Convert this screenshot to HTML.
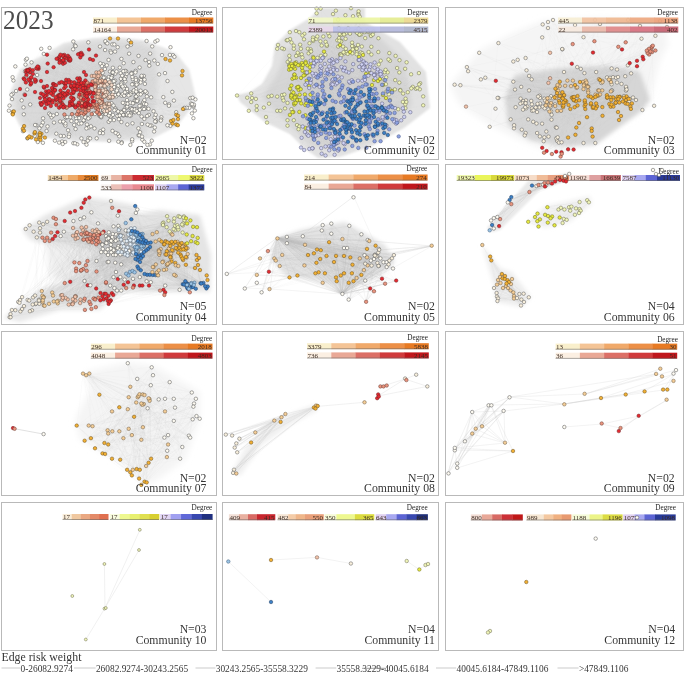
<!DOCTYPE html>
<html><head><meta charset="utf-8"><style>html,body{margin:0;padding:0;background:#fff;width:685px;height:673px;overflow:hidden}svg{display:block;filter:blur(0.3px)}text{opacity:.99}</style></head>
<body><svg width="685" height="673" viewBox="0 0 685 673" font-family="'Liberation Serif', serif">
<rect width="685" height="673" fill="#fff"/>
<style>.c0 circle{fill:#fefbf2;stroke:#505050;stroke-width:0.5;r:1.75px}.c1 circle{fill:#e42a30;stroke:#6e2224;stroke-width:0.5;r:1.75px}.c2 circle{fill:#e9957f;stroke:#6a3a30;stroke-width:0.5;r:1.75px}.c3 circle{fill:#f3c3aa;stroke:#6a5548;stroke-width:0.5;r:1.75px}.c4 circle{fill:#f6dccb;stroke:#6a5a50;stroke-width:0.5;r:1.75px}.c5 circle{fill:#f2b034;stroke:#6a5020;stroke-width:0.5;r:1.75px}.c6 circle{fill:#f0f5b8;stroke:#6a6a50;stroke-width:0.5;r:1.75px}.c7 circle{fill:#e6ea40;stroke:#6a6a20;stroke-width:0.5;r:1.75px}.c8 circle{fill:#cfd2f2;stroke:#5a5a7a;stroke-width:0.5;r:1.75px}.c9 circle{fill:#8ea2e0;stroke:#4a5a8a;stroke-width:0.5;r:1.75px}.c10 circle{fill:#3c80c6;stroke:#1e3c60;stroke-width:0.5;r:1.75px}.c11 circle{fill:#f8efdc;stroke:#585858;stroke-width:0.5;r:1.75px}.c12 circle{fill:#f4cd96;stroke:#6a5a45;stroke-width:0.5;r:1.75px}.c13 circle{fill:#e4eef6;stroke:#5a6a7a;stroke-width:0.5;r:1.75px}.c14 circle{fill:#9cc4e4;stroke:#3a5a7a;stroke-width:0.5;r:1.75px}.c15 circle{fill:#f0f5b8;stroke:#6a6a50;stroke-width:0.5;r:1.45px}</style>
<defs><filter id="b1" x="-20%" y="-20%" width="140%" height="140%"><feGaussianBlur stdDeviation="1"/></filter><filter id="b2" x="-20%" y="-20%" width="140%" height="140%"><feGaussianBlur stdDeviation="2"/></filter><filter id="b3" x="-20%" y="-20%" width="140%" height="140%"><feGaussianBlur stdDeviation="3"/></filter><filter id="b4" x="-20%" y="-20%" width="140%" height="140%"><feGaussianBlur stdDeviation="4"/></filter><filter id="b6" x="-20%" y="-20%" width="140%" height="140%"><feGaussianBlur stdDeviation="6"/></filter></defs>
<path d="M10.4 91.7L19.8 69.8L32.4 60.4L45.0 54.0L63.8 43.1L92.0 38.4L110.8 36.8L142.2 40.0L164.2 47.8L176.8 54.0L189.3 69.8L196.0 98.0L189.3 110.6L176.8 126.3L151.7 138.8L110.8 142.0L63.8 140.4L32.4 135.7L19.8 126.3L10.4 107.4Z" fill="#e6e6e6" fill-opacity="1" filter="url(#b1)"/>
<path d="M16.0 92.0L24.0 72.0L36.0 63.0L50.0 56.0L66.0 46.0L92.0 41.0L112.0 40.0L140.0 43.0L155.0 50.0L158.0 80.0L155.0 110.0L145.0 135.0L110.0 139.0L64.0 137.0L34.0 132.0L22.0 122.0L15.0 106.0Z" fill="#dadada" fill-opacity="1" filter="url(#b2)"/>
<path d="M142 137L123 103M169 104L112 44M165 73L144 76M132 123L98 110M89 91L89 86M60 121L103 95M109 106L50 48M99 83L71 98M99 83L53 89M57 96L174 101M35 136L59 63M120 116L124 63M105 104L59 95M156 122L66 58M112 44L59 95M107 107L93 84M146 104L116 92M190 98L118 142M54 67L13 94M62 102L89 105M95 91L101 80M105 95L151 97M29 79L11 95M44 54L74 99M107 92L98 99M55 141L85 105M88 108L53 90M68 91L125 115M113 82L118 111M69 135L76 129M99 83L71 98M83 142L45 108M114 87L138 94M79 114L99 115M85 86L55 141M69 82L86 75M165 103L112 85M124 79L88 103M101 116L68 91M40 98L106 82M90 59L105 95M193 106L135 112M140 67L106 95M98 110L98 97M115 95L69 137M81 92L112 85M105 86L53 95M115 52L85 105M184 109L112 44M71 94L146 60M71 121L59 95M63 96L93 81M103 64L132 109M36 125L39 138M105 114L95 87M105 50L78 111M140 79L131 103M114 87L38 67M80 90L93 81M102 102L151 126M80 108L86 84M25 95L134 90M97 112L124 96M193 118L95 90M102 82L102 115M124 79L87 92M86 94L86 75M115 95L149 66M128 113L111 103M113 82L90 106M35 79L55 85M78 54L100 81M174 101L75 89M52 88L129 54M84 114L115 74M79 103L85 88M79 97L91 126M134 90L88 93M117 116L112 131M119 119L143 102M133 79L86 142M107 103L116 92M178 116L93 104M170 47L144 142M134 103L60 60M105 111L23 131M121 73L100 47M105 95L9 111M93 104L79 84M120 68L44 54M100 47L105 90M144 109L57 114M110 113L150 54M141 91L98 99M176 125L112 116M155 118L136 89M183 109L68 91M64 57L59 143M184 108L98 97M93 113L37 69M107 107L136 92M63 98L10 106M66 80L93 101M105 92L141 94M193 98L142 124M25 71L61 94M72 104L137 101M136 78L112 116M113 82L120 116M111 51L161 120M9 111L103 92M118 111L125 103M65 123L81 100M23 131L65 123M27 59L79 107M143 103L139 113M155 127L71 98M156 122L87 83M113 72L27 90M128 113L78 54M100 133L110 120M125 79L75 45M114 44L103 130M82 105L103 79M131 115L52 91M137 84L135 72M83 85L125 86M125 115L131 103M49 114L82 109M31 138L71 94M119 93L99 92M60 60L78 54M23 129L86 106M52 91L131 114M141 91L81 123M69 137L99 92M73 90L35 125M22 100L103 91M104 96L137 85M54 123L30 85M89 50L123 103M114 110L178 119M66 58L66 80M136 71L72 105M147 116L100 75M44 54L98 99M81 123L98 106M113 105L32 62M96 76L55 90M125 92L132 77M56 105L102 102M46 102L35 92M116 96L99 101M77 78L87 104M73 93L23 131M149 66L85 109M93 101L96 93M102 115L83 142M105 50L10 106M59 95L119 115M71 86L108 94M59 83L13 114M117 91L65 126M105 95L61 102M104 97L107 107M103 92L86 128M52 91L54 67M85 88L54 123M110 71L143 103M93 101L83 142M105 77L105 87M139 135L109 116M56 97L71 86M25 71L66 117M53 116L32 62M40 137L59 63M49 103L107 103M107 103L118 38M166 59L127 91M52 117L123 94M140 79L76 129M59 97L83 88M60 102L63 96M156 122L193 106M103 79L89 108M84 92L92 85M63 61L127 89M40 140L13 94M148 125L107 103M105 114L135 112M142 117L125 103M103 133L101 103M44 88L109 98M44 97L63 98M124 63L35 125M147 93L101 103M118 94L161 121M139 106L80 87M59 143L137 84M38 142L88 105M147 93L85 88M83 142L103 91M109 104L114 81M98 110L29 136M142 76L81 92M38 67L71 86M105 95L66 118M73 49L64 115M79 103L83 101M144 142L128 47M127 106L24 126M79 84L60 96M79 114L79 124M115 52L171 121M96 72L92 76M87 102L144 76M113 72L60 102M138 94L133 92M62 82L76 118M133 103L60 96M86 145L48 93M119 115L192 104M71 86L74 82M24 114L47 86M98 76L74 92M141 94L74 125M99 114L106 110M144 142L155 121M60 60L109 122M85 105L20 89M88 105L60 99M56 85L29 136M107 103L110 98M66 58L84 72M100 47L59 95M50 101L138 100M167 125L56 100M45 108L35 132M64 93L119 93M28 71L71 82M124 110L120 68M53 101L87 96M75 89L96 94M147 116L111 116M83 93L135 101M57 99L104 96M111 83L88 88M100 131L57 114M131 45L102 110M120 116L140 132M184 109L125 115M102 83L105 86M83 142L100 107M103 83L73 87M72 105L29 79M64 115L31 83M117 116L83 85M135 72L136 89M96 108L85 105M59 58L99 86M113 97L156 122M70 102L43 123M99 86L89 94M128 104L98 99M94 105L147 96M48 126L103 91M74 86L134 112M82 93L155 121M49 91L143 102M63 98L81 113M114 85L97 81M63 56L29 136M60 96L131 74M125 103L85 86M101 116L115 74M131 74L120 68M140 67L74 125M132 109L131 103M138 94L65 84M142 124L63 64M145 91L118 94M139 135L59 58M81 53L87 100M118 111L101 116M102 110L89 107M141 106L100 63M126 88L81 53M56 105L35 82M137 93L47 86M83 91L77 144M88 105L90 84M148 109L104 97M110 97L28 71M88 42L28 71M140 110L93 93M88 88L85 117M149 62L123 115M116 96L109 98M122 142L105 92M94 76L82 106M76 105L92 85M100 116L76 105M123 86L130 113M112 76L47 86M159 74L103 79M49 103L25 94M29 136L102 115M121 143L81 123M144 100L109 104M101 82L35 132M93 102L102 110M124 96L68 94M85 107L51 93M41 126L86 92M99 91L114 120M80 108L71 98M53 116L154 131M145 84L147 145M103 83L98 109M82 115L45 138M60 96L79 111M131 114L121 59M130 93L115 95M102 102L85 103M107 103L54 92M83 85L27 59M109 77L99 92M48 64L82 106M136 96L43 123M98 97L81 98M105 107L132 108M128 104L60 99M114 110L135 101M112 76L60 60M104 96L11 95M145 109L147 93M13 114L44 54M24 78L128 113M109 115L53 95M88 141L146 60M104 105L176 125M28 138L79 84M40 98L153 111M103 73L100 133M141 106L79 105M109 60L25 95M59 95L151 97M121 112L170 47M76 46L173 55M81 113L71 98M123 94L77 90M119 87L27 138M64 123L103 64M60 60L41 94M94 105L66 80M97 138L96 93M127 100L80 57M115 108L99 101M156 115L99 83M98 106L110 98M182 75L114 85M13 94L101 103M109 106L102 102M85 105L92 97M140 67L53 95M59 95L77 144M101 103L89 108M54 123L98 110M100 104L151 97M56 104L80 108M100 107L43 123M85 113L107 84M124 110L144 104M46 102L46 91M63 64L63 96M115 108L102 111M70 103L79 97M90 138L99 92M104 96L194 105M76 116L88 108M147 96L98 110M41 49L9 111M147 116L130 94M114 110L128 95M136 80L82 93M48 93L127 106M141 94L131 42M45 138L79 111M84 114L111 84M105 95L85 113M64 115L100 116M48 99L28 71M114 110L87 83M64 55L105 87M93 105L90 93M78 105L145 91M77 78L35 92M96 81L102 102M132 108L13 114M116 71L52 88M44 54L130 95M83 87L93 60M73 88L24 131M80 87L125 103M105 107L65 106M96 108L124 96M63 56L51 93M73 87L31 83M82 109L113 92M134 103L94 105M33 74L49 103M121 112L100 107M95 114L59 83M107 95L152 46M35 125L125 79M144 76L88 141M130 93L105 50M65 84L105 104M122 76L70 59M152 141L104 91M89 94L101 117M169 104L136 78M109 98L102 83M94 105L125 103M90 105L63 122M102 110L76 129M46 104L41 134M131 115L41 94M48 101L77 78M75 91L126 88M71 98L109 141M102 102L131 114M88 141L35 92M80 84L93 84M68 130L73 90M28 71L120 68M56 97L102 85M69 137L128 113M53 116L103 85M77 121L85 103M98 97L145 91M102 66L66 80M136 92L66 118M112 131L110 71M85 104L69 57M81 98L44 54M130 94L62 82M145 92L31 77M138 94L116 71M52 88L84 121M100 110L127 114M87 83L101 116M63 105L72 114M38 142L23 129M134 90L96 81M62 142L103 95M85 86L91 85M63 93L161 117M69 59L147 41M103 79L67 117M112 76L29 79M47 72L36 81M45 138L105 85M99 83L135 112M105 90L45 96M110 97L59 97M98 78L31 83M40 133L30 85M108 93L40 103M40 135L69 60M104 105L99 83M111 103L138 128M61 136L92 107M99 92L83 142M136 71L107 92M107 92L120 68M133 84L143 102M93 93L138 128M53 89L78 54M77 144L100 91M81 53L13 77M112 131L135 110M136 89L65 123M83 106L36 81M48 126L114 110M145 92L127 89M70 59L101 103M100 63L112 85M131 108L53 89M80 78L134 90M94 128L37 75M94 128L125 77M54 67L70 117M68 130L87 100M95 91L92 107M105 92L120 114M50 101L102 66M89 105L85 88M111 84L132 73M89 86L169 104M107 84L96 85M107 111L116 92M118 111L62 82M150 126L47 95M86 106L117 116M61 91L106 114M60 102L141 106M132 109L48 101M131 115L46 91M118 111L86 75M176 115L109 104M123 86L50 115M83 87L88 93M189 108L127 125M140 67L43 102M132 139L80 78M91 126L42 104M26 75L20 89M81 123L137 101M94 101L113 115M144 142L112 76M101 117L138 100M111 51L80 78M65 63L35 125M60 56L9 111M87 100L87 104M156 120L102 110M95 87L143 103M134 90L130 145M70 104L81 138M93 113L53 89M96 85L98 109M89 108L109 122M116 71L140 110M99 97L142 93M105 92L114 81M132 109L104 96M69 137L81 53M68 130L49 103M85 86L167 125M65 106L107 107M24 131L31 78M76 118L114 87M119 119L89 127M83 93L136 85M85 88L119 87M105 107L142 140M125 79L43 102M121 73L109 115M144 76L26 65M63 64L136 82M98 97L66 117M83 103L116 92M131 103L135 72M44 88L152 46M125 86L95 80M157 40L142 93M116 71L94 101M68 91L83 101M131 115L85 107M103 83L106 43M105 95L103 133M89 91L109 104M105 50L101 85M91 126L159 74M125 92L85 117M114 120L48 93M102 108L59 97M52 88L132 139M111 116L152 46M170 60L195 111M61 91L100 63M136 78L105 107M100 81L127 125M59 83L39 67M105 81L26 65M89 127L63 60M154 60L165 73M79 118L90 84M66 107L88 138M102 92L191 104M94 76L59 95M75 107L24 126M61 136L124 79M121 112L168 81M137 84L133 103M103 73L88 108M74 99L36 139M106 110L120 116M69 106L86 128M170 126L110 120M103 95L75 91M96 81L182 75M99 92L101 80M85 109L95 90M97 112L39 128M145 84L87 97M107 95L84 121M77 86L61 94M26 70L48 101M170 55L59 83M80 108L142 124M85 112L91 92M103 85L72 105M65 63L96 94M118 134L86 128M90 106L88 108M40 137L127 91M93 113L173 55M97 95L30 85M128 113L79 114M94 101L89 86M118 111L112 76M107 103L142 76M13 94L44 87M106 110L159 74M107 92L130 95M102 102L140 67M88 88L47 72M123 103L99 92M64 93L135 112M43 118L102 81M75 143L51 106M122 86L108 94M45 99L118 94M83 95L149 66M156 122L64 93M48 99L136 92M68 56L110 38M47 55L122 76M105 86L110 120M52 88L35 136M63 56L125 92M156 115L88 100M174 57L127 108M77 114L72 101M105 50L143 103M69 80L110 97M11 95L48 104M170 60L156 122M140 67L142 76M90 84L22 100M56 104L105 92M110 38L123 71M105 81L100 116M145 92L70 117M48 99L88 42M135 72L117 89M112 131L124 88M142 137L86 94M153 111L113 97M103 130L63 144M47 55L99 92M81 92L67 93M124 79L26 72M166 59L80 90M86 142L41 105M103 83L55 85M152 141L66 117M105 77L77 144M103 64L35 82M57 114L118 94M154 131L71 87M102 108L105 85M66 58L125 92M83 106L118 47M60 101L101 83M13 114L77 78M138 128L131 73M85 104L89 86M170 60L76 46M135 112L73 49M170 60L141 82M54 123L57 96M103 79L52 91M127 106L125 81M173 55L99 86M156 120L112 76M41 81L77 78M148 125L111 90M41 105L102 110M59 63L71 87M26 76L106 110M195 111L144 119M109 104L82 104M71 86L26 76M65 123L133 79M96 72L113 115M102 83L72 104M105 92L85 86M105 50L133 92M101 117L89 50M98 82L117 91M97 112L174 101M50 101L107 93M90 105L121 73M157 40L79 118M126 71L111 83M104 91L31 77M103 83L101 82M167 125L146 60M114 81L123 71M57 96L85 93M101 111L107 84M51 106L97 105M54 67L145 91M88 108L112 131M29 136L36 68M108 80L144 142M149 115L176 115M123 71L82 106M110 95L94 128M84 92L108 94M105 50L148 109M161 117L126 107M120 68L131 103M84 72L157 40M193 107L88 100M83 101L118 111M86 142L112 44M142 137L60 99M130 93L76 105M65 63L82 109M150 126L82 93M39 128L85 86M83 91L161 117M69 135L89 110M112 76L27 90M91 85L23 131M103 73L109 104M106 43L144 109M96 76L47 72M66 118L85 104M104 105L76 108M71 98L124 96M60 102L122 96M119 115L40 133M105 90L93 93M102 66L71 86M133 62L189 108M85 104L97 95M139 135L57 96M110 82L60 60M103 85L78 111M132 141L64 57M92 114L128 47M30 69L53 90M80 108L176 115M82 55L55 90M67 117L98 94M83 93L38 142M113 115L87 96M103 91L62 82M74 82L27 138M63 122L44 97M125 77L24 107M101 82L151 126M100 81L77 114M63 98L50 99M85 117L141 106M107 103L87 94M88 88L82 105M110 113L100 81M73 93L39 134M70 117L41 134M65 106L97 138M102 100L107 92M26 72L100 104M141 94L128 104M143 103L80 87M83 95L56 134M88 103L123 103M92 107L143 102M77 86L75 143M144 109L56 100M106 91L104 78M55 90L79 105M63 56L108 94M101 85L65 94M178 125L85 112M120 68L85 117M15 66L86 128M102 102L190 98M101 80L53 101M100 116L47 131M125 71L88 118M68 130L61 102M85 103L90 106M105 95L156 120M66 58L61 102M105 77L65 142M60 56L71 86M127 106L60 60M107 111L26 70M82 106L61 106M111 116L86 94M99 83L127 114M136 89L75 91M108 85L76 129M28 71L105 95M70 103L117 116M110 109L130 116M90 106L109 122M63 107L15 66M93 113L139 56M83 101L136 82M128 47L100 104M43 118L121 59M97 79L103 89M84 120L93 101M82 109L65 142M156 115L109 141M135 72L39 134M24 126L73 41M116 96L93 84M105 86L39 69M178 116L105 77M102 83L106 91M170 126L72 104M161 120L108 107M57 99L90 138M120 68L83 91M60 60L47 131M76 129L130 93M44 97L66 87M161 121L83 103M96 76L85 105M132 123L148 125M14 111L79 97M125 86L107 95M134 103L172 124M61 94L104 96M82 104L124 88M61 136L110 38M142 109L142 93M44 87L60 56M12 99L24 107M101 82L195 111M36 68L113 97M80 87L62 82M165 73L127 108M96 97L90 84M73 98L29 136M30 69L123 94M126 71L44 54M36 125L26 82M101 117L45 108M77 84L87 96M117 91L87 97M93 105L124 63M75 91L99 115M87 83L39 128M80 90L27 90M80 80L70 59M134 112L106 110M109 81L100 104M45 96L105 50M124 96L36 68M105 77L13 112M66 87L149 115M90 84L57 59M109 60L43 94M60 102L132 73M61 94L65 123M109 60L83 87M63 96L47 86M99 97L141 82M109 77L105 107M131 108L65 126M127 125L140 110M87 92L136 89M144 100L103 95M65 142L88 88M70 117L119 115M88 138L26 60M109 141L60 102M178 116L63 144M83 101L25 94M60 102L105 41M71 121L132 109M127 89L183 109M38 142L85 105M89 110L89 127M121 122L102 83M136 71L118 47M106 82L89 91M85 112L95 114M59 63L56 104M28 71L48 99M99 97L106 114M75 143L63 107M131 115L136 82M61 62L72 105M83 101L60 102M105 41L84 99M135 110L149 62M98 95L107 107M195 99L98 110M43 94L156 115M105 85L40 137M109 98L61 91M76 46L142 117M136 82L59 95M101 83L85 105M98 94L104 105M90 105L59 58M121 59L128 95M88 42L178 119M112 95L106 104M133 62L100 107M166 59L141 106M69 106L100 75M38 67L128 95M147 41L65 106M89 105L80 84M52 88L119 87M47 55L141 94M48 104L70 104M66 80L87 88M99 115L85 105M133 84L98 106M24 131L108 93M131 108L64 93M88 93L131 74M96 86L120 114M61 55L111 84M102 83L68 94M116 96L109 77M195 111L123 71M89 108L28 138M89 127L72 105M60 60L73 87M155 121L114 85M152 46L87 102M99 86L130 93M69 57L73 143M85 88L112 72M93 104L87 94M76 118L72 105M89 105L85 107M101 80L142 124M84 121L139 135M82 93L41 134M144 80L125 81M83 88L82 104M117 89L30 105M133 79L77 121M38 142L137 84M113 97L142 117M110 113L67 108M97 105L85 104M121 112L139 106M59 63L122 86M90 105L136 101M59 97L11 95M125 103L107 65M74 92L148 125M102 102L85 109M133 103L79 114M88 103L101 82M110 95L161 120M28 71L97 138M139 56L56 105M60 101L36 68M121 112L136 82M31 78L85 116M105 81L99 97M85 93L44 87M105 77L102 83M141 82L82 55M103 133L85 95M73 93L40 135M114 110L79 97M152 141L133 79M104 96L97 81M120 114L155 42M110 120L103 110M125 81L56 104M152 141L109 77M106 91L48 126M50 115L60 60M24 80L132 84M61 136L86 92M56 134L114 81M111 83L71 94M60 96L63 144M94 101L115 81M75 107L96 94M57 59L111 84M53 90L98 109M145 91L71 94M118 94L98 82M24 107L63 56M105 85L102 66M147 93L35 92M83 106L111 90M193 106L80 108M78 105L127 91M191 104L92 114M45 138L69 137M109 81L118 142M90 105L60 102M44 88L135 101M76 116L143 102M61 102L106 110M77 144L106 43M39 138L110 97M23 129L28 70M59 143L122 86M147 116L141 80M115 95L144 109M123 115L104 78M36 68L49 114M96 89L93 105M134 112L139 135M81 53L123 86M135 101L87 100M96 89L115 52M96 56L132 123M76 129L139 106M100 133L32 62M99 92L124 88M119 93L131 114M53 89L98 106M47 72L131 114M111 84L105 50M136 97L129 40M28 71L62 82M62 82L65 84M100 104L133 103M73 105L74 82M146 104L136 78M56 105L113 92M101 80L41 134M148 109L105 81M107 92L87 92M111 83L142 117M81 92L104 91M107 108L60 102M79 97L121 83M103 110L137 101M98 82L49 103M93 93L35 92M59 95L93 93M129 54L55 90M123 86L110 95M97 81L132 139M105 114L130 93M149 115L107 95M91 92L85 105M111 116L74 86M59 143L67 117M107 108L85 105M86 94L63 56M98 94L118 86M126 88L69 135M184 109L79 84M187 108L133 79M105 77L79 81M113 72L101 111M44 88L40 98M59 97L111 78M112 76L87 94M110 120L80 80M141 82L124 88M139 106L109 98M73 87L77 144M66 96L112 88M146 60L62 82M28 70L133 92M38 67L101 82M45 99L61 136M126 107L41 105M98 97L105 86M170 47L124 96M183 109L110 98M109 77L35 132M75 143L79 84M184 109L125 115M79 107L83 91M144 142L93 104M116 110L85 103M33 70L85 80M87 104L46 104M36 68L101 117M43 118L74 92M85 104L59 143M129 40L79 95M80 53L34 133M79 81L85 105M75 91L97 79M119 87L73 49M16 91L87 96M101 85L68 94M35 92L43 123M47 86L96 97M86 84L67 108M112 89L122 96M107 107L42 104M71 94L85 105M93 113L56 105M24 131L40 140M117 91L131 114M139 106L98 99M70 60L103 92M125 79L33 70M97 112L57 96M59 95L109 77M31 83L60 102M93 93L25 94M47 95L105 107M71 87L89 86M67 117L71 98M136 78L142 76M76 105L85 80M23 129L62 82M144 119L60 102M98 82L23 129M169 104L72 104M121 122L103 64M102 85L158 64M138 94L75 86M193 118L101 71M43 123L70 60M131 108L65 123M97 105L122 76M137 93L112 131M24 114L40 137M80 53L109 106M133 79L64 136M65 123L105 77M103 133L136 109M65 84L68 56M103 95L69 80M135 72L104 91M99 92L71 87M105 92L130 93M47 131L55 85M103 133L150 145M112 76L118 111M111 78L123 71M156 122L68 91M102 108L24 114M81 138L48 64M76 118L96 56M67 93L92 76M124 110L173 120M51 93L116 110M30 105L99 114M173 55L128 47M176 115L114 87M121 79L123 86M57 59L98 110M94 101L56 104M62 142L80 84M148 125L59 95M120 114L85 88M66 83L131 42M66 87L25 95M81 113L22 100M101 117L66 87M79 111L81 113M194 105L111 103M25 95L105 111M77 144L69 59M151 126L64 123M86 128L121 122M79 105L48 99M112 89L73 87M47 131L102 100M94 101L59 95M140 67L67 108M47 55L39 69M56 134L85 105M139 56L152 46M24 126L71 87M127 115L89 107M13 80L63 64M83 142L41 105M45 108L125 81M84 99L92 76M48 93L64 55M114 44L142 137M31 83L100 107M111 51L103 133M134 90L105 95M98 99L100 91M84 72L131 73M31 83L112 116M47 86L107 92M113 97L74 125M105 92L71 82M135 72L142 117M91 92L82 109M165 73L165 103M82 93L193 107M62 102L107 108M52 91L59 95M112 95L38 142M33 70L48 99M76 116L63 96M118 134L156 115M118 94L28 138M97 112L37 69M71 98L157 40M47 95L98 95M140 132L141 82M136 82L96 86M69 80L129 54M116 110L81 138M88 105L105 95M113 82L60 102M60 121L129 40M98 99L54 123M26 60L60 96M76 116L85 104M136 109L119 136M142 124L33 74M139 106L105 90M65 126L73 41M27 59L104 97M60 102L100 131M86 128L24 114M47 95L30 81M86 142L145 91M124 88L110 109M70 61L47 72M104 96L141 91M45 99L155 118M150 54L125 81M103 130L80 87M96 89L82 55M79 105L96 94M13 112L64 115M184 109L77 84M109 81L65 142M31 83L118 111M83 91L9 111M88 108L85 105M106 95L102 82M43 118L60 60M85 88L115 74M130 93L86 84M50 99L70 102M102 102L121 122M112 131L95 90M76 116L39 134M137 101L115 81M82 93L111 98M66 87L98 97M46 102L74 92M138 94L71 121M101 76L110 97M123 94L53 95M107 111L86 92M85 105L134 112M49 103L32 62M24 114L41 134M88 100L86 92M29 136L131 115M26 65L31 83M48 64L75 89M116 133L50 115M182 71L144 100M44 97L103 73M86 84L77 78M105 95L193 98M72 114L139 135M99 86L122 76M121 112L93 102M143 103L193 98M112 88L41 81M105 69L172 124M95 91L82 103M111 83L92 114M144 80L95 91M84 99L40 137M53 103L40 135M59 97L79 81M127 91L112 76M144 104L80 78M14 111L53 84M144 109L54 67M106 104L66 117M102 66L86 92M69 82L62 102M15 66L124 115M136 71L80 108M43 102L84 92M37 75L100 81M65 142L44 97M112 88L87 104M98 97L101 71M87 96L86 75M94 128L96 76M122 76L123 71M142 124L141 80M76 116L59 95M87 100L85 105M130 113L76 116M136 85L92 85M99 83L141 106M102 82L24 131M139 135L109 115M105 69L70 60M103 91L79 84M120 114L69 57M65 142L20 89M131 45L60 56M97 79L99 92M98 82L69 80M133 79L147 93M84 86L65 94M78 54L138 94M36 81L123 71M99 115L103 91M109 122L39 128M85 113L87 100M145 84L109 115M83 101L47 95M69 82L137 85M94 101L92 114M89 91L84 83M105 81L110 113M64 93L112 116M149 66L85 105M89 50L142 140M155 121L118 142M170 47L106 95M40 137L75 107M145 109L105 92M10 106L45 108M96 81L195 99M105 87L81 113M109 60L41 94M90 138L86 84M61 136L85 109M100 116L141 106M109 104L26 70M83 101L99 86M161 121L65 63M71 87L66 96M108 107L57 59M128 113L131 115M98 76L140 110M127 106L27 59M101 76L66 117M86 94L105 87M109 81L77 78M96 86L158 64M76 46L64 93M139 106L67 93M131 103L91 92M39 134L102 83M82 99L59 108M65 84L24 131M121 143L47 86M79 84L136 85M46 91L73 90M100 81L85 107M158 64L170 47M112 131L138 100M192 104L154 60M113 97L73 90M47 86L106 95M84 86L148 109M97 95L63 122M105 92L135 101M98 110L112 89M132 141L63 122M84 120L107 93M150 54L46 91M114 87L63 96M63 122L151 97M140 79L41 94M84 83L57 59M91 92L124 96M55 141L115 95M178 119L101 80M56 134L64 93M81 55L35 82M145 108L132 139M81 83L76 118M30 85L55 90M106 91L14 111M104 97L92 107M94 105L100 116M84 72L35 136M101 83L112 131M100 116L56 104M145 92L110 71M59 95L118 134M74 86L86 104M50 48L49 103M77 87L64 83M37 75L124 110M75 86L41 134M50 48L130 95M112 76L154 60M138 94L144 80M90 105L96 72M86 84L12 99M159 74L173 55M77 86L51 93M53 103L119 115M63 60L57 99M120 68L124 88M90 93L98 106M142 109L178 116M156 115L121 112M107 92L82 99M63 56L31 78M80 90L112 95M138 100L111 51M137 101L123 103M63 122L43 143M121 79L105 114M105 97L109 116M132 73L44 54M61 62L96 85M96 72L105 86M57 96L72 105M44 54L91 85M107 107L81 92M75 107L85 107M100 47L131 42M82 55L143 102M26 65L85 112M56 100L131 42M84 83L131 114M83 91L84 114M80 57L85 105M30 81L102 81M128 104L127 115M38 67L97 81M92 85L144 109M52 88L146 104M106 43L31 83M100 103L71 94M46 104L43 94M123 71L107 111M88 105L64 88M83 103L107 65M136 92L141 80M132 73L85 105M128 47L133 92M80 53L157 40M109 98L49 103M85 80L150 54M83 101L109 104M92 114L193 98M87 124L130 93M101 80L81 53M139 56L24 78M80 87L121 79M86 94L59 95M111 98L136 109M103 73L69 80M83 95L116 110M98 76L45 108M156 115L136 97M55 90L79 84M140 79L83 101M83 103L55 90M115 108L41 81M103 92L109 106M100 81L105 104M62 82L83 88M84 86L108 80M83 85L100 47M79 105L97 105M99 72L161 120M70 60L26 76M64 115L111 51M82 99L79 95M137 85L113 68M136 109L56 85M93 60L75 86M45 138L70 60M137 85L102 102M66 96L84 114M77 78L106 82M80 78L169 106M138 94L100 81M119 115L83 93M88 88L148 125M63 98L141 80M136 78L76 108M13 112L120 114M145 109L81 123M40 137L156 120M142 124L71 82M64 123L101 111M39 69L102 81M100 91L127 125M80 90L134 103M111 51L130 113M99 83L120 68M130 94L71 87M40 103L74 99" stroke="#bdbdbd" stroke-width="0.45" stroke-opacity="0.12" fill="none"/>
<g class="c0"><circle cx="127.5" cy="46.5"/><circle cx="155.3" cy="41.6"/><circle cx="145.5" cy="60.0"/><circle cx="104.9" cy="69.0"/><circle cx="103.2" cy="64.3"/><circle cx="105.9" cy="42.7"/><circle cx="136.1" cy="89.1"/><circle cx="110.5" cy="51.1"/><circle cx="149.1" cy="62.0"/><circle cx="173.0" cy="55.2"/><circle cx="112.3" cy="44.4"/><circle cx="126.2" cy="88.4"/><circle cx="115.4" cy="73.6"/><circle cx="154.3" cy="60.5"/><circle cx="146.6" cy="41.0"/><circle cx="105.1" cy="50.0"/><circle cx="157.8" cy="63.9"/><circle cx="126.7" cy="73.9"/><circle cx="138.5" cy="55.9"/><circle cx="167.5" cy="81.0"/><circle cx="120.7" cy="73.2"/><circle cx="144.6" cy="92.1"/><circle cx="162.0" cy="55.1"/><circle cx="135.5" cy="84.7"/><circle cx="112.9" cy="67.8"/><circle cx="103.3" cy="79.1"/><circle cx="165.0" cy="73.1"/><circle cx="174.4" cy="56.8"/><circle cx="159.1" cy="74.4"/><circle cx="149.3" cy="65.7"/><circle cx="140.3" cy="78.8"/><circle cx="105.2" cy="81.2"/><circle cx="169.9" cy="54.9"/><circle cx="132.8" cy="79.1"/><circle cx="101.9" cy="66.1"/><circle cx="114.3" cy="44.4"/><circle cx="105.0" cy="85.4"/><circle cx="111.0" cy="52.6"/><circle cx="133.2" cy="91.9"/><circle cx="106.8" cy="65.3"/><circle cx="146.7" cy="92.7"/><circle cx="123.7" cy="63.2"/><circle cx="130.5" cy="92.7"/><circle cx="115.0" cy="51.6"/><circle cx="119.8" cy="67.6"/><circle cx="150.1" cy="53.6"/><circle cx="100.3" cy="63.4"/><circle cx="131.4" cy="72.7"/><circle cx="143.8" cy="75.9"/><circle cx="157.5" cy="40.4"/><circle cx="133.4" cy="62.1"/><circle cx="108.8" cy="77.0"/><circle cx="105.3" cy="41.2"/><circle cx="117.7" cy="47.2"/><circle cx="128.9" cy="40.3"/><circle cx="100.0" cy="46.5"/><circle cx="108.6" cy="59.9"/><circle cx="102.2" cy="92.1"/><circle cx="152.2" cy="46.4"/><circle cx="121.4" cy="58.9"/><circle cx="131.0" cy="44.7"/><circle cx="139.6" cy="67.5"/><circle cx="107.3" cy="43.4"/><circle cx="129.1" cy="53.7"/><circle cx="170.5" cy="47.2"/><circle cx="125.5" cy="77.0"/><circle cx="126.2" cy="71.3"/><circle cx="142.9" cy="103.4"/><circle cx="111.6" cy="87.6"/><circle cx="106.7" cy="107.1"/><circle cx="125.7" cy="107.4"/><circle cx="115.1" cy="80.7"/><circle cx="142.3" cy="108.7"/><circle cx="140.6" cy="105.5"/><circle cx="109.8" cy="94.8"/><circle cx="116.5" cy="71.4"/><circle cx="99.5" cy="83.4"/><circle cx="111.5" cy="103.2"/><circle cx="109.5" cy="80.9"/><circle cx="108.2" cy="79.8"/><circle cx="130.5" cy="113.2"/><circle cx="141.7" cy="93.0"/><circle cx="132.0" cy="108.4"/><circle cx="102.4" cy="101.7"/><circle cx="145.3" cy="107.6"/><circle cx="137.0" cy="92.9"/><circle cx="107.3" cy="107.9"/><circle cx="115.3" cy="108.4"/><circle cx="118.9" cy="115.4"/><circle cx="135.7" cy="78.2"/><circle cx="104.6" cy="77.3"/><circle cx="145.1" cy="108.7"/><circle cx="105.6" cy="109.7"/><circle cx="116.2" cy="96.3"/><circle cx="125.4" cy="114.8"/><circle cx="120.6" cy="111.8"/><circle cx="141.0" cy="80.1"/><circle cx="111.1" cy="84.1"/><circle cx="110.5" cy="98.1"/><circle cx="111.5" cy="90.1"/><circle cx="104.8" cy="113.7"/><circle cx="116.4" cy="92.0"/><circle cx="128.3" cy="113.4"/><circle cx="119.9" cy="114.1"/><circle cx="124.1" cy="95.5"/><circle cx="125.2" cy="70.9"/><circle cx="120.9" cy="78.8"/><circle cx="107.0" cy="92.7"/><circle cx="135.7" cy="96.7"/><circle cx="115.0" cy="94.9"/><circle cx="126.9" cy="107.6"/><circle cx="103.5" cy="96.9"/><circle cx="110.9" cy="83.3"/><circle cx="138.2" cy="94.4"/><circle cx="127.2" cy="106.5"/><circle cx="145.4" cy="91.3"/><circle cx="129.9" cy="94.3"/><circle cx="124.6" cy="103.3"/><circle cx="121.5" cy="95.6"/><circle cx="122.9" cy="115.2"/><circle cx="134.4" cy="112.1"/><circle cx="127.1" cy="115.3"/><circle cx="141.7" cy="76.6"/><circle cx="104.3" cy="91.2"/><circle cx="101.8" cy="81.6"/><circle cx="101.8" cy="102.1"/><circle cx="138.8" cy="113.1"/><circle cx="106.0" cy="104.4"/><circle cx="132.3" cy="76.9"/><circle cx="109.4" cy="115.7"/><circle cx="118.7" cy="93.4"/><circle cx="106.4" cy="90.7"/><circle cx="124.8" cy="86.3"/><circle cx="108.2" cy="85.3"/><circle cx="135.6" cy="70.9"/><circle cx="126.8" cy="91.1"/><circle cx="98.9" cy="85.9"/><circle cx="130.4" cy="94.6"/><circle cx="101.3" cy="117.3"/><circle cx="103.4" cy="82.7"/><circle cx="100.1" cy="107.4"/><circle cx="112.1" cy="76.2"/><circle cx="120.0" cy="113.7"/><circle cx="140.6" cy="82.4"/><circle cx="105.8" cy="114.1"/><circle cx="127.7" cy="103.6"/><circle cx="102.7" cy="72.8"/><circle cx="133.8" cy="90.4"/><circle cx="101.8" cy="115.0"/><circle cx="131.0" cy="108.5"/><circle cx="102.4" cy="111.1"/><circle cx="101.5" cy="111.4"/><circle cx="121.6" cy="86.3"/><circle cx="126.8" cy="114.5"/><circle cx="111.9" cy="76.2"/><circle cx="125.4" cy="81.4"/><circle cx="103.7" cy="77.7"/><circle cx="100.6" cy="79.7"/><circle cx="114.2" cy="84.6"/><circle cx="137.5" cy="83.9"/><circle cx="124.0" cy="78.5"/><circle cx="136.1" cy="96.5"/><circle cx="107.9" cy="92.8"/><circle cx="140.6" cy="90.7"/><circle cx="123.7" cy="110.1"/><circle cx="118.4" cy="94.3"/><circle cx="115.8" cy="109.9"/><circle cx="134.7" cy="100.5"/><circle cx="119.0" cy="86.7"/><circle cx="100.8" cy="76.2"/><circle cx="101.7" cy="105.6"/><circle cx="111.3" cy="77.8"/><circle cx="102.4" cy="110.4"/><circle cx="143.3" cy="102.2"/><circle cx="112.7" cy="81.6"/><circle cx="113.2" cy="92.1"/><circle cx="106.2" cy="91.4"/><circle cx="111.7" cy="116.2"/><circle cx="110.7" cy="116.4"/><circle cx="114.1" cy="87.1"/><circle cx="122.7" cy="94.1"/><circle cx="108.5" cy="94.2"/><circle cx="102.7" cy="89.2"/><circle cx="113.8" cy="81.2"/><circle cx="128.5" cy="95.4"/><circle cx="137.0" cy="101.6"/><circle cx="135.2" cy="112.2"/><circle cx="118.3" cy="85.7"/><circle cx="135.7" cy="100.9"/><circle cx="100.3" cy="110.1"/><circle cx="144.4" cy="100.1"/><circle cx="136.2" cy="109.0"/><circle cx="105.2" cy="95.1"/><circle cx="124.2" cy="110.1"/><circle cx="139.8" cy="109.7"/><circle cx="128.4" cy="112.9"/><circle cx="133.5" cy="103.3"/><circle cx="110.0" cy="71.5"/><circle cx="104.9" cy="87.3"/><circle cx="103.5" cy="110.1"/><circle cx="127.0" cy="100.1"/><circle cx="130.6" cy="102.7"/><circle cx="139.5" cy="105.9"/><circle cx="124.2" cy="95.7"/><circle cx="132.3" cy="73.2"/><circle cx="136.3" cy="82.1"/><circle cx="101.9" cy="82.7"/><circle cx="135.9" cy="79.9"/><circle cx="123.7" cy="88.4"/><circle cx="122.9" cy="102.8"/><circle cx="137.9" cy="99.6"/><circle cx="131.4" cy="73.7"/><circle cx="105.7" cy="82.2"/><circle cx="136.6" cy="84.6"/><circle cx="101.2" cy="82.9"/><circle cx="132.9" cy="103.2"/><circle cx="133.1" cy="84.0"/><circle cx="124.9" cy="92.3"/><circle cx="122.2" cy="75.7"/><circle cx="144.5" cy="79.6"/><circle cx="148.9" cy="114.9"/><circle cx="98.9" cy="92.0"/><circle cx="121.4" cy="82.9"/><circle cx="108.9" cy="115.4"/><circle cx="109.0" cy="97.9"/><circle cx="105.4" cy="95.2"/><circle cx="140.7" cy="94.4"/><circle cx="144.1" cy="103.8"/><circle cx="110.0" cy="113.1"/><circle cx="123.3" cy="71.2"/><circle cx="121.4" cy="84.5"/><circle cx="105.3" cy="86.5"/><circle cx="114.4" cy="110.3"/><circle cx="141.6" cy="75.8"/><circle cx="146.2" cy="104.2"/><circle cx="144.9" cy="83.9"/><circle cx="117.4" cy="88.9"/><circle cx="116.8" cy="90.5"/><circle cx="112.3" cy="72.3"/><circle cx="103.3" cy="110.1"/><circle cx="112.9" cy="114.9"/><circle cx="111.0" cy="82.8"/><circle cx="124.6" cy="79.1"/><circle cx="117.4" cy="115.9"/><circle cx="144.0" cy="109.0"/><circle cx="130.8" cy="113.8"/><circle cx="146.9" cy="96.4"/><circle cx="135.4" cy="72.4"/><circle cx="136.1" cy="91.6"/><circle cx="137.1" cy="100.9"/><circle cx="112.9" cy="72.4"/><circle cx="122.6" cy="86.5"/><circle cx="113.5" cy="105.5"/><circle cx="132.1" cy="84.4"/><circle cx="127.0" cy="88.9"/><circle cx="56.8" cy="114.0"/><circle cx="62.0" cy="141.5"/><circle cx="99.6" cy="116.1"/><circle cx="93.5" cy="113.2"/><circle cx="79.5" cy="111.4"/><circle cx="66.1" cy="117.6"/><circle cx="109.1" cy="140.8"/><circle cx="132.5" cy="123.3"/><circle cx="88.8" cy="127.4"/><circle cx="84.0" cy="120.5"/><circle cx="43.1" cy="118.3"/><circle cx="100.4" cy="131.3"/><circle cx="147.2" cy="116.0"/><circle cx="70.2" cy="117.2"/><circle cx="87.0" cy="124.5"/><circle cx="148.5" cy="108.8"/><circle cx="39.2" cy="134.3"/><circle cx="151.4" cy="125.5"/><circle cx="85.9" cy="142.3"/><circle cx="142.3" cy="139.7"/><circle cx="161.4" cy="117.2"/><circle cx="49.2" cy="113.7"/><circle cx="102.9" cy="133.2"/><circle cx="119.2" cy="136.3"/><circle cx="94.5" cy="128.4"/><circle cx="40.1" cy="136.9"/><circle cx="65.2" cy="142.0"/><circle cx="118.9" cy="119.2"/><circle cx="51.6" cy="117.3"/><circle cx="117.7" cy="133.8"/><circle cx="103.2" cy="129.6"/><circle cx="85.5" cy="116.3"/><circle cx="74.2" cy="125.0"/><circle cx="149.9" cy="125.6"/><circle cx="65.5" cy="117.1"/><circle cx="99.8" cy="133.0"/><circle cx="89.6" cy="117.5"/><circle cx="121.8" cy="142.2"/><circle cx="78.9" cy="123.6"/><circle cx="123.7" cy="115.3"/><circle cx="138.6" cy="135.3"/><circle cx="100.6" cy="115.6"/><circle cx="161.1" cy="119.5"/><circle cx="141.6" cy="116.5"/><circle cx="63.8" cy="136.1"/><circle cx="73.3" cy="143.2"/><circle cx="99.4" cy="114.9"/><circle cx="64.0" cy="123.4"/><circle cx="121.5" cy="143.1"/><circle cx="54.0" cy="122.6"/><circle cx="62.7" cy="144.0"/><circle cx="42.8" cy="122.6"/><circle cx="151.8" cy="140.7"/><circle cx="130.3" cy="144.9"/><circle cx="156.1" cy="120.2"/><circle cx="59.1" cy="142.6"/><circle cx="132.0" cy="109.2"/><circle cx="121.4" cy="122.0"/><circle cx="83.6" cy="120.3"/><circle cx="71.4" cy="121.0"/><circle cx="81.4" cy="138.4"/><circle cx="141.9" cy="124.0"/><circle cx="41.4" cy="125.5"/><circle cx="83.5" cy="142.0"/><circle cx="60.1" cy="121.5"/><circle cx="88.4" cy="138.0"/><circle cx="134.7" cy="109.5"/><circle cx="154.6" cy="117.5"/><circle cx="132.1" cy="141.2"/><circle cx="79.1" cy="118.1"/><circle cx="69.1" cy="134.5"/><circle cx="76.1" cy="118.2"/><circle cx="154.1" cy="131.5"/><circle cx="65.4" cy="125.6"/><circle cx="85.2" cy="117.3"/><circle cx="90.9" cy="126.3"/><circle cx="155.7" cy="114.8"/><circle cx="139.3" cy="135.3"/><circle cx="142.0" cy="136.6"/><circle cx="113.9" cy="120.1"/><circle cx="76.5" cy="121.4"/><circle cx="136.7" cy="110.9"/><circle cx="60.7" cy="135.9"/><circle cx="39.4" cy="128.4"/><circle cx="77.3" cy="144.3"/><circle cx="149.9" cy="144.5"/><circle cx="47.5" cy="126.4"/><circle cx="127.3" cy="124.5"/><circle cx="65.4" cy="123.4"/><circle cx="115.6" cy="132.9"/><circle cx="132.2" cy="139.3"/><circle cx="121.4" cy="112.5"/><circle cx="144.3" cy="118.9"/><circle cx="108.7" cy="121.8"/><circle cx="130.9" cy="115.4"/><circle cx="67.2" cy="117.1"/><circle cx="54.9" cy="140.7"/><circle cx="110.2" cy="120.1"/><circle cx="86.5" cy="144.7"/><circle cx="101.0" cy="116.6"/><circle cx="140.1" cy="132.2"/><circle cx="96.7" cy="138.3"/><circle cx="144.3" cy="141.8"/><circle cx="50.5" cy="115.0"/><circle cx="155.9" cy="121.8"/><circle cx="147.6" cy="124.6"/><circle cx="68.8" cy="136.8"/><circle cx="112.5" cy="130.9"/><circle cx="63.3" cy="121.6"/><circle cx="53.4" cy="115.5"/><circle cx="68.1" cy="130.2"/><circle cx="119.7" cy="115.5"/><circle cx="123.2" cy="114.9"/><circle cx="75.6" cy="115.5"/><circle cx="138.4" cy="128.3"/><circle cx="86.4" cy="128.4"/><circle cx="118.1" cy="111.4"/><circle cx="56.3" cy="133.7"/><circle cx="88.3" cy="118.5"/><circle cx="75.0" cy="143.3"/><circle cx="75.6" cy="129.0"/><circle cx="81.4" cy="123.4"/><circle cx="147.4" cy="144.9"/><circle cx="82.3" cy="115.3"/><circle cx="129.6" cy="115.5"/><circle cx="90.1" cy="138.4"/><circle cx="87.8" cy="140.7"/><circle cx="94.9" cy="114.0"/><circle cx="118.3" cy="141.7"/><circle cx="46.6" cy="131.0"/><circle cx="21.7" cy="100.4"/><circle cx="13.4" cy="80.5"/><circle cx="27.3" cy="138.3"/><circle cx="12.0" cy="99.1"/><circle cx="37.8" cy="142.0"/><circle cx="15.3" cy="66.4"/><circle cx="42.9" cy="142.8"/><circle cx="25.9" cy="59.8"/><circle cx="37.1" cy="75.0"/><circle cx="23.0" cy="131.2"/><circle cx="16.1" cy="91.0"/><circle cx="27.2" cy="89.5"/><circle cx="12.6" cy="77.2"/><circle cx="34.8" cy="135.8"/><circle cx="9.5" cy="105.6"/><circle cx="30.2" cy="104.5"/><circle cx="31.2" cy="82.6"/><circle cx="23.5" cy="107.4"/><circle cx="23.8" cy="114.3"/><circle cx="24.5" cy="94.5"/><circle cx="8.9" cy="110.7"/><circle cx="26.1" cy="76.2"/><circle cx="36.3" cy="125.2"/><circle cx="25.0" cy="71.2"/><circle cx="25.5" cy="64.6"/><circle cx="12.8" cy="93.8"/><circle cx="11.4" cy="94.8"/><circle cx="26.9" cy="58.7"/><circle cx="31.5" cy="62.4"/><circle cx="35.1" cy="125.0"/><circle cx="189.4" cy="107.8"/><circle cx="186.7" cy="107.8"/><circle cx="193.5" cy="106.8"/><circle cx="195.4" cy="99.4"/><circle cx="190.3" cy="98.1"/><circle cx="193.4" cy="118.2"/><circle cx="184.2" cy="108.5"/><circle cx="193.5" cy="105.7"/><circle cx="192.6" cy="97.7"/><circle cx="194.8" cy="110.6"/><circle cx="191.1" cy="103.6"/><circle cx="193.9" cy="104.5"/><circle cx="192.1" cy="104.2"/><circle cx="184.3" cy="107.9"/><circle cx="191.9" cy="113.4"/><circle cx="165.2" cy="102.8"/><circle cx="151.1" cy="97.3"/><circle cx="154.8" cy="127.5"/><circle cx="170.4" cy="125.8"/><circle cx="155.1" cy="121.4"/><circle cx="153.5" cy="111.2"/><circle cx="169.1" cy="104.4"/><circle cx="176.2" cy="112.2"/><circle cx="167.4" cy="125.3"/><circle cx="168.9" cy="105.8"/><circle cx="173.9" cy="100.6"/><circle cx="160.8" cy="120.6"/><circle cx="163.3" cy="97.1"/><circle cx="172.3" cy="91.9"/><circle cx="88.3" cy="42.3"/><circle cx="73.1" cy="49.3"/><circle cx="75.0" cy="45.3"/><circle cx="49.6" cy="47.9"/><circle cx="73.3" cy="41.5"/><circle cx="75.6" cy="46.1"/><circle cx="43.8" cy="53.9"/><circle cx="41.2" cy="48.8"/></g>
<g class="c1"><circle cx="67.9" cy="55.8"/><circle cx="59.6" cy="60.5"/><circle cx="69.4" cy="59.3"/><circle cx="58.6" cy="57.9"/><circle cx="59.7" cy="56.4"/><circle cx="69.3" cy="57.4"/><circle cx="63.1" cy="63.8"/><circle cx="68.6" cy="60.0"/><circle cx="59.8" cy="60.4"/><circle cx="69.6" cy="60.6"/><circle cx="68.9" cy="59.3"/><circle cx="65.8" cy="58.3"/><circle cx="64.9" cy="62.7"/><circle cx="56.6" cy="58.8"/><circle cx="64.3" cy="57.1"/><circle cx="61.4" cy="61.6"/><circle cx="70.2" cy="60.4"/><circle cx="64.4" cy="54.9"/><circle cx="70.3" cy="59.2"/><circle cx="62.8" cy="55.6"/><circle cx="62.7" cy="55.6"/><circle cx="63.4" cy="60.6"/><circle cx="63.2" cy="60.0"/><circle cx="59.5" cy="62.7"/><circle cx="60.5" cy="54.7"/><circle cx="80.1" cy="53.5"/><circle cx="78.1" cy="54.3"/><circle cx="81.3" cy="52.9"/><circle cx="80.3" cy="57.4"/><circle cx="82.4" cy="54.7"/><circle cx="81.0" cy="54.7"/><circle cx="29.8" cy="80.9"/><circle cx="29.7" cy="69.2"/><circle cx="29.9" cy="72.4"/><circle cx="32.9" cy="73.9"/><circle cx="30.5" cy="84.6"/><circle cx="26.0" cy="72.1"/><circle cx="26.5" cy="70.2"/><circle cx="23.7" cy="78.4"/><circle cx="27.9" cy="70.0"/><circle cx="24.5" cy="79.6"/><circle cx="26.5" cy="75.1"/><circle cx="31.3" cy="83.1"/><circle cx="35.9" cy="80.6"/><circle cx="30.7" cy="78.0"/><circle cx="35.3" cy="81.8"/><circle cx="28.5" cy="79.5"/><circle cx="31.4" cy="77.3"/><circle cx="28.0" cy="71.0"/><circle cx="28.0" cy="70.5"/><circle cx="34.9" cy="79.5"/><circle cx="25.9" cy="82.5"/><circle cx="32.8" cy="70.2"/><circle cx="38.6" cy="68.8"/><circle cx="38.5" cy="67.0"/><circle cx="37.1" cy="68.6"/><circle cx="36.4" cy="68.2"/><circle cx="37.6" cy="66.5"/><circle cx="47.0" cy="54.7"/><circle cx="47.7" cy="63.6"/><circle cx="53.6" cy="67.2"/><circle cx="47.0" cy="72.0"/><circle cx="41.0" cy="81.0"/><circle cx="20.0" cy="89.0"/><circle cx="89.0" cy="49.5"/><circle cx="90.0" cy="59.0"/><circle cx="96.0" cy="55.6"/><circle cx="93.0" cy="60.0"/><circle cx="84.0" cy="72.0"/><circle cx="86.0" cy="75.0"/><circle cx="55.0" cy="90.0"/><circle cx="40.0" cy="98.0"/><circle cx="45.0" cy="108.0"/><circle cx="35.0" cy="92.0"/><circle cx="25.0" cy="95.0"/></g>
<g class="c2"><circle cx="95.8" cy="108.0"/><circle cx="95.7" cy="86.5"/><circle cx="99.2" cy="83.2"/><circle cx="86.9" cy="92.0"/><circle cx="85.9" cy="103.6"/><circle cx="88.3" cy="87.8"/><circle cx="105.0" cy="95.1"/><circle cx="101.8" cy="99.7"/><circle cx="90.2" cy="105.9"/><circle cx="87.7" cy="103.2"/><circle cx="93.1" cy="83.7"/><circle cx="101.0" cy="81.8"/><circle cx="99.3" cy="114.1"/><circle cx="91.8" cy="106.9"/><circle cx="83.2" cy="94.8"/><circle cx="87.7" cy="108.3"/><circle cx="85.3" cy="112.8"/><circle cx="85.9" cy="83.6"/><circle cx="97.6" cy="94.9"/><circle cx="81.1" cy="100.5"/><circle cx="97.5" cy="106.5"/><circle cx="95.6" cy="89.2"/><circle cx="89.2" cy="90.8"/><circle cx="83.8" cy="85.5"/><circle cx="103.2" cy="95.0"/><circle cx="88.6" cy="110.4"/><circle cx="84.5" cy="93.4"/><circle cx="92.9" cy="105.2"/><circle cx="99.1" cy="100.9"/><circle cx="87.8" cy="88.1"/><circle cx="82.3" cy="108.7"/><circle cx="96.5" cy="104.7"/><circle cx="82.7" cy="92.6"/><circle cx="99.7" cy="98.2"/><circle cx="81.5" cy="93.5"/><circle cx="102.8" cy="84.5"/><circle cx="83.4" cy="87.1"/><circle cx="97.7" cy="108.7"/><circle cx="84.9" cy="88.1"/><circle cx="92.6" cy="81.4"/><circle cx="87.2" cy="82.6"/><circle cx="98.5" cy="92.4"/><circle cx="83.5" cy="100.5"/><circle cx="89.2" cy="106.6"/><circle cx="97.4" cy="95.0"/><circle cx="95.7" cy="93.5"/><circle cx="82.0" cy="99.1"/><circle cx="89.3" cy="104.6"/><circle cx="103.4" cy="92.2"/><circle cx="94.1" cy="105.0"/><circle cx="89.8" cy="84.1"/><circle cx="98.2" cy="110.2"/><circle cx="99.7" cy="103.0"/><circle cx="101.9" cy="102.2"/><circle cx="96.0" cy="93.2"/><circle cx="86.8" cy="100.1"/><circle cx="80.7" cy="91.8"/><circle cx="99.9" cy="103.5"/><circle cx="95.6" cy="85.0"/><circle cx="89.9" cy="93.2"/><circle cx="95.4" cy="91.4"/><circle cx="96.9" cy="112.2"/><circle cx="83.1" cy="101.2"/><circle cx="99.8" cy="90.5"/><circle cx="91.7" cy="114.0"/><circle cx="79.1" cy="96.7"/><circle cx="82.5" cy="106.3"/><circle cx="104.3" cy="95.8"/><circle cx="80.8" cy="98.0"/><circle cx="93.1" cy="103.7"/></g>
<g class="c3"><circle cx="99.2" cy="96.8"/><circle cx="104.9" cy="91.9"/><circle cx="96.4" cy="72.4"/><circle cx="94.9" cy="86.8"/><circle cx="97.6" cy="99.3"/><circle cx="96.3" cy="81.1"/><circle cx="106.9" cy="92.1"/><circle cx="97.1" cy="78.9"/><circle cx="104.6" cy="96.6"/><circle cx="98.4" cy="93.6"/><circle cx="96.4" cy="96.8"/><circle cx="104.7" cy="104.3"/><circle cx="98.4" cy="82.4"/><circle cx="99.9" cy="75.3"/><circle cx="105.0" cy="84.9"/><circle cx="105.3" cy="81.2"/><circle cx="96.8" cy="80.6"/><circle cx="97.7" cy="77.8"/><circle cx="95.1" cy="80.3"/><circle cx="95.4" cy="90.1"/><circle cx="97.7" cy="96.8"/><circle cx="101.9" cy="85.2"/><circle cx="101.4" cy="70.6"/><circle cx="101.8" cy="80.5"/><circle cx="91.8" cy="76.0"/><circle cx="96.2" cy="76.4"/><circle cx="101.0" cy="102.8"/><circle cx="102.0" cy="107.5"/><circle cx="104.2" cy="105.2"/><circle cx="99.6" cy="101.2"/><circle cx="100.0" cy="81.1"/><circle cx="94.2" cy="75.9"/><circle cx="98.9" cy="72.5"/><circle cx="98.4" cy="76.1"/><circle cx="98.8" cy="90.9"/></g>
<g class="c4"><circle cx="107.6" cy="106.8"/><circle cx="106.6" cy="95.4"/><circle cx="109.3" cy="105.9"/><circle cx="105.2" cy="89.9"/><circle cx="108.9" cy="98.2"/><circle cx="109.6" cy="109.4"/><circle cx="104.6" cy="111.3"/><circle cx="107.1" cy="92.4"/><circle cx="110.1" cy="97.8"/><circle cx="104.7" cy="106.7"/><circle cx="105.1" cy="92.0"/><circle cx="107.4" cy="103.3"/><circle cx="103.0" cy="90.5"/><circle cx="105.9" cy="95.1"/><circle cx="111.6" cy="85.1"/><circle cx="111.6" cy="89.3"/><circle cx="107.1" cy="84.3"/><circle cx="107.1" cy="111.0"/><circle cx="109.2" cy="104.1"/><circle cx="104.6" cy="86.0"/><circle cx="104.2" cy="96.3"/><circle cx="108.9" cy="103.8"/><circle cx="112.4" cy="94.7"/><circle cx="100.7" cy="85.4"/><circle cx="112.9" cy="97.1"/><circle cx="109.2" cy="104.0"/><circle cx="112.7" cy="97.2"/><circle cx="108.6" cy="97.8"/><circle cx="109.7" cy="96.7"/><circle cx="109.5" cy="82.1"/></g>
<g class="c2"><circle cx="79.7" cy="108.0"/><circle cx="83.2" cy="103.3"/><circle cx="61.7" cy="102.5"/><circle cx="83.7" cy="113.9"/><circle cx="79.3" cy="106.8"/><circle cx="85.4" cy="112.2"/><circle cx="75.8" cy="105.4"/><circle cx="66.2" cy="107.5"/><circle cx="66.8" cy="107.6"/><circle cx="78.7" cy="114.1"/><circle cx="56.5" cy="103.5"/><circle cx="85.0" cy="109.5"/><circle cx="89.0" cy="107.8"/><circle cx="76.9" cy="114.2"/><circle cx="70.3" cy="103.3"/><circle cx="78.8" cy="104.8"/><circle cx="60.6" cy="102.2"/><circle cx="59.8" cy="102.2"/><circle cx="81.6" cy="105.1"/><circle cx="82.1" cy="104.4"/><circle cx="81.4" cy="113.1"/><circle cx="82.0" cy="103.1"/><circle cx="78.3" cy="111.2"/><circle cx="72.0" cy="114.1"/><circle cx="64.4" cy="114.5"/></g>
<g class="c1"><circle cx="79.6" cy="78.3"/><circle cx="85.4" cy="80.4"/><circle cx="56.0" cy="99.9"/><circle cx="47.6" cy="103.8"/><circle cx="66.2" cy="79.8"/><circle cx="59.3" cy="95.2"/><circle cx="63.4" cy="98.3"/><circle cx="46.4" cy="101.9"/><circle cx="59.1" cy="97.3"/><circle cx="74.5" cy="90.5"/><circle cx="60.4" cy="101.6"/><circle cx="92.8" cy="101.5"/><circle cx="70.9" cy="86.8"/><circle cx="78.8" cy="102.8"/><circle cx="57.3" cy="96.2"/><circle cx="72.9" cy="87.3"/><circle cx="62.9" cy="104.6"/><circle cx="59.8" cy="98.5"/><circle cx="72.9" cy="104.9"/><circle cx="84.8" cy="86.5"/><circle cx="62.5" cy="95.6"/><circle cx="85.3" cy="104.6"/><circle cx="40.5" cy="103.0"/><circle cx="85.1" cy="104.0"/><circle cx="71.2" cy="86.2"/><circle cx="87.4" cy="102.2"/><circle cx="77.7" cy="105.4"/><circle cx="70.1" cy="101.9"/><circle cx="49.6" cy="100.5"/><circle cx="92.0" cy="85.0"/><circle cx="73.2" cy="98.3"/><circle cx="65.0" cy="84.2"/><circle cx="52.8" cy="100.5"/><circle cx="83.9" cy="91.8"/><circle cx="43.1" cy="102.2"/><circle cx="82.8" cy="85.0"/><circle cx="71.6" cy="104.9"/><circle cx="89.3" cy="93.7"/><circle cx="65.6" cy="95.7"/><circle cx="48.5" cy="99.0"/><circle cx="59.0" cy="94.9"/><circle cx="61.3" cy="93.5"/><circle cx="44.2" cy="97.0"/><circle cx="83.7" cy="82.7"/><circle cx="72.6" cy="88.3"/><circle cx="88.2" cy="92.6"/><circle cx="70.9" cy="85.8"/><circle cx="83.2" cy="90.8"/><circle cx="92.9" cy="101.0"/><circle cx="85.5" cy="106.9"/><circle cx="70.3" cy="104.1"/><circle cx="64.6" cy="106.4"/><circle cx="72.7" cy="89.9"/><circle cx="52.9" cy="94.9"/><circle cx="75.2" cy="106.7"/><circle cx="76.8" cy="89.8"/><circle cx="64.0" cy="82.8"/><circle cx="52.8" cy="88.6"/><circle cx="90.4" cy="105.1"/><circle cx="83.6" cy="99.3"/><circle cx="75.5" cy="107.6"/><circle cx="81.8" cy="106.2"/><circle cx="77.3" cy="87.0"/><circle cx="72.3" cy="100.7"/><circle cx="44.1" cy="87.7"/><circle cx="65.9" cy="83.1"/><circle cx="77.3" cy="78.4"/><circle cx="79.6" cy="83.9"/><circle cx="50.8" cy="106.0"/><circle cx="88.3" cy="104.7"/><circle cx="46.1" cy="91.4"/><circle cx="86.9" cy="96.9"/><circle cx="64.2" cy="88.2"/><circle cx="85.7" cy="92.3"/><circle cx="74.4" cy="82.3"/><circle cx="79.4" cy="94.6"/><circle cx="46.4" cy="104.1"/><circle cx="53.5" cy="90.4"/><circle cx="47.0" cy="86.1"/><circle cx="86.7" cy="88.0"/><circle cx="47.7" cy="92.7"/><circle cx="56.4" cy="105.1"/><circle cx="41.3" cy="104.9"/><circle cx="76.8" cy="84.3"/><circle cx="65.7" cy="86.6"/><circle cx="53.0" cy="84.0"/><circle cx="59.1" cy="107.7"/><circle cx="43.7" cy="86.7"/><circle cx="80.1" cy="86.8"/><circle cx="84.8" cy="88.2"/><circle cx="86.3" cy="93.8"/><circle cx="48.8" cy="91.1"/><circle cx="90.9" cy="84.5"/><circle cx="71.1" cy="82.1"/><circle cx="48.4" cy="101.1"/><circle cx="79.3" cy="83.9"/><circle cx="73.3" cy="92.9"/><circle cx="53.9" cy="84.2"/><circle cx="73.5" cy="99.2"/><circle cx="85.1" cy="95.5"/><circle cx="80.5" cy="90.2"/><circle cx="79.9" cy="79.7"/><circle cx="85.0" cy="88.1"/><circle cx="86.8" cy="103.9"/><circle cx="90.8" cy="92.3"/><circle cx="88.6" cy="86.0"/><circle cx="48.8" cy="102.9"/><circle cx="59.3" cy="82.9"/><circle cx="59.5" cy="95.8"/><circle cx="63.9" cy="93.5"/><circle cx="45.0" cy="99.4"/><circle cx="85.4" cy="104.0"/><circle cx="56.6" cy="99.3"/><circle cx="60.1" cy="100.5"/><circle cx="41.6" cy="104.2"/><circle cx="93.3" cy="92.8"/><circle cx="67.8" cy="93.9"/><circle cx="52.5" cy="102.5"/><circle cx="78.5" cy="83.9"/><circle cx="71.4" cy="93.7"/><circle cx="78.8" cy="81.1"/><circle cx="88.4" cy="99.5"/><circle cx="66.6" cy="93.0"/><circle cx="61.5" cy="82.1"/><circle cx="72.3" cy="103.8"/><circle cx="46.5" cy="95.2"/><circle cx="81.3" cy="82.9"/><circle cx="85.9" cy="106.1"/><circle cx="60.5" cy="90.6"/><circle cx="86.7" cy="93.8"/><circle cx="60.9" cy="106.2"/><circle cx="83.1" cy="88.2"/><circle cx="51.9" cy="88.1"/><circle cx="63.3" cy="107.4"/><circle cx="84.7" cy="105.4"/><circle cx="85.3" cy="103.4"/><circle cx="41.1" cy="93.5"/><circle cx="52.5" cy="90.7"/><circle cx="74.7" cy="88.9"/><circle cx="68.8" cy="80.1"/><circle cx="63.1" cy="93.1"/><circle cx="94.2" cy="101.3"/><circle cx="92.3" cy="97.0"/><circle cx="84.9" cy="104.5"/><circle cx="75.2" cy="86.0"/><circle cx="77.3" cy="86.2"/><circle cx="69.5" cy="105.7"/><circle cx="74.0" cy="85.5"/><circle cx="68.2" cy="91.0"/><circle cx="55.7" cy="97.4"/><circle cx="45.0" cy="95.8"/><circle cx="93.5" cy="93.4"/><circle cx="53.6" cy="92.0"/><circle cx="69.0" cy="82.5"/><circle cx="55.0" cy="90.2"/><circle cx="54.7" cy="85.3"/><circle cx="43.1" cy="94.4"/><circle cx="86.7" cy="96.3"/><circle cx="71.1" cy="97.5"/><circle cx="49.7" cy="99.3"/><circle cx="64.7" cy="94.4"/><circle cx="73.5" cy="92.1"/><circle cx="56.0" cy="85.3"/><circle cx="50.9" cy="93.4"/><circle cx="60.2" cy="95.6"/></g>
<g class="c5"><circle cx="34.5" cy="133.4"/><circle cx="27.7" cy="138.1"/><circle cx="24.1" cy="126.1"/><circle cx="31.4" cy="137.5"/><circle cx="22.8" cy="128.8"/><circle cx="44.9" cy="137.6"/><circle cx="24.0" cy="130.7"/><circle cx="29.2" cy="136.5"/><circle cx="36.0" cy="139.4"/><circle cx="41.4" cy="133.8"/><circle cx="39.2" cy="137.6"/><circle cx="39.8" cy="133.1"/><circle cx="40.4" cy="137.0"/><circle cx="39.9" cy="135.0"/><circle cx="34.9" cy="132.1"/><circle cx="40.4" cy="139.8"/><circle cx="13.0" cy="111.8"/><circle cx="12.7" cy="113.6"/><circle cx="13.8" cy="111.4"/><circle cx="12.8" cy="114.4"/><circle cx="172.5" cy="123.6"/><circle cx="176.3" cy="114.7"/><circle cx="171.0" cy="121.0"/><circle cx="176.3" cy="124.5"/><circle cx="177.8" cy="125.2"/><circle cx="173.4" cy="120.0"/><circle cx="178.0" cy="119.1"/><circle cx="178.0" cy="115.7"/><circle cx="110.0" cy="38.5"/><circle cx="118.0" cy="38.5"/><circle cx="131.0" cy="42.5"/><circle cx="165.5" cy="59.0"/><circle cx="170.0" cy="60.5"/><circle cx="182.5" cy="71.0"/><circle cx="182.0" cy="75.4"/><circle cx="183.0" cy="109.0"/></g>
<path d="M237.0 95.0L250.0 92.0L262.0 84.0L272.0 66.0L275.0 45.0L290.0 30.0L310.0 18.0L320.0 8.0L365.0 8.0L365.0 22.0L400.0 42.0L426.0 72.0L430.0 108.0L404.0 128.0L372.0 146.0L340.0 157.0L318.0 158.0L304.0 148.0L290.0 134.0L265.0 122.0L240.0 102.0Z" fill="#e2e2e2" fill-opacity="1" filter="url(#b1)"/>
<path d="M262.0 98.0L278.0 72.0L286.0 50.0L330.0 30.0L372.0 30.0L405.0 62.0L412.0 105.0L380.0 138.0L340.0 150.0L310.0 145.0L285.0 120.0Z" fill="#d6d6d6" fill-opacity="1" filter="url(#b2)"/>
<path d="M294 46L381 74M359 67L382 124M338 137L296 56M320 66L310 101M360 135L353 119M368 106L310 114M380 79L313 134M309 119L395 113M329 150L362 86M345 68L278 45M368 76L386 70M324 126L343 120M362 70L334 145M370 116L351 51M365 38L308 100M383 128L352 124M344 52L348 101M366 148L288 120M325 73L344 127M298 65L334 142M387 125L322 82M344 70L365 64M370 122L342 77M320 127L298 129M272 96L372 134M319 126L295 63M371 101L352 70M359 15L367 85M349 114L375 141M302 71L364 66M392 91L331 61M341 56L299 65M294 75L331 72M317 58L337 143M293 99L311 80M343 85L317 58M395 120L318 100M345 61L346 133M308 49L340 34M302 68L313 134M298 87L308 100M299 55L391 106M357 119L338 143M352 118L369 52M292 112L396 120M374 80L291 69M352 46L329 61M375 89L313 40M390 61L353 100M318 94L287 40M390 101L369 92M376 111L360 135M314 139L372 101M406 102L316 136M268 97L352 137M396 124L306 103M350 83L316 136M284 100L294 46M369 52L361 127M384 111L349 124M346 130L333 123M390 101L361 59M341 102L341 140M298 53L311 61M330 134L383 128M310 81L339 28M392 92L338 77M371 47L375 78M295 97L374 117M360 131L314 121M291 86L334 113M306 128L338 150M343 120L314 140M410 112L382 117M404 117L316 110M347 112L330 134M365 79L389 53M382 107L312 93M297 125L386 84M294 67L352 124M356 107L330 128M374 117L400 90M292 79L388 59M292 79L390 113M315 106L322 68M278 45L375 78M384 133L410 112M362 96L344 120M361 34L318 100M288 126L352 46M294 120L410 112M344 52L355 31M394 120L313 41M327 45L369 101M360 131L330 126M352 118L360 35M329 146L299 90M405 69L335 121M368 32L376 111M301 147L296 97M334 63L366 76M358 95L385 80M308 128L331 72M346 39L314 121M358 105L290 39M313 66L346 52M306 98L334 142M298 100L361 59M317 58L313 38M340 34L353 49M308 136L392 119M387 112L390 113M322 58L351 8M313 136L321 76M371 94L332 84M317 58L336 60M390 101L304 76M303 126L377 107M344 34L357 101M316 111L353 99M345 61L338 20M385 80L358 14M311 124L309 119M359 15L364 124M374 113L336 131M352 118L328 74M313 57L420 89M374 113L341 102M339 116L352 132M374 110L320 70M353 46L359 98M329 134L323 129M392 107L378 81M335 131L309 53M333 74L309 86M381 73L377 131M351 93L321 76M360 17L328 71M390 101L351 104M369 121L364 134M352 43L371 73M371 64L315 127M296 96L330 134M329 150L321 115M337 124L310 51M338 150L386 125M366 84L333 109M367 112L371 94M406 102L345 113M373 135L371 101M320 70L333 109M329 126L353 46M367 115L311 61M310 101L320 41M403 94L375 62M357 119L353 98M338 47L349 93M347 122L303 65M313 41L311 115M257 110L290 115M296 97L374 101M333 70L307 73M382 108L367 115M358 104L374 113M359 98L347 128M310 81L380 110M376 111L423 96M346 130L345 15M309 86L321 148M309 79L306 85M350 83L251 102M396 120L297 125M366 148L359 115M392 91L321 61M325 55L312 131M292 66L344 119M390 113L352 43M308 49L326 155M307 119L364 116M354 109L367 31M321 71L375 75M346 49L272 96M317 61L395 89M365 67L383 110M353 100L344 53M371 94L406 99M387 125L326 133M365 112L417 88M370 129L389 89M307 101L251 102M371 64L293 93M300 45L371 36M299 112L353 16M355 116L290 32M375 127L305 132M316 108L373 106M337 83L411 88M302 35L335 84M374 117L383 128M337 61L356 107M390 100L321 103M330 134L383 118M370 73L301 103M325 119L316 111M296 31L388 59M380 110L338 77M252 98L296 78M351 130L385 125M328 33L326 129M346 130L331 85M355 116L327 46M331 85L313 66M358 14L368 106M350 52L348 125M314 123L343 85M331 147L283 98M387 109L396 56M362 53L374 68M319 135L291 97M288 103L289 66M341 54L361 123M327 46L352 53M315 106L313 135M357 33L395 80M292 112L403 108M333 123L352 43M303 126L319 113M382 117L379 64M313 41L326 155M323 86L317 9M311 104L339 94M343 137L344 143M388 135L320 87M348 142L403 108M342 88L352 80M366 116L400 90M306 85L355 31M332 59L302 138M350 52L366 70M360 126L419 73M291 95L304 150M310 81L404 112M359 57L278 45M319 104L340 134M369 101L365 67M317 61L311 102M371 54L403 102M382 117L341 41M330 134L397 122M335 137L300 100M343 128L299 112M331 72L360 17M299 90L317 119M353 100L366 102M329 96L277 97M294 46L327 46M369 101L333 79M364 62L343 70M329 96L387 91M381 141L311 121M351 126L368 106M359 29L381 74M337 124L272 96M334 68L301 147M362 86L400 90M386 98L323 57M410 112L351 93M386 98L355 112M389 107L371 101M388 91L348 89M295 97L333 110M392 92L284 49M329 146L357 119M313 57L311 131M318 78L317 101M320 66L291 69M335 137L361 123M328 33L351 93M301 147L384 133M302 58L387 112M371 89L366 124M344 34L371 54M327 113L298 100M314 63L345 61M317 13L319 131M338 77L377 131M312 128L366 116M383 122L316 108M329 128L340 58M358 81L407 62M307 73L357 54M334 68L333 113M399 72L399 136M360 140L382 120M375 126L329 146M312 128L381 73M340 95L302 138M327 116L267 123M294 103L351 102M318 94L326 133M316 111L332 143M375 75L297 100M306 85L316 74M334 149L366 124M410 112L346 52M357 101L324 94M336 133L305 115M312 128L341 35M284 94L346 33M350 83L315 62M338 139L356 48M305 75L310 71M318 130L340 130M315 62L385 118M352 111L303 126M311 127L345 30M362 47L374 113M344 34L288 120M315 106L289 66M382 107L344 34M311 80L256 99M312 131L371 110M331 61L352 80M355 31L423 96M389 129L323 57M313 113L345 144M302 71L390 61M344 32L356 48M370 129L323 57M356 48L377 134M313 134L319 113M367 112L383 85M338 77L410 112M306 62L299 65M304 39L316 110M295 99L283 98M364 95L403 108M348 101L320 87M347 112L395 89M392 107L388 135M331 118L337 61M364 95L353 119M341 41L294 46M365 67L365 80M336 117L306 128M311 127L305 94M331 113L359 11M306 100L322 68M374 75L295 74M312 93L375 74M304 34L290 39M404 112L370 108M333 133L338 139M327 116L369 108M338 77L317 85M357 101L299 90M384 111L367 115M293 99L315 62M310 114L351 126M316 108L307 73M336 102L375 126M371 101L384 111M327 70L385 125M321 76L341 56M288 62L333 101M361 123L311 52M389 107L374 136M387 118L329 74M358 95L347 128M311 115L316 74M364 124L310 114M316 117L373 94M328 74L355 112M292 79L392 119M351 51L339 116M366 120L293 112M321 71L339 149M343 120L308 49M351 130L310 95M332 59L312 131M369 115L353 100M405 108L311 121M374 110L387 109M374 101L331 128M335 131L294 75M366 74L324 104M385 80L328 74M299 32L369 98M290 60L378 69M331 139L364 62M289 56L336 11M328 71L349 82M366 136L301 49M323 91L419 84M288 126L329 146M374 113L380 79M379 64L322 58M357 140L389 107M403 94L336 11M365 67L301 103M375 126L362 86M329 146L296 103M328 122L383 122M363 55L349 93M360 140L314 123M360 135L336 102M364 62L294 78M309 119L369 98M304 34L294 105M313 76L293 93M375 62L335 121M296 62L338 150M310 67L329 67M299 55L366 136M310 120L333 68M350 52L304 34M385 108L324 52M405 108L295 63M340 58L379 64M319 104L359 60M329 67L416 89M326 138L291 97M335 137L297 100M360 35L380 124M410 112L318 130M366 76L340 58M365 77L335 79M359 115L356 90M362 47L364 62M322 154L311 102M335 133L290 115M353 119L295 99M322 82L318 130M375 75L395 89M303 65L299 112M366 120L359 122M358 14L305 94M309 86L292 112M297 55L302 58M353 100L314 140M296 97L398 109M371 106L364 116M343 128L307 73M318 130L322 58M312 131L352 46M294 49L312 131M351 102L295 74M338 137L367 106M330 122L278 45M353 46L369 92M364 62L343 46M357 49L306 128M374 68L419 73M385 108L312 131M294 120L343 121M318 100L336 11M335 79L311 102M237 96L343 70M413 87L365 67M297 88L354 126M349 93L322 68M378 119L356 48M397 123L312 73M349 124L331 139M289 66L375 127M349 73L328 33M385 80L333 117M317 9L296 62M374 136L317 119M419 73L382 107M386 125L359 115M360 140L302 71M370 122L353 100M359 11L362 70M294 46L335 142M359 88L351 126M328 122L365 79M352 80L382 124M356 48L301 147M338 20L365 112M331 147L344 32M362 81L319 113M374 75L396 124M318 143L296 103M329 67L317 85M374 136L313 57M298 129L339 41M289 70L349 73M330 128L308 101M338 137L278 45M367 112L367 31M320 127L341 56M374 113L367 115M384 133L344 32M359 98L413 87M284 49L353 99M345 150L321 148M339 82L315 129M298 87L311 131M310 51L301 147M321 115L292 66M312 131L343 46M292 66L384 72M378 123L292 79M289 65L311 121M323 129L311 123M399 136L296 103M388 72L370 129M329 146L352 80M321 56L337 143M338 143L387 112M346 39L308 106M338 20L318 130M325 99L374 113M362 47L311 124M360 135L384 72M390 113L366 120M385 80L297 125M390 100L343 120M324 126L309 124M388 72L382 85M322 154L372 85M306 103L357 49M387 125L311 115M362 65L395 113M324 104L324 126M296 31L367 106M305 75L405 108M284 49L344 34M364 66L295 74M325 78L302 68M387 91L339 28M302 138L295 99M356 48L344 34M371 101L323 113M330 110L387 112M366 136L299 87M374 110L309 149M317 85L365 112M369 98L316 108M305 115L417 88M306 100L364 116M339 82L401 120M359 120L378 119M277 111L362 47M349 73L306 100M310 114L322 68M403 102L374 113M301 78L395 120M396 56L419 73M356 90L371 110M382 108L322 68M311 115L317 96M335 121L309 79M380 124L353 119M403 94L356 107M311 115L339 28M333 118L311 63M351 129L314 39M334 149L323 91M367 139L329 134M384 111L341 35M411 88L375 75M332 143L390 101M329 134L355 31M336 131L294 103M336 102L333 113M352 80L335 79M359 67L419 84M335 137L304 76M338 77L362 81M353 82L369 52M395 120L311 49M307 83L351 100M386 84L331 72M377 94L396 120M297 125L335 140M416 89L311 83M351 51L295 69M344 125L309 43M357 119L380 79M370 116L326 129M307 83L352 46M296 96L320 127M308 100L396 120M295 97L387 112M344 119L339 116M397 122L337 70M379 64L306 72M304 39L341 120M340 58L399 72M374 68L391 106M347 129L348 101M349 124L387 125M390 100L338 47M338 150L374 113M305 75L357 54M356 90L404 112M312 131L370 123M341 116L343 137M349 93L364 134M398 109L359 11M360 135L351 129M292 43L329 134M336 143L301 89M382 85L358 104M366 136L406 99M339 94L293 93M312 148L329 67M297 88L384 111M323 57L369 52M312 148L388 91M385 127L367 106M313 76L367 112M341 41L337 83M359 98L325 55M384 80L297 100M301 147L345 113M297 125L319 104M392 92L329 67M297 55L383 118M390 61L332 64M354 111L294 75M267 123L331 85M371 106L341 136M299 65L295 97M313 136L356 107M370 73L382 120M338 139L361 92M272 96L314 64M290 115L353 98M321 148L295 63M366 120L249 111M339 94L294 49M397 122L388 72M291 69L384 110M344 70L288 126M331 72L347 112M366 76L309 124M322 82L345 68M268 97L359 115M309 88L374 32M338 137L327 123M297 100L299 126M367 85L375 78M371 89L305 115M333 70L324 52M388 59L400 90M325 73L355 93M386 125L385 108M353 99L342 120M305 115L405 108M298 129L312 102M352 70L364 116M347 128L315 127M296 64L309 53M326 129L378 108M371 110L329 128M304 39L357 54M291 86L352 53M299 87L399 83M328 71L373 94M357 101L321 71M328 74L294 67M366 70L383 95M334 142L350 83M330 128L347 122M385 125L343 137M371 36L387 112M361 117L321 115M331 118L332 121M386 84L384 111M340 56L329 36M257 110L321 115M299 112L312 131M356 48L336 121M313 136L338 150M301 49L311 104M333 117L372 118M351 90L335 80M383 122L361 34M366 76L300 100M352 132L419 73M331 139L323 120M335 121L327 70M338 139L389 129M362 81L357 119M345 15L354 109M296 62L325 119M322 114L378 108M371 89L307 83M350 52L306 128M314 58L323 97M360 35L306 72M346 130L344 32M359 29L361 102M333 79L307 73M347 101L288 40M331 118L344 143M334 63L311 63M309 86L319 113M257 110L336 121M330 110L309 79M350 103L382 76M292 92L323 91M384 80L389 129M294 120L313 41M311 104L359 60M330 122L384 72M389 129L367 112M338 143L371 94M351 93L249 111M343 46L329 61M360 35L327 45M310 114L365 79M417 88L316 39M321 74L338 47M344 127L299 32M400 90L320 70M377 72L382 107M399 83L308 106M366 116L282 95M343 121L336 143M316 117L272 96M316 111L309 119M382 76L375 74M297 125L395 89M410 112L313 134M365 67L306 85M388 59L375 141M307 83L366 84M294 103L309 124M366 64L343 137M358 45L374 113M375 75L359 98M395 108L354 109M340 34L349 93M357 140L371 106M314 102L334 142M388 89L384 111M419 73L372 134M294 78L323 97M364 66L332 64M309 149L325 55M321 126L358 14M345 15L291 97M347 129L340 134M329 134L344 119M291 86L333 85M353 49L390 100M351 116L351 104M306 128L387 118M390 61L338 77M320 87L364 62M316 122L251 102M395 108L386 125M323 120L344 32M334 63L320 70M375 62L357 119M385 108L345 15M382 108L316 74M353 49L316 77M369 92L376 122M345 125L309 124M356 107L327 70M375 126L314 102M306 100L344 97M365 80L382 117M306 128L405 69M346 49L366 76M390 101L359 29M376 122L302 54M330 110L338 150M348 28L344 53M374 113L359 57M314 102L352 137M291 97L301 147M381 141L321 126M369 52L389 94M301 89L360 17M356 140L411 74M336 117L385 118M329 96L345 113M387 118L300 45M296 97L371 35M305 105L288 62M351 126L310 71M368 135L346 130M342 88L347 128M237 96L277 97M312 131L347 112M371 110L333 101M331 139L397 123M372 85L322 46M338 139L299 90M356 140L332 84M320 70L359 88M374 113L335 142M370 129L356 48M362 65L344 143M413 87L382 124M345 113L391 105M411 88L324 94M341 102L315 129M374 113L371 73M326 100L314 39M369 92L388 135M347 129L392 119M366 84L373 94M237 96L290 39M362 70L371 101M388 135L331 139M329 61L330 134M289 65L316 117M334 149L353 46M387 91L339 116M345 30L365 32M395 113L329 150M332 64L306 62M304 76L313 113M383 118L311 115M356 48L404 112M321 126L359 88M404 112L370 123M334 68L345 125M369 121L352 137M320 87L370 129M367 112L297 88M333 133L344 52M329 146L387 91M326 79L358 60M378 125L413 87M316 111L327 127M310 101L310 114M295 69L298 100M308 100L294 105M335 80L329 36M313 135L306 128M374 80L346 33M309 43L312 131M302 138L325 64M326 129L334 142M336 102L358 81M342 120L367 112M325 64L375 126M349 108L375 89M382 107L318 100M388 135L285 108M318 143L383 122M386 112L380 79M313 135L344 53M353 16L343 85M364 134L313 66M304 39L311 121M326 133L289 65M345 106L333 117M297 125L295 74M292 66L366 64M369 95L344 101M321 74L384 80M364 66L327 46M308 101L316 77M374 68L337 70M328 74L357 140M381 61L312 73M313 76L349 114M375 75L366 76M347 122L329 36M389 107L341 41M404 117L316 111M374 101L335 84M293 99L316 85M338 20L309 53M322 58L305 75M336 143L324 104M299 112L371 73M298 87L324 104M316 39L359 35M329 126L300 95M360 135L336 102M329 96L319 76M378 52L323 91M334 145L357 119M333 79L333 101M300 100L367 139M327 45L350 83M307 135L313 57M382 76L295 97M284 49L359 60M378 38L308 101M357 52L310 71M366 84L361 127M374 113L323 120M321 134L312 73M361 52L311 127M385 125L295 97M349 82L358 14M408 92L348 54M375 106L335 142M394 122L382 117M343 121L305 94M291 109L348 101M311 127L311 131M367 106L323 86M366 136L333 74M320 127L340 130M297 100L336 143M312 93L359 88M375 89L296 62M359 29L313 57M316 111L318 78M347 101L346 39M406 102L321 148M364 62L302 35M336 143L330 126M318 94L328 71M315 136L301 49M309 53L371 89M344 34L353 118M372 118L423 105M400 90L294 78M387 109L335 140M319 104L349 102M294 120L388 135M323 36L368 135M313 38L341 102M309 88L341 67M327 45L338 47M333 133L310 67M310 71L311 104M351 129L397 68M391 105L292 79M359 35L331 113M351 130L291 96M407 62L291 96M307 65L351 8M321 148L325 99M381 61L323 57M337 143L332 84M322 82L269 104M340 134L319 135M318 143L353 100M282 95L307 83M311 80L344 119M371 106L345 15M319 104L388 89M353 16L394 120M336 102L334 149M399 60L341 54M354 109L308 100M320 127L340 134M321 61L400 90M357 33L388 91M321 103L374 110M308 129L339 149M339 149L381 71M366 116L405 108M323 97L308 136M317 101L304 39M401 120L386 98M373 94L333 14M378 99L381 141M283 98L364 66M329 61L307 65M392 107L358 95M360 126L310 71M309 86L410 112M359 122L359 67M382 85L343 128M304 150L321 126M316 122L334 142M302 68L358 60M371 73L341 41M346 49L331 85M419 73L330 122M291 97L361 117M396 124L358 95M320 127L351 93M300 45L313 134M361 52L370 123M351 51L334 145M336 131L278 45M313 38L365 77M327 116L413 87M317 13L355 112M349 73L329 146M310 81L292 79M332 80L310 114M312 93L301 49M383 110L310 67M321 9L335 121M322 46L301 89M375 62L361 117M392 92L352 46M351 51L310 101M370 67L320 41M323 97L356 130M399 83L313 57M346 130L368 76M314 140L329 134M354 109L305 132M327 70L284 49M318 111L346 122M311 102L366 116M379 112L386 70M339 94L340 54M282 95L326 129M388 135L358 95M386 112L325 78M340 95L299 65M355 116L342 88M351 93L328 33M386 98L323 86M374 68L327 45M339 38L366 120M378 52L385 118M349 124L322 46M314 140L325 147M405 104L343 137M361 92L356 141M341 120L352 53M335 133L389 89M311 63L304 34M358 81L362 53M342 88L336 121M309 79L296 96M345 68L298 100M389 89L366 116M323 57L366 120M300 45L369 115M333 113L319 131M376 122L366 120M372 134L371 94M249 111L319 126M355 112L333 109M333 109L292 43M341 56L299 126M365 112L306 62M307 73L294 120M323 57L335 80M359 67L338 47M350 83L337 143M312 131L400 90M392 92L317 101M296 62L353 98M320 70L317 96M314 39L352 132M317 13L352 70M329 146L294 75M361 117L391 105M374 98L299 90M333 68L343 46M312 73L377 134M329 74L375 89M291 96L309 149M330 134L306 85M345 30L352 53M353 16L397 68M378 69L383 110M387 91L369 127M374 32L349 114M358 45L366 124M376 122L340 90M313 40L294 75M351 51L345 106M395 80L312 93M374 113L291 97M377 107L344 125M322 154L331 72M295 69L311 63M328 122L334 63M327 116L384 126M288 120L396 120M300 95L326 79M343 85L357 52M331 61L293 112M331 147L291 97M362 96L317 85M323 91L323 129M327 113L370 123M313 136L347 122M349 124L366 84M311 83L310 114M308 49L373 135M316 111L334 129M366 136L413 87M341 54L405 104M294 105L349 108M332 121L333 110M388 72L328 33M284 100L343 128M284 100L327 46M316 111L310 95M340 58L333 79M294 75L323 113M309 53L291 86M366 116L306 63M323 57L388 59M319 131L310 67M325 73L321 71M307 83L419 84M325 55L358 105M333 68L369 95M321 134L390 113M334 113L309 53M310 114L306 62M350 34L339 149M384 126L330 110M294 75L323 113M384 72L420 83M316 85L403 108M336 102L419 73M323 36L341 67M299 32L341 136M383 110L326 129M282 48L390 101M321 74L377 107M321 76L345 125M357 54L332 121M284 49L296 56M375 89L362 81M344 52L357 133M397 122L350 83M352 112L333 70M372 85L290 60M291 86L311 124M375 89L420 89M326 129L307 135M306 72L298 87M333 70L301 147M344 119L319 126M299 32L269 104M384 72L372 85M251 93L333 110M312 128L327 113M423 96L367 85M335 121L360 135M361 123L292 79M334 149L324 104M285 108L305 115M311 104L302 35M419 84L359 67M345 30L339 116M307 73L376 122M375 74L333 118M312 128L358 45M302 63L367 31M318 94L319 126M327 45L313 38M311 123L340 34M347 101L321 115M370 122L368 135M350 34L399 60M375 127L366 64M308 100L389 107M329 134L319 126M323 86L320 66M366 136L345 68M344 125L308 136M354 111L331 147M387 118L269 104M347 128L364 116M321 126L349 114M319 104L340 56M370 67L375 126M289 70L307 101M257 110L354 92M331 139L312 148M295 74L333 133M344 127L339 116M298 100L346 122M357 119L361 52M392 119L346 133M335 137L308 129M374 117L298 65M384 110L317 85M304 150L369 95M300 95L378 108M320 127L377 94M360 135L344 32M382 120L364 124M332 80L392 92M316 39L331 118M311 127L334 68M315 62L399 60M392 119L323 113M359 35L346 49M267 123L321 148M397 122L349 82M371 101L392 92M378 81L319 126M312 73L329 74M341 136L389 94M394 122L327 45M351 102L359 88M360 35L311 83M350 52L251 93M380 75L346 130M341 67L375 62M352 124L308 129M334 149L325 119M344 119L323 36M305 115L342 77M305 105L329 150M313 76L306 85M398 109L352 112M321 148L325 99M333 101L333 113M344 53L328 122M335 140L321 134M305 94L322 68M359 122L340 54M385 127L417 88M324 104L354 126M344 125L355 31M361 117L334 68M322 58L307 135M322 114L392 119M363 55L345 61M352 118L342 77M321 9L370 73M309 79L306 62M294 105L314 139M292 66L291 109M370 129L352 124M307 119L420 89M301 78L339 116M340 134L359 35M319 131L358 105M338 139L359 122M378 125L294 78M344 120L346 49M419 73L355 116M359 11L346 71M390 113L302 71M318 143L356 48M371 101L342 77M307 81L247 98M317 101L413 87M375 89L364 124M321 74L247 98M302 71L356 141M306 103L351 93M327 46L407 62M331 139L310 67M345 106L361 92M351 126L296 96M326 79L323 97M366 74L397 68M366 70L321 134M368 32L297 100M311 121L257 110M294 103L312 102M405 108L340 90M324 126L354 126M386 125L389 94M378 119L290 39M386 70L292 79M358 104L346 133M352 111L349 73M333 68L380 79M371 35L365 79M401 120L357 54M291 96L329 74M295 97L382 117M272 96L300 100M335 121L360 131M386 84L405 69M292 112L308 106M307 101L391 105M335 84L395 108M307 83L367 106M321 76L349 124M295 99L304 39M313 134L317 58M348 125L344 101M303 116L333 14M341 41L365 112M357 33L308 136M284 100L307 65M368 106L399 60M302 68L296 96M339 28L307 83M360 35L323 120M344 52L348 125M329 74L334 145M353 64L358 14M349 102L387 112M356 48L309 79M395 80L352 137M333 74L370 123M354 109L410 112M337 83L362 53M337 83L370 108M360 35L389 89M329 150L397 68M362 70L352 43M305 94L310 67M339 82L311 121M334 145L339 28M344 70L316 77M390 61L351 102M335 133L364 95M341 116L306 63M341 102L333 117M403 102L291 95M307 101L375 100M411 88L322 46M344 101L395 89M331 128L366 102M359 122L288 62M288 62L348 54M297 125L290 115M375 89L300 95M292 79L405 104M340 34L334 129M352 70L295 69M353 119L353 82M327 46L295 99M306 98L296 56M383 94L329 134M366 120L326 133M335 79L351 51M386 84L345 15M294 105L291 109M323 120L378 38M339 41L368 106M396 56L392 91M297 100L374 113M344 119L321 76M313 98L316 136M346 71L330 122M317 36L371 94M295 69L360 30M321 115L379 112M352 46L342 77M314 123L341 140M401 120L323 91M333 70L321 74M319 104L308 136M295 99L352 43M354 126L332 64M354 126L341 116M317 58L353 118M251 93L328 33M326 133L304 76M335 84L329 126M341 102L318 130M316 110L336 121M344 34L392 91M399 72L300 100M398 109L350 103M310 51L311 127M307 65L306 85M349 93L357 101M294 103L327 70M375 75L298 87M384 72L317 85M319 104L338 77M309 86L333 68M346 49L376 111M318 100L311 102M313 57L316 39M319 104L325 64M362 70L364 134M385 118L310 67M383 128L315 62M284 100L321 76M309 88L291 96M346 133L371 54M364 116L386 125M313 136L349 124M360 17L379 64M297 88L309 79M300 100L313 40M331 61L333 110M314 121L384 111M333 117L314 139M314 102L353 98M329 134L339 116M327 45L335 79M380 75L350 52M313 40L386 112M341 35L345 150M337 61L309 53M332 64L369 70M290 60L360 35M345 113L325 55M326 79L307 119M330 122L332 80M301 89L364 95M284 100L358 45M359 67L313 41M322 58L353 100M333 70L342 120M359 15L323 120M377 107L392 92M344 32L340 54M336 60L379 112M317 96L327 45M321 74L419 84M340 56L358 60M390 61L314 123M371 54L374 136M359 120L257 110M301 49L374 117M327 123L358 45M311 63L401 120M330 126L335 80M311 123L408 92M290 32L371 94M367 115L365 63M314 39L403 102M367 31L381 141M359 120L386 116M395 120L399 60M366 120L333 101M337 83L290 32M351 90L371 73M378 108L361 34M330 110L314 121M307 101L423 96M366 102L399 60M344 52L346 133M308 101L316 111M321 76L325 73M385 80L365 38M375 62L369 117M288 126L334 142M352 137L366 136M417 88L390 113M331 147L321 71M294 78L334 113M370 67L357 119M294 105L386 125M352 112L370 73M322 154L371 64M388 135L352 137M302 68L284 100M282 95L328 71M323 113L362 65M332 121L317 61M355 31L364 95M292 66L371 101M357 52L299 65M348 125L311 121M366 76L397 68M357 49L333 14M360 103L375 62M374 32L369 117M377 107L345 144M362 96L323 129M289 66L373 106M341 54L360 135M318 143L400 90M334 113L314 63M332 59L399 72M372 134L336 133M378 108L370 116M390 113L400 90M374 75L366 84M333 118L289 56M321 126L381 73M333 79L348 28M300 100L326 79M361 52L331 118M366 64L284 94M333 117L311 104M359 57L321 148M386 84L326 100M284 94L325 119M375 106L331 118M299 65L377 72M316 111L367 139M307 65L295 97M326 42L301 147M366 64L352 80M306 100L345 30M353 100L342 129M366 116L306 103M392 119L337 143M374 136L350 103M382 117L360 30M341 35L332 80M378 52L366 116M406 102L324 104M337 40L364 124M315 132L299 112M307 65L315 132M373 35L335 80M329 36L331 128M355 93L334 63M378 81L331 88M338 20L351 8M365 63L319 61M359 35L331 147M316 85L420 83M401 120L364 95M296 78L362 65M370 73L352 43" stroke="#bdbdbd" stroke-width="0.45" stroke-opacity="0.12" fill="none"/>
<g class="c6"><circle cx="307.9" cy="48.7"/><circle cx="300.1" cy="44.7"/><circle cx="308.6" cy="53.3"/><circle cx="321.0" cy="55.8"/><circle cx="321.7" cy="45.5"/><circle cx="323.3" cy="36.5"/><circle cx="326.9" cy="45.9"/><circle cx="313.9" cy="39.1"/><circle cx="291.5" cy="42.5"/><circle cx="290.1" cy="39.0"/><circle cx="287.7" cy="61.9"/><circle cx="325.6" cy="41.8"/><circle cx="317.4" cy="57.9"/><circle cx="304.3" cy="33.8"/><circle cx="320.4" cy="41.3"/><circle cx="309.5" cy="43.2"/><circle cx="283.9" cy="49.1"/><circle cx="310.7" cy="49.4"/><circle cx="326.6" cy="44.7"/><circle cx="325.3" cy="54.8"/><circle cx="328.2" cy="33.2"/><circle cx="286.7" cy="40.3"/><circle cx="289.3" cy="55.8"/><circle cx="329.4" cy="36.3"/><circle cx="299.1" cy="54.7"/><circle cx="313.0" cy="56.9"/><circle cx="316.4" cy="38.9"/><circle cx="313.0" cy="37.5"/><circle cx="289.3" cy="64.7"/><circle cx="310.4" cy="51.3"/><circle cx="311.1" cy="51.5"/><circle cx="313.2" cy="40.9"/><circle cx="312.8" cy="39.8"/><circle cx="317.3" cy="36.4"/><circle cx="297.5" cy="54.8"/><circle cx="355.6" cy="48.4"/><circle cx="340.2" cy="54.1"/><circle cx="351.1" cy="51.3"/><circle cx="346.0" cy="51.9"/><circle cx="371.3" cy="46.8"/><circle cx="348.2" cy="28.3"/><circle cx="344.4" cy="53.3"/><circle cx="343.0" cy="46.5"/><circle cx="361.8" cy="46.5"/><circle cx="343.9" cy="32.0"/><circle cx="340.3" cy="55.5"/><circle cx="352.9" cy="46.3"/><circle cx="361.1" cy="34.3"/><circle cx="338.9" cy="28.4"/><circle cx="373.5" cy="31.6"/><circle cx="378.4" cy="38.2"/><circle cx="367.8" cy="31.9"/><circle cx="370.7" cy="35.0"/><circle cx="352.1" cy="42.6"/><circle cx="340.9" cy="35.0"/><circle cx="371.0" cy="36.0"/><circle cx="352.8" cy="49.4"/><circle cx="345.9" cy="33.4"/><circle cx="345.6" cy="38.8"/><circle cx="352.1" cy="46.0"/><circle cx="356.8" cy="52.4"/><circle cx="338.2" cy="46.6"/><circle cx="372.8" cy="34.6"/><circle cx="337.3" cy="40.3"/><circle cx="341.1" cy="40.9"/><circle cx="367.3" cy="30.6"/><circle cx="341.2" cy="41.4"/><circle cx="343.6" cy="34.5"/><circle cx="355.4" cy="31.3"/><circle cx="339.0" cy="38.1"/><circle cx="356.6" cy="54.2"/><circle cx="360.4" cy="30.0"/><circle cx="345.8" cy="48.8"/><circle cx="360.8" cy="52.4"/><circle cx="378.3" cy="52.0"/><circle cx="340.8" cy="54.4"/><circle cx="359.1" cy="34.7"/><circle cx="343.5" cy="52.2"/><circle cx="345.3" cy="30.3"/><circle cx="347.7" cy="53.9"/><circle cx="356.3" cy="48.5"/><circle cx="339.3" cy="40.7"/><circle cx="350.0" cy="33.7"/><circle cx="365.2" cy="38.1"/><circle cx="341.3" cy="55.6"/><circle cx="357.2" cy="33.0"/><circle cx="358.6" cy="28.7"/><circle cx="356.7" cy="48.7"/><circle cx="359.6" cy="34.6"/><circle cx="358.0" cy="44.9"/><circle cx="364.6" cy="32.1"/><circle cx="371.4" cy="54.5"/><circle cx="368.6" cy="52.0"/><circle cx="352.2" cy="53.3"/><circle cx="344.0" cy="34.4"/><circle cx="362.3" cy="53.2"/><circle cx="339.6" cy="34.1"/><circle cx="333.0" cy="14.1"/><circle cx="335.9" cy="10.7"/><circle cx="353.0" cy="16.2"/><circle cx="358.3" cy="13.6"/><circle cx="351.0" cy="8.2"/><circle cx="358.6" cy="11.3"/><circle cx="345.4" cy="15.2"/><circle cx="358.6" cy="14.9"/><circle cx="359.8" cy="16.7"/><circle cx="338.1" cy="19.7"/><circle cx="399.5" cy="60.2"/><circle cx="397.1" cy="68.0"/><circle cx="395.6" cy="55.9"/><circle cx="406.6" cy="62.3"/><circle cx="399.3" cy="82.6"/><circle cx="389.3" cy="53.1"/><circle cx="384.4" cy="80.0"/><circle cx="405.3" cy="104.4"/><circle cx="380.7" cy="60.7"/><circle cx="385.9" cy="84.2"/><circle cx="399.3" cy="72.4"/><circle cx="419.8" cy="89.3"/><circle cx="378.8" cy="64.4"/><circle cx="418.9" cy="73.1"/><circle cx="402.9" cy="101.9"/><circle cx="415.9" cy="88.8"/><circle cx="389.5" cy="89.1"/><circle cx="405.6" cy="98.7"/><circle cx="420.2" cy="83.2"/><circle cx="386.5" cy="91.4"/><circle cx="390.0" cy="60.8"/><circle cx="395.2" cy="80.1"/><circle cx="412.8" cy="86.8"/><circle cx="400.2" cy="90.0"/><circle cx="400.3" cy="90.4"/><circle cx="411.3" cy="88.4"/><circle cx="398.2" cy="109.2"/><circle cx="387.7" cy="72.4"/><circle cx="423.2" cy="105.3"/><circle cx="388.9" cy="94.3"/><circle cx="394.9" cy="89.4"/><circle cx="388.5" cy="59.4"/><circle cx="384.4" cy="72.2"/><circle cx="405.4" cy="108.1"/><circle cx="405.1" cy="68.8"/><circle cx="411.1" cy="74.3"/><circle cx="386.2" cy="77.3"/><circle cx="385.6" cy="69.8"/><circle cx="423.2" cy="96.4"/><circle cx="417.3" cy="88.0"/><circle cx="407.8" cy="92.2"/><circle cx="390.0" cy="100.0"/><circle cx="406.3" cy="101.9"/><circle cx="419.1" cy="84.4"/><circle cx="403.1" cy="93.6"/><circle cx="237.0" cy="95.5"/><circle cx="251.2" cy="93.4"/><circle cx="247.2" cy="97.7"/><circle cx="252.0" cy="98.0"/><circle cx="255.9" cy="98.9"/><circle cx="251.2" cy="102.0"/><circle cx="268.5" cy="96.6"/><circle cx="271.7" cy="95.8"/><circle cx="277.2" cy="96.6"/><circle cx="282.0" cy="95.0"/><circle cx="284.3" cy="94.5"/><circle cx="282.7" cy="98.1"/><circle cx="283.5" cy="100.5"/><circle cx="287.5" cy="102.9"/><circle cx="269.0" cy="103.7"/><circle cx="256.7" cy="106.0"/><circle cx="256.7" cy="110.0"/><circle cx="248.8" cy="110.8"/><circle cx="263.8" cy="107.6"/><circle cx="277.2" cy="110.8"/><circle cx="280.4" cy="110.8"/><circle cx="285.0" cy="108.4"/><circle cx="266.0" cy="117.0"/><circle cx="267.0" cy="122.6"/><circle cx="287.5" cy="120.2"/><circle cx="287.5" cy="125.7"/><circle cx="293.8" cy="120.2"/><circle cx="297.0" cy="125.0"/><circle cx="299.3" cy="126.5"/><circle cx="298.5" cy="129.2"/><circle cx="291.4" cy="109.2"/><circle cx="292.2" cy="91.8"/><circle cx="291.4" cy="97.4"/><circle cx="294.6" cy="98.9"/><circle cx="289.8" cy="32.2"/><circle cx="296.0" cy="31.0"/><circle cx="299.3" cy="32.2"/><circle cx="302.4" cy="35.4"/><circle cx="304.0" cy="39.3"/><circle cx="287.5" cy="40.1"/><circle cx="278.0" cy="44.9"/><circle cx="277.2" cy="48.8"/><circle cx="282.0" cy="48.3"/><circle cx="293.8" cy="45.6"/><circle cx="293.8" cy="48.8"/><circle cx="300.9" cy="48.8"/><circle cx="297.7" cy="52.7"/><circle cx="301.7" cy="54.3"/><circle cx="296.1" cy="55.9"/><circle cx="302.4" cy="57.5"/><circle cx="289.8" cy="59.8"/><circle cx="296.1" cy="62.2"/><circle cx="289.8" cy="65.4"/><circle cx="316.6" cy="8.6"/><circle cx="320.6" cy="8.6"/><circle cx="316.6" cy="13.3"/></g>
<g class="c7"><circle cx="295.3" cy="63.9"/><circle cx="289.1" cy="69.7"/><circle cx="294.3" cy="74.8"/><circle cx="305.4" cy="115.3"/><circle cx="289.4" cy="66.4"/><circle cx="310.5" cy="114.3"/><circle cx="292.4" cy="78.8"/><circle cx="301.0" cy="77.9"/><circle cx="298.6" cy="86.8"/><circle cx="294.9" cy="63.1"/><circle cx="290.9" cy="69.1"/><circle cx="291.1" cy="94.9"/><circle cx="305.0" cy="74.7"/><circle cx="307.2" cy="100.8"/><circle cx="296.9" cy="87.5"/><circle cx="293.3" cy="112.0"/><circle cx="301.9" cy="62.9"/><circle cx="292.5" cy="98.8"/><circle cx="297.9" cy="100.2"/><circle cx="294.3" cy="104.6"/><circle cx="307.4" cy="65.3"/><circle cx="302.5" cy="70.7"/><circle cx="305.3" cy="105.0"/><circle cx="307.2" cy="72.9"/><circle cx="291.1" cy="97.2"/><circle cx="302.0" cy="67.7"/><circle cx="293.4" cy="92.6"/><circle cx="291.5" cy="95.5"/><circle cx="294.5" cy="74.5"/><circle cx="298.7" cy="89.9"/><circle cx="305.7" cy="61.7"/><circle cx="305.7" cy="72.4"/><circle cx="295.7" cy="95.8"/><circle cx="304.9" cy="94.4"/><circle cx="309.7" cy="71.5"/><circle cx="296.2" cy="97.1"/><circle cx="295.0" cy="68.8"/><circle cx="294.2" cy="103.2"/><circle cx="308.0" cy="100.1"/><circle cx="311.1" cy="104.5"/><circle cx="296.1" cy="77.7"/><circle cx="305.6" cy="63.1"/><circle cx="303.0" cy="65.0"/><circle cx="290.1" cy="88.8"/><circle cx="292.5" cy="112.2"/><circle cx="309.2" cy="85.9"/><circle cx="293.5" cy="66.7"/><circle cx="300.7" cy="89.2"/><circle cx="297.3" cy="100.1"/><circle cx="301.2" cy="103.4"/><circle cx="291.4" cy="63.9"/><circle cx="297.9" cy="87.1"/><circle cx="294.8" cy="97.4"/><circle cx="294.1" cy="77.8"/><circle cx="300.0" cy="99.9"/><circle cx="306.7" cy="80.8"/><circle cx="299.3" cy="111.9"/><circle cx="310.5" cy="94.6"/><circle cx="291.4" cy="85.5"/><circle cx="303.6" cy="75.6"/><circle cx="289.9" cy="114.9"/><circle cx="309.9" cy="67.2"/><circle cx="299.7" cy="94.7"/><circle cx="295.9" cy="63.8"/><circle cx="306.3" cy="103.2"/><circle cx="299.1" cy="64.8"/><circle cx="298.1" cy="65.3"/><circle cx="311.2" cy="62.9"/><circle cx="295.6" cy="103.0"/><circle cx="292.1" cy="66.0"/><circle cx="324.0" cy="51.6"/><circle cx="313.5" cy="57.8"/><circle cx="305.6" cy="128.0"/><circle cx="311.0" cy="130.8"/><circle cx="370.0" cy="73.0"/><circle cx="378.0" cy="81.0"/><circle cx="372.0" cy="85.0"/><circle cx="383.0" cy="85.0"/><circle cx="383.0" cy="95.0"/><circle cx="340.0" cy="45.0"/><circle cx="350.0" cy="52.0"/><circle cx="359.0" cy="57.0"/><circle cx="363.0" cy="55.0"/><circle cx="366.0" cy="74.0"/><circle cx="380.0" cy="79.0"/><circle cx="374.0" cy="80.0"/><circle cx="386.0" cy="98.0"/><circle cx="392.0" cy="91.0"/></g>
<g class="c8"><circle cx="310.7" cy="60.7"/><circle cx="318.5" cy="61.1"/><circle cx="366.2" cy="69.9"/><circle cx="332.0" cy="59.3"/><circle cx="314.4" cy="64.1"/><circle cx="377.3" cy="71.5"/><circle cx="381.5" cy="76.1"/><circle cx="328.1" cy="71.3"/><circle cx="362.3" cy="80.7"/><circle cx="315.4" cy="61.8"/><circle cx="370.1" cy="66.9"/><circle cx="324.8" cy="63.9"/><circle cx="316.9" cy="84.9"/><circle cx="330.7" cy="61.0"/><circle cx="364.6" cy="67.0"/><circle cx="320.0" cy="69.6"/><circle cx="366.1" cy="76.2"/><circle cx="331.2" cy="84.7"/><circle cx="370.5" cy="64.3"/><circle cx="334.3" cy="68.1"/><circle cx="333.2" cy="68.2"/><circle cx="313.8" cy="63.0"/><circle cx="377.8" cy="69.4"/><circle cx="365.4" cy="63.6"/><circle cx="325.3" cy="78.0"/><circle cx="335.5" cy="84.4"/><circle cx="315.7" cy="73.9"/><circle cx="331.9" cy="83.7"/><circle cx="332.6" cy="84.5"/><circle cx="364.5" cy="78.7"/><circle cx="374.6" cy="74.2"/><circle cx="341.5" cy="66.9"/><circle cx="374.6" cy="62.5"/><circle cx="332.2" cy="63.7"/><circle cx="313.0" cy="66.4"/><circle cx="307.1" cy="82.9"/><circle cx="323.2" cy="57.5"/><circle cx="310.4" cy="80.9"/><circle cx="320.9" cy="71.2"/><circle cx="337.1" cy="83.1"/><circle cx="363.7" cy="65.9"/><circle cx="374.9" cy="75.1"/><circle cx="313.5" cy="75.6"/><circle cx="371.3" cy="73.1"/><circle cx="343.7" cy="69.6"/><circle cx="375.4" cy="78.3"/><circle cx="321.6" cy="67.7"/><circle cx="360.7" cy="59.4"/><circle cx="352.3" cy="70.1"/><circle cx="362.4" cy="70.0"/><circle cx="312.4" cy="73.3"/><circle cx="333.5" cy="62.8"/><circle cx="322.5" cy="85.9"/><circle cx="335.4" cy="79.8"/><circle cx="329.1" cy="66.5"/><circle cx="363.6" cy="61.5"/><circle cx="348.7" cy="72.5"/><circle cx="358.5" cy="60.0"/><circle cx="349.9" cy="82.8"/><circle cx="319.7" cy="86.9"/><circle cx="349.1" cy="81.6"/><circle cx="374.5" cy="67.7"/><circle cx="306.9" cy="72.6"/><circle cx="381.4" cy="72.9"/><circle cx="379.6" cy="74.6"/><circle cx="316.5" cy="77.1"/><circle cx="369.3" cy="69.8"/><circle cx="353.2" cy="64.1"/><circle cx="327.1" cy="69.7"/><circle cx="346.1" cy="71.4"/><circle cx="332.2" cy="80.1"/><circle cx="364.9" cy="63.3"/><circle cx="325.4" cy="73.1"/><circle cx="319.0" cy="76.1"/><circle cx="351.8" cy="80.2"/><circle cx="364.9" cy="79.9"/><circle cx="361.8" cy="64.5"/><circle cx="309.2" cy="88.0"/><circle cx="340.4" cy="58.0"/><circle cx="310.6" cy="82.9"/><circle cx="359.2" cy="60.0"/><circle cx="341.8" cy="77.4"/><circle cx="366.3" cy="63.6"/><circle cx="320.9" cy="60.6"/><circle cx="337.8" cy="76.6"/><circle cx="329.3" cy="60.7"/><circle cx="322.5" cy="58.0"/><circle cx="320.4" cy="66.1"/><circle cx="345.4" cy="61.4"/><circle cx="343.4" cy="70.4"/><circle cx="380.6" cy="71.5"/><circle cx="320.8" cy="75.7"/><circle cx="316.6" cy="60.9"/><circle cx="310.9" cy="79.5"/><circle cx="333.3" cy="69.9"/><circle cx="333.2" cy="79.2"/><circle cx="336.4" cy="60.3"/><circle cx="374.1" cy="75.0"/><circle cx="305.5" cy="84.7"/><circle cx="363.3" cy="67.4"/><circle cx="337.1" cy="70.1"/><circle cx="328.9" cy="74.4"/><circle cx="358.0" cy="80.7"/><circle cx="368.3" cy="75.7"/><circle cx="359.2" cy="66.9"/><circle cx="380.6" cy="74.2"/><circle cx="337.2" cy="61.4"/><circle cx="314.2" cy="86.4"/><circle cx="330.9" cy="71.8"/><circle cx="344.7" cy="67.7"/><circle cx="325.5" cy="155.5"/><circle cx="330.7" cy="139.2"/><circle cx="316.0" cy="135.9"/><circle cx="329.2" cy="150.3"/><circle cx="312.5" cy="135.3"/><circle cx="318.6" cy="135.1"/><circle cx="313.2" cy="134.0"/><circle cx="309.3" cy="124.1"/><circle cx="310.9" cy="124.1"/><circle cx="312.7" cy="148.4"/><circle cx="334.6" cy="154.8"/><circle cx="309.3" cy="148.9"/><circle cx="336.2" cy="143.5"/><circle cx="302.7" cy="126.5"/><circle cx="301.0" cy="147.5"/><circle cx="330.2" cy="126.0"/><circle cx="307.8" cy="128.5"/><circle cx="329.2" cy="146.2"/><circle cx="318.8" cy="131.1"/><circle cx="308.4" cy="128.5"/><circle cx="307.3" cy="134.6"/><circle cx="325.5" cy="146.5"/><circle cx="301.6" cy="137.8"/><circle cx="338.0" cy="142.7"/><circle cx="321.7" cy="153.7"/><circle cx="328.8" cy="134.1"/><circle cx="326.9" cy="127.1"/><circle cx="308.4" cy="135.8"/><circle cx="338.5" cy="150.3"/><circle cx="338.3" cy="136.9"/><circle cx="332.1" cy="142.5"/><circle cx="335.0" cy="136.7"/><circle cx="344.6" cy="144.1"/><circle cx="315.2" cy="135.6"/><circle cx="338.0" cy="150.4"/><circle cx="333.0" cy="133.5"/><circle cx="336.4" cy="131.4"/><circle cx="329.3" cy="127.7"/><circle cx="341.2" cy="139.6"/><circle cx="336.5" cy="142.6"/><circle cx="343.5" cy="143.1"/><circle cx="304.2" cy="150.0"/><circle cx="304.9" cy="132.0"/><circle cx="321.2" cy="148.1"/><circle cx="312.3" cy="148.3"/><circle cx="394.8" cy="119.7"/><circle cx="385.3" cy="117.6"/><circle cx="387.4" cy="109.1"/><circle cx="397.4" cy="122.3"/><circle cx="403.8" cy="111.7"/><circle cx="410.3" cy="112.2"/><circle cx="382.0" cy="120.5"/><circle cx="382.9" cy="118.4"/><circle cx="396.4" cy="120.2"/><circle cx="382.5" cy="117.1"/><circle cx="390.8" cy="105.5"/><circle cx="379.2" cy="111.9"/><circle cx="393.9" cy="119.6"/><circle cx="402.8" cy="108.3"/><circle cx="382.6" cy="122.4"/><circle cx="382.1" cy="103.6"/><circle cx="395.0" cy="108.1"/><circle cx="383.6" cy="125.9"/><circle cx="394.1" cy="121.6"/><circle cx="386.5" cy="125.4"/><circle cx="385.5" cy="125.2"/><circle cx="404.2" cy="116.9"/><circle cx="396.1" cy="123.6"/><circle cx="401.2" cy="120.3"/><circle cx="385.9" cy="111.9"/></g>
<g class="c9"><circle cx="370.4" cy="116.3"/><circle cx="342.5" cy="85.4"/><circle cx="315.7" cy="109.6"/><circle cx="351.3" cy="93.4"/><circle cx="338.8" cy="116.3"/><circle cx="378.2" cy="119.2"/><circle cx="318.2" cy="142.9"/><circle cx="338.8" cy="148.8"/><circle cx="340.5" cy="115.8"/><circle cx="333.4" cy="74.3"/><circle cx="322.5" cy="81.9"/><circle cx="330.4" cy="122.4"/><circle cx="358.3" cy="147.9"/><circle cx="370.5" cy="101.0"/><circle cx="396.9" cy="122.7"/><circle cx="356.3" cy="141.0"/><circle cx="369.0" cy="100.8"/><circle cx="362.5" cy="96.0"/><circle cx="303.0" cy="116.3"/><circle cx="322.6" cy="112.6"/><circle cx="313.8" cy="138.9"/><circle cx="368.9" cy="126.7"/><circle cx="369.8" cy="129.1"/><circle cx="344.7" cy="149.5"/><circle cx="333.3" cy="117.5"/><circle cx="392.3" cy="119.2"/><circle cx="322.3" cy="86.3"/><circle cx="385.2" cy="80.1"/><circle cx="390.0" cy="113.2"/><circle cx="334.3" cy="149.3"/><circle cx="342.5" cy="127.8"/><circle cx="376.6" cy="93.6"/><circle cx="316.8" cy="101.1"/><circle cx="364.3" cy="124.3"/><circle cx="318.1" cy="130.1"/><circle cx="357.1" cy="100.7"/><circle cx="392.0" cy="92.4"/><circle cx="316.2" cy="84.7"/><circle cx="316.9" cy="119.1"/><circle cx="382.1" cy="84.8"/><circle cx="352.3" cy="118.0"/><circle cx="358.0" cy="105.0"/><circle cx="307.8" cy="105.8"/><circle cx="325.7" cy="132.5"/><circle cx="326.2" cy="137.9"/><circle cx="326.1" cy="79.4"/><circle cx="349.7" cy="103.0"/><circle cx="335.6" cy="133.2"/><circle cx="324.2" cy="125.6"/><circle cx="385.5" cy="108.2"/><circle cx="352.3" cy="145.9"/><circle cx="362.4" cy="86.5"/><circle cx="309.0" cy="78.6"/><circle cx="335.2" cy="79.1"/><circle cx="366.9" cy="105.9"/><circle cx="332.9" cy="113.0"/><circle cx="317.5" cy="96.4"/><circle cx="334.4" cy="144.8"/><circle cx="372.6" cy="106.3"/><circle cx="318.6" cy="75.6"/><circle cx="314.2" cy="139.8"/><circle cx="366.8" cy="84.5"/><circle cx="364.5" cy="76.7"/><circle cx="352.7" cy="98.8"/><circle cx="312.2" cy="131.4"/><circle cx="373.7" cy="112.9"/><circle cx="318.8" cy="125.6"/><circle cx="345.3" cy="124.9"/><circle cx="341.8" cy="87.9"/><circle cx="310.8" cy="127.0"/><circle cx="328.6" cy="125.7"/><circle cx="324.3" cy="104.1"/><circle cx="370.8" cy="106.5"/><circle cx="317.6" cy="77.6"/><circle cx="352.2" cy="111.1"/><circle cx="321.4" cy="125.6"/><circle cx="351.6" cy="136.7"/><circle cx="331.2" cy="146.7"/><circle cx="383.5" cy="109.9"/><circle cx="316.1" cy="110.7"/><circle cx="314.7" cy="126.9"/><circle cx="371.7" cy="118.3"/><circle cx="373.5" cy="136.1"/><circle cx="313.3" cy="97.8"/><circle cx="307.4" cy="118.6"/><circle cx="374.3" cy="99.8"/><circle cx="371.5" cy="101.3"/><circle cx="373.2" cy="94.2"/><circle cx="374.6" cy="141.2"/><circle cx="365.7" cy="84.4"/><circle cx="389.2" cy="129.3"/><circle cx="313.5" cy="102.4"/><circle cx="306.2" cy="100.3"/><circle cx="333.8" cy="144.7"/><circle cx="380.6" cy="141.2"/><circle cx="366.4" cy="147.8"/><circle cx="358.6" cy="87.7"/><circle cx="353.9" cy="110.6"/><circle cx="335.7" cy="101.9"/><circle cx="353.0" cy="119.0"/><circle cx="324.3" cy="94.2"/><circle cx="352.3" cy="112.3"/><circle cx="343.9" cy="125.1"/><circle cx="320.5" cy="114.5"/><circle cx="329.6" cy="133.6"/><circle cx="372.4" cy="134.5"/><circle cx="353.7" cy="91.9"/><circle cx="394.6" cy="112.9"/><circle cx="339.5" cy="95.2"/><circle cx="342.2" cy="128.7"/><circle cx="383.9" cy="110.6"/><circle cx="375.1" cy="89.0"/><circle cx="347.2" cy="100.6"/><circle cx="332.6" cy="100.8"/><circle cx="377.5" cy="130.7"/><circle cx="322.7" cy="90.7"/><circle cx="380.4" cy="124.4"/><circle cx="369.6" cy="122.8"/><circle cx="371.3" cy="93.8"/><circle cx="308.1" cy="100.8"/><circle cx="354.5" cy="125.6"/><circle cx="398.7" cy="136.4"/><circle cx="324.9" cy="99.0"/><circle cx="312.9" cy="135.7"/><circle cx="375.7" cy="111.0"/><circle cx="338.9" cy="93.6"/><circle cx="350.7" cy="129.0"/><circle cx="388.8" cy="107.1"/><circle cx="344.1" cy="97.1"/><circle cx="317.8" cy="94.5"/><circle cx="335.1" cy="140.1"/><circle cx="391.1" cy="106.2"/><circle cx="321.2" cy="133.8"/><circle cx="339.5" cy="81.5"/><circle cx="392.3" cy="107.2"/><circle cx="341.7" cy="119.6"/><circle cx="327.5" cy="73.6"/><circle cx="341.0" cy="102.3"/><circle cx="378.1" cy="98.6"/><circle cx="370.0" cy="122.0"/><circle cx="320.8" cy="73.6"/><circle cx="369.4" cy="120.9"/><circle cx="331.4" cy="88.0"/><circle cx="325.3" cy="118.9"/><circle cx="359.5" cy="97.8"/><circle cx="305.6" cy="98.0"/><circle cx="366.4" cy="120.2"/><circle cx="353.0" cy="81.8"/><circle cx="323.3" cy="96.9"/><circle cx="343.6" cy="101.1"/><circle cx="387.7" cy="91.5"/><circle cx="360.7" cy="102.2"/><circle cx="383.0" cy="93.5"/><circle cx="379.6" cy="110.3"/><circle cx="340.0" cy="90.2"/><circle cx="364.5" cy="134.2"/><circle cx="386.2" cy="115.9"/><circle cx="340.7" cy="136.0"/><circle cx="312.5" cy="92.8"/><circle cx="377.3" cy="107.2"/><circle cx="348.2" cy="89.0"/><circle cx="311.1" cy="101.5"/><circle cx="345.3" cy="112.6"/><circle cx="330.9" cy="128.2"/><circle cx="318.9" cy="112.8"/><circle cx="351.4" cy="101.7"/><circle cx="388.1" cy="88.8"/><circle cx="389.8" cy="100.6"/><circle cx="335.5" cy="121.2"/><circle cx="358.3" cy="94.7"/></g>
<g class="c10"><circle cx="317.8" cy="99.6"/><circle cx="327.0" cy="116.3"/><circle cx="316.5" cy="108.1"/><circle cx="333.0" cy="108.5"/><circle cx="317.5" cy="111.1"/><circle cx="311.2" cy="121.5"/><circle cx="327.3" cy="112.9"/><circle cx="319.0" cy="104.3"/><circle cx="331.3" cy="113.3"/><circle cx="332.6" cy="110.0"/><circle cx="329.5" cy="96.2"/><circle cx="327.8" cy="122.0"/><circle cx="321.9" cy="113.9"/><circle cx="312.3" cy="101.9"/><circle cx="326.6" cy="122.8"/><circle cx="314.3" cy="120.8"/><circle cx="310.4" cy="119.5"/><circle cx="311.5" cy="115.4"/><circle cx="316.0" cy="117.0"/><circle cx="310.3" cy="114.3"/><circle cx="325.7" cy="100.4"/><circle cx="315.9" cy="122.1"/><circle cx="323.5" cy="119.7"/><circle cx="331.0" cy="117.9"/><circle cx="313.1" cy="112.7"/><circle cx="332.6" cy="117.7"/><circle cx="330.1" cy="109.6"/><circle cx="332.3" cy="121.1"/><circle cx="309.4" cy="119.5"/><circle cx="337.1" cy="124.1"/><circle cx="314.6" cy="128.8"/><circle cx="311.7" cy="128.1"/><circle cx="334.5" cy="112.6"/><circle cx="332.6" cy="122.5"/><circle cx="323.0" cy="129.5"/><circle cx="312.5" cy="130.9"/><circle cx="309.9" cy="101.4"/><circle cx="315.4" cy="106.1"/><circle cx="335.4" cy="131.2"/><circle cx="320.1" cy="126.8"/><circle cx="315.0" cy="132.1"/><circle cx="331.9" cy="124.3"/><circle cx="335.6" cy="117.1"/><circle cx="325.6" cy="129.5"/><circle cx="310.6" cy="123.0"/><circle cx="320.8" cy="126.4"/><circle cx="320.6" cy="102.9"/><circle cx="329.8" cy="128.2"/><circle cx="313.9" cy="122.8"/><circle cx="318.7" cy="104.0"/><circle cx="356.1" cy="139.5"/><circle cx="363.8" cy="115.5"/><circle cx="370.6" cy="89.4"/><circle cx="383.4" cy="128.2"/><circle cx="355.7" cy="106.8"/><circle cx="382.3" cy="123.5"/><circle cx="365.7" cy="116.3"/><circle cx="352.9" cy="137.6"/><circle cx="369.1" cy="115.4"/><circle cx="381.8" cy="107.1"/><circle cx="359.1" cy="122.3"/><circle cx="369.6" cy="108.4"/><circle cx="374.5" cy="99.8"/><circle cx="387.4" cy="117.8"/><circle cx="375.7" cy="121.8"/><circle cx="351.4" cy="130.0"/><circle cx="359.9" cy="134.6"/><circle cx="385.1" cy="124.6"/><circle cx="386.6" cy="111.6"/><circle cx="354.6" cy="93.4"/><circle cx="366.0" cy="115.5"/><circle cx="352.6" cy="99.9"/><circle cx="352.6" cy="97.9"/><circle cx="374.5" cy="98.3"/><circle cx="369.2" cy="117.0"/><circle cx="367.4" cy="115.2"/><circle cx="347.0" cy="129.4"/><circle cx="374.1" cy="117.0"/><circle cx="356.1" cy="130.2"/><circle cx="360.6" cy="127.3"/><circle cx="356.6" cy="118.9"/><circle cx="378.1" cy="108.1"/><circle cx="369.5" cy="91.5"/><circle cx="377.8" cy="125.3"/><circle cx="352.8" cy="117.7"/><circle cx="387.8" cy="135.0"/><circle cx="347.6" cy="101.4"/><circle cx="349.3" cy="101.6"/><circle cx="349.4" cy="114.4"/><circle cx="357.8" cy="104.2"/><circle cx="368.5" cy="108.1"/><circle cx="385.2" cy="127.0"/><circle cx="350.8" cy="100.1"/><circle cx="345.4" cy="105.8"/><circle cx="350.5" cy="125.6"/><circle cx="355.7" cy="90.0"/><circle cx="383.6" cy="110.2"/><circle cx="360.9" cy="91.9"/><circle cx="367.5" cy="111.6"/><circle cx="384.2" cy="132.9"/><circle cx="369.3" cy="97.6"/><circle cx="365.7" cy="136.1"/><circle cx="365.8" cy="123.7"/><circle cx="373.5" cy="112.9"/><circle cx="374.3" cy="101.2"/><circle cx="373.4" cy="134.7"/><circle cx="349.1" cy="107.9"/><circle cx="345.7" cy="121.9"/><circle cx="377.2" cy="133.5"/><circle cx="369.0" cy="95.1"/><circle cx="360.3" cy="126.5"/><circle cx="377.8" cy="123.5"/><circle cx="367.5" cy="105.5"/><circle cx="375.5" cy="106.2"/><circle cx="351.5" cy="124.2"/><circle cx="359.6" cy="130.7"/><circle cx="360.6" cy="117.5"/><circle cx="381.9" cy="107.9"/><circle cx="354.2" cy="109.3"/><circle cx="370.6" cy="110.4"/><circle cx="351.2" cy="116.2"/><circle cx="360.3" cy="140.2"/><circle cx="364.5" cy="111.5"/><circle cx="356.6" cy="140.3"/><circle cx="361.4" cy="122.9"/><circle cx="350.6" cy="90.3"/><circle cx="367.9" cy="135.2"/><circle cx="355.4" cy="111.8"/><circle cx="352.8" cy="116.0"/><circle cx="366.7" cy="138.7"/><circle cx="373.6" cy="110.5"/><circle cx="346.7" cy="112.0"/><circle cx="374.9" cy="126.4"/><circle cx="350.6" cy="104.3"/><circle cx="364.1" cy="94.8"/><circle cx="369.1" cy="88.9"/><circle cx="352.7" cy="100.0"/><circle cx="349.2" cy="92.9"/><circle cx="354.9" cy="116.0"/><circle cx="352.0" cy="132.3"/><circle cx="366.3" cy="101.6"/><circle cx="357.3" cy="133.3"/><circle cx="347.4" cy="128.1"/><circle cx="365.8" cy="120.3"/><circle cx="348.3" cy="125.5"/><circle cx="375.0" cy="126.9"/><circle cx="359.2" cy="114.8"/><circle cx="354.5" cy="111.6"/><circle cx="359.4" cy="119.6"/><circle cx="360.3" cy="102.8"/><circle cx="342.8" cy="120.1"/><circle cx="346.0" cy="129.9"/><circle cx="334.6" cy="120.8"/><circle cx="340.2" cy="130.1"/><circle cx="344.4" cy="127.0"/><circle cx="338.2" cy="139.4"/><circle cx="335.5" cy="141.5"/><circle cx="347.9" cy="141.8"/><circle cx="348.9" cy="124.2"/><circle cx="346.3" cy="132.7"/><circle cx="334.1" cy="141.9"/><circle cx="343.0" cy="137.4"/><circle cx="341.2" cy="119.9"/><circle cx="347.3" cy="122.2"/><circle cx="335.2" cy="132.8"/><circle cx="333.9" cy="129.1"/><circle cx="344.3" cy="120.3"/><circle cx="343.2" cy="120.5"/><circle cx="339.5" cy="133.6"/><circle cx="343.7" cy="119.0"/></g>
<path d="M450.0 85.0L480.0 50.0L520.0 30.0L545.0 20.0L600.0 18.0L665.0 20.0L668.0 45.0L660.0 60.0L650.0 100.0L640.0 112.0L620.0 125.0L600.0 140.0L570.0 150.0L545.0 150.0L520.0 140.0L490.0 125.0L460.0 105.0Z" fill="#eeeeee" fill-opacity="0.6" filter="url(#b3)"/>
<path d="M505.0 98.0L515.0 75.0L560.0 68.0L610.0 66.0L640.0 72.0L650.0 100.0L640.0 112.0L615.0 130.0L595.0 145.0L560.0 146.0L530.0 140.0L508.0 125.0Z" fill="#d4d4d4" fill-opacity="0.95" filter="url(#b2)"/>
<path d="M610 78L602 107M596 103L556 138M613 107L540 98M575 25L520 104M586 104L554 97M564 96L479 53M558 137L514 128M591 97L455 85M557 141L588 96M565 100L609 104M572 64L607 95M616 103L555 89M546 105L610 78M532 104L627 96M627 98L547 151M552 115L544 137M587 86L526 58M607 77L544 141M542 124L532 79M626 103L551 111M586 104L584 85M552 154L579 100M544 99L596 108M587 86L554 97M569 105L588 96M607 95L611 105M538 96L556 127M565 100L640 26M616 78L602 107M579 100L537 112M588 96L468 71M556 98L637 66M551 103L540 98M588 91L597 106M612 68L616 78M593 53L544 141M585 106L595 20M532 79L643 57M587 117L588 87M654 106L551 120M624 98L557 111M586 85L563 107M561 111L563 105M544 137L626 88M467 67L552 115M557 87L525 136M616 78L542 124M563 99L525 103M626 42L596 108M613 77L498 98M622 84L575 107M545 101L654 106M561 157L563 106M574 97L540 103M633 98L601 83M562 142L593 98M618 77L485 78M563 102L540 96M584 143L561 111M633 98L514 128M654 106L652 52M594 41L618 97M631 109L642 39M562 92L593 107M598 96L602 107M576 128L556 138M630 63L568 149M557 85L594 41M612 90L526 100M596 103L620 97M525 136L622 49M602 116L576 88M588 93L617 70M525 136L576 101M558 137L579 100M593 137L610 80M561 157L566 101M630 99L611 105M596 103L556 98M514 125L538 104M557 141L626 103M526 70L562 142M642 110L603 81M513 62L593 107M618 47L622 49M547 151L569 105M631 73L542 124M534 110L607 98M485 78L579 123M536 124L573 97M574 97L660 21M627 90L607 95M649 54L612 91M629 101L626 87M516 107L619 120M498 98L587 117M570 109L531 101M568 138L643 59M544 137L565 86M612 84L585 102M584 37L612 90M564 96L555 104M642 110L584 37M618 99L498 98M587 83L553 20M637 66L593 108M520 104L587 86M576 101L549 104M599 90L555 89M526 108L612 68M653 46L560 82M624 98L521 99M618 112L587 117M570 109L595 97M578 96L552 115M550 53L534 110M616 103L543 107M572 98L467 67M586 81L613 97M595 20L552 104M560 103L607 95M619 97L629 99M612 68L611 107M607 95L572 98M455 85L540 96M547 98L612 90M556 138L588 87M573 44L593 53M571 86L538 96M616 99L637 61M565 102L537 133M574 150L586 85M593 107L626 100M626 42L640 26M630 63L611 91M597 96L544 137M618 47L548 22M573 97L579 123M577 87L563 106M588 91L599 79M565 102L577 87M586 81L607 98M603 81L540 103M567 81L624 96M468 71L581 69M536 108L626 42M649 49L540 103M593 98L570 109M630 99L588 87M522 103L528 119M562 154L466 107M562 49L552 104M637 61L552 115M542 124L611 82M553 20L498 43M526 58L578 105M548 110L642 39M612 84L496 81M584 89L553 20M554 97L618 112M616 78L545 101M542 124L562 142M610 78L529 90M595 97L612 84M549 104L532 111M539 107L515 90M626 88L593 53M628 20L631 73M640 26L624 96M626 88L595 95M555 89L542 148M490 127L498 43M563 105L593 53M515 90L490 127M574 100L642 110M620 97L551 96M611 91L550 53M549 104L559 143M660 21L642 110M515 90L618 112M586 104L551 120M640 26L611 105M562 49L551 96M536 124L498 98M573 97L599 79M562 96L455 85M545 105L611 100M603 81L588 96M627 98L560 86M616 103L572 98M574 100L532 79M532 111L578 105M627 96L557 87M584 85L529 76M555 104L574 150M538 96L566 101M550 104L624 98M642 110L622 84M616 103L538 96M490 127L598 96M562 96L544 99M593 137L627 96M601 83L650 52M557 141L529 76M585 100L526 100M611 82L547 151M553 20L595 97M585 109L619 97M587 117L633 98M553 20L575 107M585 100L587 117M630 99L523 101M612 91L552 115M602 116L544 141M613 107L547 151M565 86L626 91M643 57L581 69M481 79L580 82M626 42L610 97M610 78L548 83M588 87L617 82M616 78L607 95M621 116L584 143M562 98L647 51M596 108L521 99M553 20L540 103M551 107L588 87M548 22L588 91M563 102L537 112M595 95L555 97M498 43L618 77M588 87L612 68M542 37L584 143M630 99L523 110M559 143L643 59M631 109L596 108M552 154L630 106M549 98L529 76M613 97L544 137M525 103L551 111M611 82L529 90M601 83L629 99M619 102L586 85M562 49L576 128M537 112L618 77M613 77L596 103M564 72L584 85M557 141L562 142M626 103L624 98M602 90L536 124M562 49L592 128M597 106L551 120M551 103L643 59M596 108L595 97M557 91L581 69M574 97L584 85M612 91L557 85M630 99L525 136M587 86L620 97M631 109L550 78M595 95L584 73M536 108L522 130M562 92L520 104M513 62L560 96M525 103L539 107M568 149L583 82M595 143L526 58M612 91L490 127M588 91L557 93M631 73L592 128M547 102L526 70M513 82L532 111M562 154L618 47M617 82L481 79M597 96L602 82M592 131L630 106M588 87L525 107M560 96L573 81M538 96L536 124M550 112L588 87M597 106L575 85M627 90L545 108M613 77L585 109M550 78L526 108M576 101L599 79M574 100L623 102M574 97L547 102M570 109L522 130M467 67L574 97M574 150L540 98M498 98L565 86M648 53L549 137M557 85L618 97M548 28L596 108M588 93L588 87M560 103L553 20M596 108L574 97M602 90L551 96M593 108L652 47M557 87L575 85M648 53L521 87M574 100L549 104M630 99L596 103M611 107L612 68M612 91L537 112M586 85L636 100M557 111L599 79M596 72L592 131M551 120L545 101M618 112L534 110M553 98L561 157M481 79L562 98M619 97L526 133M613 107L557 85M583 82L609 80M597 96L574 100M652 47L525 103M649 49L537 112M548 110L544 153M616 99L599 79M569 105L595 143M588 87L522 103M481 79L616 99M584 143L585 106M602 116L611 82M616 103L565 100M607 77L526 133M588 93L588 96M593 137L544 99M557 93L498 98M551 103L525 103M557 128L576 101M598 90L540 103M629 101L514 128M594 41L653 46M602 116L655 51M518 60L531 101M626 91L568 149M562 154L516 107M548 104L585 100M623 102L557 85M534 110L537 112M626 87L556 98M522 130L588 87M631 109L619 97M627 98L498 98M593 53L633 98M628 65L585 102M562 49L600 24M547 102L540 98M544 141L523 101M547 151L600 80M586 104L619 120M588 96L551 96M563 107L655 36M594 41L467 67M655 36L593 108M525 136L624 96M554 97L540 103M556 96L562 49M596 72L536 124M551 111L629 99M619 120L570 109M648 53L652 52M516 107L514 125M649 49L617 70M611 105L596 72M591 103L592 131M531 101L596 72M587 117L602 90M555 104L600 24M618 77L611 100M572 64L562 96M609 104L627 90M455 85L563 99M557 141L552 115M561 111L549 137M649 49L602 90M554 97L574 100M551 103L544 141M562 96L555 106M548 110L602 90M653 46L612 68M598 96L643 57M538 96L526 103M455 85L539 107M655 51L611 107M617 70L544 153M624 96L574 100M627 98L557 111M514 125L557 91M560 103L600 24M596 108L613 97M637 61L516 107M596 72L563 102M601 83L610 80M547 102L513 62M543 24L627 98M518 60L542 124M591 97L540 136M597 96L532 108M545 101L596 108M573 97L479 53M613 107L521 87M593 108L593 137M625 76L587 86M591 97L607 95M652 47L611 105M520 104L548 22M555 106L584 143M628 20L595 143M618 47L558 137M577 87L586 81M581 69L630 106M555 104L584 73M544 153L626 103M560 96L532 79M647 51L585 100M592 131L626 42M595 95L643 59M485 78L567 81M545 105L596 108M623 102L595 95M540 136L593 53M584 85L586 81M562 92L585 102M660 21L647 51M548 110L607 98M498 98L600 24M557 87L564 72M514 128L599 90M585 100L612 91M630 63L540 98M564 95L611 107M626 42L526 70M625 76L528 119M653 46L548 28M539 107L545 101M593 108L636 100M540 136L611 100M552 154L618 47M588 96L543 24M466 107L555 89M617 82L560 86M623 102L611 105M568 149L599 90M583 82L526 58M548 110L616 99M557 93L467 67M565 100L527 107M546 105L564 95M585 106L627 96M586 85L544 137M548 110L591 104M543 107L600 80M649 54L577 67M637 61L540 136M586 81L560 82M548 83L593 98M637 61L607 77M628 104L584 37M586 85L596 103M667 27L602 82M627 98L598 90M522 103L557 91M532 104L607 98M556 98L496 81M618 99L560 103M607 77L564 72M518 60L557 141M551 103L568 149M623 102L633 98M543 24L555 106M520 104L564 96M565 102L607 77M557 85L630 99M585 102L575 135M600 24L526 58M548 83L624 96M544 99L600 24M498 98L631 73M554 97L637 66M542 37L546 132M643 59L544 153M630 63L601 83M560 82L637 66M598 90L564 95M655 51L555 104M584 85L564 96M555 104L551 96M555 97L621 116M550 106L609 104M574 150L600 24M609 104L555 104M498 98L565 86M549 137L584 89M603 81L584 84M543 24L578 96M598 96L537 112M596 108L568 149M571 86L498 43M562 152L572 98M572 64L513 62M648 53L613 107M612 91L660 21M560 96L576 101M607 97L575 25M587 83L565 100M573 44L593 98M585 109L593 108M619 102L652 47M618 99L552 104M611 91L557 91M467 67L525 136M595 95L588 91M555 106L592 128M585 100L513 82M562 98L496 81M588 96L617 70M585 100L543 107M599 79L611 82M540 96L547 102M557 85L554 97M595 143L551 111M563 105L660 21M534 110L592 131M569 105L591 104M624 98L564 96M574 100L572 98M547 98L613 107M580 82L531 101M540 103L549 98M498 98L595 95M562 92L587 117M574 97L562 154M643 59L602 116M551 111L567 81M570 109L618 99M526 133L550 78M548 110L467 67M568 149L526 58M630 106L613 77M550 104L599 90M613 107L558 91M558 91L546 105M537 133L599 79M588 87L622 49M598 90L647 51M628 20L588 87M536 107L612 68M526 100L618 77M563 99L607 95M616 103L643 59M636 100L595 95M569 105L551 107M533 122L627 90M563 107L626 100M546 105L538 104M479 53L588 93M631 109L550 78M538 104L562 49M618 97L642 39M561 157L549 137M576 128L603 81M523 101L611 91M548 104L532 79M618 99L616 78M595 97L629 99M577 87L578 105M584 89L455 85M596 108L588 87M562 92L579 100M609 80L583 82M531 101L562 93M587 117L539 107M455 85L575 85M640 26L557 87M579 100L630 99M619 102L543 107M574 150L551 111M533 122L525 136M515 90L525 136M547 151L558 137M626 42L560 103M526 108L562 96M622 49L617 70M586 85L613 77M626 42L571 86M610 97L595 20M630 63L540 96M587 83L629 99M569 105L526 133M633 98L562 49M618 47L652 47M628 65L514 125M575 25L600 95M562 93L581 69M626 88L583 82M513 82L585 106M618 99L594 41" stroke="#bdbdbd" stroke-width="0.45" stroke-opacity="0.1" fill="none"/>
<g class="c11"><circle cx="498.4" cy="43.1"/><circle cx="479.2" cy="52.8"/><circle cx="466.9" cy="67.1"/><circle cx="468.1" cy="71.2"/><circle cx="454.6" cy="84.7"/><circle cx="460.4" cy="85.2"/><circle cx="480.9" cy="79.4"/><circle cx="485.3" cy="77.7"/><circle cx="513.3" cy="61.5"/><circle cx="517.7" cy="59.8"/><circle cx="525.6" cy="58.0"/><circle cx="542.2" cy="37.4"/><circle cx="562.4" cy="49.3"/><circle cx="564.0" cy="72.0"/><circle cx="526.5" cy="70.3"/><circle cx="529.1" cy="75.9"/><circle cx="531.7" cy="79.4"/><circle cx="513.3" cy="81.7"/><circle cx="521.2" cy="86.9"/><circle cx="515.0" cy="89.6"/><circle cx="529.1" cy="90.4"/><circle cx="498.4" cy="98.0"/><circle cx="539.6" cy="95.7"/><circle cx="583.5" cy="37.2"/><circle cx="562.2" cy="49.0"/><circle cx="655.4" cy="35.8"/><circle cx="641.5" cy="38.7"/><circle cx="577.2" cy="67.1"/><circle cx="580.8" cy="68.9"/><circle cx="584.4" cy="73.1"/><circle cx="596.2" cy="72.0"/><circle cx="611.6" cy="68.4"/><circle cx="617.0" cy="69.5"/><circle cx="627.9" cy="65.3"/><circle cx="631.1" cy="73.4"/><circle cx="625.2" cy="76.2"/><circle cx="607.0" cy="77.4"/><circle cx="610.0" cy="77.8"/><circle cx="613.0" cy="77.2"/><circle cx="616.0" cy="77.8"/><circle cx="618.0" cy="77.0"/><circle cx="611.6" cy="84.3"/><circle cx="617.0" cy="82.5"/><circle cx="621.5" cy="83.9"/><circle cx="626.1" cy="87.6"/><circle cx="626.0" cy="90.6"/><circle cx="612.1" cy="90.6"/><circle cx="601.3" cy="83.0"/><circle cx="497.6" cy="97.9"/><circle cx="495.5" cy="108.7"/><circle cx="489.7" cy="126.8"/><circle cx="510.7" cy="119.4"/><circle cx="515.6" cy="107.2"/><circle cx="525.6" cy="133.0"/><circle cx="524.7" cy="135.5"/><circle cx="546.3" cy="131.5"/><circle cx="544.3" cy="137.3"/><circle cx="557.1" cy="140.8"/><circle cx="558.9" cy="142.6"/><circle cx="583.5" cy="143.0"/><circle cx="595.3" cy="143.0"/><circle cx="611.6" cy="90.4"/><circle cx="626.0" cy="86.8"/><circle cx="626.6" cy="89.5"/><circle cx="642.4" cy="110.0"/><circle cx="654.1" cy="105.8"/><circle cx="627.0" cy="98.0"/><circle cx="630.0" cy="99.0"/><circle cx="633.0" cy="97.5"/><circle cx="636.0" cy="100.0"/><circle cx="629.0" cy="101.3"/><circle cx="624.0" cy="96.0"/><circle cx="542.7" cy="24.4"/><circle cx="548.0" cy="22.0"/><circle cx="553.0" cy="20.0"/><circle cx="548.0" cy="28.0"/><circle cx="595.0" cy="20.0"/><circle cx="600.0" cy="24.0"/><circle cx="628.0" cy="20.0"/><circle cx="660.0" cy="21.0"/><circle cx="667.0" cy="27.0"/><circle cx="640.0" cy="26.0"/><circle cx="575.0" cy="25.0"/><circle cx="545.4" cy="105.2"/><circle cx="527.3" cy="106.6"/><circle cx="544.3" cy="98.6"/><circle cx="532.0" cy="108.4"/><circle cx="531.9" cy="104.3"/><circle cx="526.0" cy="108.4"/><circle cx="539.2" cy="107.4"/><circle cx="540.1" cy="103.4"/><circle cx="525.2" cy="107.2"/><circle cx="537.0" cy="112.0"/><circle cx="525.9" cy="100.4"/><circle cx="537.5" cy="103.8"/><circle cx="523.0" cy="109.7"/><circle cx="532.1" cy="110.8"/><circle cx="523.1" cy="101.0"/><circle cx="525.1" cy="102.9"/><circle cx="551.1" cy="111.5"/><circle cx="548.0" cy="104.5"/><circle cx="551.0" cy="96.2"/><circle cx="536.3" cy="107.6"/><circle cx="525.6" cy="103.2"/><circle cx="535.6" cy="107.4"/><circle cx="540.0" cy="98.0"/><circle cx="520.6" cy="98.6"/><circle cx="551.7" cy="104.3"/><circle cx="549.1" cy="104.4"/><circle cx="542.8" cy="106.7"/><circle cx="538.1" cy="96.5"/><circle cx="533.5" cy="110.4"/><circle cx="550.6" cy="107.0"/><circle cx="555.1" cy="104.3"/><circle cx="550.5" cy="103.5"/><circle cx="522.1" cy="102.9"/><circle cx="545.1" cy="100.6"/><circle cx="548.5" cy="109.5"/><circle cx="520.3" cy="103.7"/><circle cx="544.7" cy="108.3"/><circle cx="553.1" cy="98.3"/><circle cx="531.2" cy="100.9"/><circle cx="549.4" cy="98.1"/><circle cx="561.6" cy="142.3"/><circle cx="521.8" cy="129.7"/><circle cx="537.1" cy="133.0"/><circle cx="528.2" cy="119.4"/><circle cx="542.1" cy="123.7"/><circle cx="533.2" cy="121.8"/><circle cx="536.5" cy="123.5"/><circle cx="543.7" cy="141.2"/><circle cx="551.5" cy="119.7"/><circle cx="556.3" cy="138.4"/><circle cx="555.9" cy="127.3"/><circle cx="548.5" cy="136.6"/><circle cx="551.6" cy="114.8"/><circle cx="514.0" cy="128.3"/><circle cx="557.7" cy="137.3"/><circle cx="539.9" cy="136.4"/><circle cx="556.7" cy="127.7"/><circle cx="514.1" cy="125.2"/></g>
<g class="c3"><circle cx="466.0" cy="106.6"/><circle cx="550.1" cy="52.8"/><circle cx="550.1" cy="78.2"/><circle cx="548.4" cy="82.9"/></g>
<g class="c1"><circle cx="495.8" cy="80.8"/><circle cx="593.0" cy="52.6"/><circle cx="622.0" cy="49.4"/><circle cx="571.8" cy="63.7"/><circle cx="629.7" cy="63.1"/><circle cx="637.0" cy="60.8"/><circle cx="637.0" cy="66.2"/><circle cx="642.7" cy="56.8"/><circle cx="643.3" cy="59.3"/><circle cx="542.2" cy="147.8"/><circle cx="546.6" cy="151.0"/><circle cx="556.2" cy="151.7"/><circle cx="561.5" cy="152.2"/><circle cx="568.1" cy="149.3"/><circle cx="573.6" cy="149.6"/></g>
<g class="c2"><circle cx="572.7" cy="44.1"/><circle cx="594.4" cy="41.2"/><circle cx="625.7" cy="42.3"/><circle cx="618.3" cy="46.8"/><circle cx="544.0" cy="152.7"/><circle cx="551.9" cy="154.0"/><circle cx="560.6" cy="156.6"/><circle cx="561.8" cy="153.8"/><circle cx="655.4" cy="50.5"/><circle cx="649.1" cy="54.5"/><circle cx="651.7" cy="47.9"/><circle cx="651.8" cy="46.7"/><circle cx="652.8" cy="45.7"/><circle cx="647.5" cy="52.9"/><circle cx="649.0" cy="48.8"/><circle cx="646.8" cy="50.6"/><circle cx="652.1" cy="52.0"/><circle cx="650.4" cy="51.5"/></g>
<g class="c12"><circle cx="572.9" cy="80.6"/><circle cx="588.1" cy="90.7"/><circle cx="583.1" cy="81.8"/><circle cx="571.0" cy="86.1"/><circle cx="588.2" cy="92.6"/><circle cx="602.2" cy="90.4"/><circle cx="602.5" cy="81.0"/><circle cx="598.9" cy="79.1"/><circle cx="563.9" cy="95.7"/><circle cx="598.2" cy="90.4"/><circle cx="576.5" cy="87.7"/><circle cx="567.4" cy="80.6"/><circle cx="585.9" cy="84.8"/><circle cx="584.3" cy="84.1"/><circle cx="610.9" cy="91.4"/><circle cx="557.1" cy="91.1"/><circle cx="586.4" cy="85.3"/><circle cx="595.4" cy="94.6"/><circle cx="557.6" cy="95.9"/><circle cx="599.0" cy="90.5"/><circle cx="598.4" cy="95.7"/><circle cx="558.1" cy="90.7"/><circle cx="585.8" cy="80.6"/><circle cx="583.8" cy="85.4"/><circle cx="602.5" cy="82.2"/><circle cx="610.1" cy="80.1"/><circle cx="587.0" cy="86.3"/><circle cx="565.1" cy="85.8"/><circle cx="600.0" cy="94.5"/><circle cx="611.0" cy="82.1"/><circle cx="608.9" cy="79.6"/><circle cx="562.0" cy="93.1"/><circle cx="588.4" cy="86.8"/><circle cx="557.4" cy="86.7"/><circle cx="577.2" cy="87.2"/><circle cx="559.7" cy="86.1"/><circle cx="587.8" cy="86.9"/><circle cx="557.5" cy="85.0"/><circle cx="583.5" cy="89.1"/><circle cx="586.6" cy="82.5"/><circle cx="555.4" cy="97.0"/><circle cx="547.5" cy="98.3"/><circle cx="556.1" cy="96.2"/><circle cx="555.2" cy="106.0"/><circle cx="557.3" cy="110.9"/><circle cx="551.1" cy="102.9"/><circle cx="562.6" cy="105.9"/><circle cx="549.5" cy="111.6"/><circle cx="550.1" cy="105.7"/><circle cx="556.1" cy="98.0"/><circle cx="545.8" cy="105.4"/><circle cx="546.9" cy="102.0"/><circle cx="561.0" cy="110.8"/><circle cx="561.6" cy="96.4"/></g>
<g class="c5"><circle cx="584.6" cy="106.0"/><circle cx="566.2" cy="101.3"/><circle cx="571.8" cy="97.8"/><circle cx="610.7" cy="106.7"/><circle cx="590.8" cy="104.4"/><circle cx="564.9" cy="102.3"/><circle cx="585.6" cy="104.2"/><circle cx="597.0" cy="106.3"/><circle cx="609.3" cy="104.0"/><circle cx="584.8" cy="102.0"/><circle cx="573.0" cy="97.2"/><circle cx="592.7" cy="98.1"/><circle cx="575.9" cy="101.2"/><circle cx="619.3" cy="102.5"/><circle cx="559.0" cy="101.0"/><circle cx="622.9" cy="101.5"/><circle cx="592.8" cy="107.9"/><circle cx="613.4" cy="106.6"/><circle cx="573.8" cy="100.2"/><circle cx="616.2" cy="99.3"/><circle cx="570.3" cy="109.0"/><circle cx="564.8" cy="100.3"/><circle cx="626.5" cy="96.4"/><circle cx="568.6" cy="105.0"/><circle cx="625.9" cy="99.9"/><circle cx="607.1" cy="97.8"/><circle cx="631.9" cy="103.4"/><circle cx="619.8" cy="96.7"/><circle cx="606.9" cy="95.2"/><circle cx="602.3" cy="107.1"/><circle cx="591.0" cy="103.3"/><circle cx="624.0" cy="97.7"/><circle cx="615.5" cy="102.9"/><circle cx="588.5" cy="96.3"/><circle cx="613.0" cy="97.3"/><circle cx="597.2" cy="95.6"/><circle cx="630.4" cy="106.5"/><circle cx="595.8" cy="108.4"/><circle cx="559.6" cy="102.9"/><circle cx="563.1" cy="107.1"/><circle cx="577.5" cy="96.1"/><circle cx="610.4" cy="97.3"/><circle cx="593.3" cy="107.0"/><circle cx="611.5" cy="104.5"/><circle cx="625.5" cy="103.4"/><circle cx="617.6" cy="96.9"/><circle cx="563.4" cy="105.5"/><circle cx="562.2" cy="97.9"/><circle cx="577.5" cy="105.5"/><circle cx="573.7" cy="99.7"/><circle cx="595.4" cy="96.9"/><circle cx="590.8" cy="96.7"/><circle cx="615.7" cy="102.7"/><circle cx="563.4" cy="102.4"/><circle cx="562.8" cy="98.5"/><circle cx="607.3" cy="97.4"/><circle cx="574.1" cy="96.9"/><circle cx="611.3" cy="100.0"/><circle cx="559.8" cy="96.0"/><circle cx="585.3" cy="109.0"/><circle cx="584.8" cy="100.4"/><circle cx="579.2" cy="100.3"/><circle cx="630.9" cy="108.9"/><circle cx="627.6" cy="103.9"/><circle cx="628.7" cy="98.9"/><circle cx="574.6" cy="107.2"/><circle cx="619.4" cy="97.2"/><circle cx="618.3" cy="99.0"/><circle cx="564.1" cy="95.1"/><circle cx="596.1" cy="103.4"/><circle cx="618.0" cy="112.0"/><circle cx="621.0" cy="116.0"/><circle cx="619.0" cy="120.0"/><circle cx="587.0" cy="117.2"/><circle cx="602.5" cy="115.8"/><circle cx="579.0" cy="123.0"/><circle cx="576.3" cy="127.5"/><circle cx="591.7" cy="128.4"/><circle cx="591.7" cy="131.0"/><circle cx="592.6" cy="136.6"/><circle cx="575.4" cy="134.8"/><circle cx="568.1" cy="137.5"/><circle cx="557.1" cy="93.1"/><circle cx="562.4" cy="92.2"/><circle cx="554.5" cy="97.4"/><circle cx="559.8" cy="81.7"/><circle cx="555.4" cy="88.7"/><circle cx="575.0" cy="85.0"/><circle cx="580.0" cy="82.0"/><circle cx="600.0" cy="80.0"/></g>
<path d="M45.0 240.0L100.0 245.0L110.0 280.0L70.0 285.0L50.0 275.0Z" fill="#ececec" fill-opacity="0.8" filter="url(#b3)"/>
<path d="M22.0 230.0L45.0 215.0L85.0 197.0L110.0 200.0L135.0 205.0L140.0 228.0L100.0 250.0L60.0 247.0L30.0 240.0Z" fill="#e4e4e4" fill-opacity="0.9" filter="url(#b2)"/>
<path d="M98.0 228.0L130.0 215.0L160.0 210.0L200.0 215.0L211.0 255.0L210.0 292.0L180.0 292.0L150.0 292.0L110.0 290.0L95.0 258.0Z" fill="#e2e2e2" fill-opacity="0.9" filter="url(#b2)"/>
<path d="M3.0 318.0L40.0 290.0L70.0 280.0L100.0 272.0L118.0 292.0L100.0 310.0L60.0 310.0L20.0 322.0Z" fill="#e6e6e6" fill-opacity="0.9" filter="url(#b2)"/>
<path d="M108 249L84 240M89 302L130 272M167 251L141 240M168 253L138 248M165 254L123 236M108 249L129 252M120 254L42 291M118 226L168 253M128 256L134 254M85 200L190 220M94 236L172 235M111 252L118 279M112 241L159 255M178 229L151 243M121 240L127 241M120 235L77 232M138 247L42 296M86 232L112 237M131 228L95 299M146 241L196 242M81 208L53 239M93 237L42 296M187 285L149 286M130 244L88 285M193 227L178 253M106 283L186 244M151 243L114 277M187 223L108 296M205 286L133 279M24 306L108 301M128 235L173 251M137 242L134 245M75 211L156 275M98 232L174 222M94 299L130 241M120 236L167 227M138 260L86 265M187 287L138 247M134 238L140 235M168 253L75 301M141 270L136 213M194 285L140 243M148 249L113 255M183 232L76 233M114 226L96 272M122 246L129 232M127 241L98 223M146 250L170 231M192 285L176 265M182 224L197 243M198 238L176 248M185 220L159 270M141 246L86 234M44 297L89 302M94 235L114 288M118 216L102 245M56 224L65 283M187 243L187 287M147 281L97 240M108 237L169 263M159 251L135 228M128 282L187 257M136 252L73 228M197 227L130 232M96 244L153 275M148 249L106 294M142 243L51 233M165 254L82 228M108 240L150 275M132 255L168 253M128 235L119 229M181 250L134 238M133 279L108 301M95 299L120 236M70 213L180 217M121 237L87 271M20 311L84 234M113 234L126 230M131 234L205 286M187 283L114 226M35 296L40 233M102 296L73 221M169 263L84 203M120 235L129 251M142 286L205 286M141 240L183 249M188 254L109 304M138 247L121 291M108 240L170 243M163 225L136 213M166 242L140 242M167 242L199 258M118 246L136 252M138 232L163 262M112 241L132 255M127 255L44 305M187 287L179 247M98 236L111 245M176 248L110 286M86 232L69 305M113 234L37 237M169 263L201 284M124 285L114 226M133 288L89 234M137 252L157 232M102 244L138 247M94 235L182 224M135 272L138 239M140 277L133 253M129 252L106 294M187 283L122 254M119 250L126 274M115 263L73 303M144 274L168 221M108 255L147 281M192 285L111 241M135 206L176 248M137 247L142 286M106 282L30 311M184 216L136 254M122 245L53 296M56 219L111 301M167 216L168 264M37 237L58 301M144 250L118 246M192 285L102 296M135 234L106 242M128 247L109 238M104 232L93 235M113 255L86 227M136 252L138 268M167 265L68 299M118 252L156 275M141 246L188 248M168 264L200 270M152 272L166 269M166 241L87 240M129 232L116 255M168 264L140 235M30 311L91 309M111 245L75 297M118 216L77 232M140 235L153 267M134 254L162 262M163 262L163 223M159 270L91 240M140 242L108 237M131 234L94 235M132 231L144 250M128 231L168 253M102 296L197 260M83 230L91 212M110 302L181 250M100 234L157 272M122 245L188 288M187 234L159 250M124 241L44 297M180 217L136 236M112 293L140 277M125 254L170 254M183 232L98 236M172 242L134 254M110 302L96 272M80 303L175 263M103 233L114 288M139 235L138 247M108 237L138 257M168 253L101 252M135 232L128 253M170 231L95 231M128 247L122 246M181 255L178 229M173 244L161 249M120 235L89 234M133 246L183 232M151 282L111 241M177 225L162 262M188 289L135 206M129 251L85 200M109 232L138 268M119 235L160 291M133 253L153 234M140 286L128 276M40 300L47 222M163 225L157 275M104 299L129 252M87 239L136 239M119 229L87 234M191 241L175 226M172 262L136 235M85 299L86 227M114 288L135 247M93 235L187 287M39 304L86 232M96 307L161 242M118 248L194 283M135 272L141 270M91 304L173 244M85 310L111 241M58 301L136 252M112 241L76 239M150 275L175 263M113 249L188 289M147 275L192 285M170 254L138 239M186 265L191 287M108 296L111 300M178 253L100 300M168 264L93 230M182 243L83 230M131 234L102 244M151 282L206 288M121 236L138 266M115 263L178 242M91 304L141 240M159 255L145 243M176 242L193 227M187 223L139 235M148 243L164 244M186 257L188 248M206 288L159 250M78 238L96 240M186 244L131 219M115 263L179 216M163 224L182 224M153 267L182 259M191 284L96 307M108 301L55 236M190 220L138 266M142 238L188 289M170 246L137 247M113 249L117 253M99 242L135 247M65 283L119 235M187 283L169 249M87 234L167 216M168 221L122 246M129 230L138 260M119 250L131 234M76 235L130 244M151 282L100 242M42 291L135 272M127 241L40 228M152 272L151 282M103 233L133 237M173 251L108 301M90 234L73 228M147 275L114 288M173 244L178 229M136 239L113 295M146 241L128 256M144 243L101 252M43 300L132 255M132 237L141 258M178 229L159 240M54 218L65 221M138 260L76 269M98 223L141 246M137 247L144 246M84 203L79 263M151 282L93 238M176 265L160 253M114 226L171 233M166 241L111 301M30 225L113 249M163 225L185 281M104 294L122 252M106 243L124 241M90 234L129 239M140 235L173 251M172 235L147 275M133 237L184 218M165 292L106 236M146 250L187 287M87 233L106 282M102 245L34 232M39 301L140 277M113 239L115 263M120 235L130 240M135 228L120 235M175 226L119 230M134 245L85 299M176 242L83 235M89 198L98 298M141 270L120 254M171 254L70 213M122 245L129 251M87 240L97 234M171 257L197 243M166 255L141 246M159 270L111 252M157 272L205 286M153 275L130 240M98 242L159 250M130 232L121 264M158 275L132 237M132 239L165 254M75 211L103 233M147 281L112 252M114 277L191 287M40 228L45 241M84 301L138 248M188 254L179 247M12 310L114 288M152 272L128 235M188 284L119 252M86 232L83 240M130 241L144 246M22 297L93 238M108 249L175 242M91 212L140 262M73 236L100 300M206 288L128 276M113 255L121 237M142 254L43 224M74 262L172 262M108 301L113 295M116 234L137 247M96 261L147 281M87 233L138 241M140 286L81 270M136 252L135 248M92 242L188 254M129 251L184 284M118 246L83 269M168 253L122 245M95 299L168 253M146 250L96 307M107 239L163 225M163 223L113 255M86 234L108 240M132 237L181 250M44 297L55 236M88 241L106 283M90 234L84 301M86 233L176 265M53 296L100 234M151 243L148 249M108 262L121 264M108 249L94 235M153 267L175 226M42 296L121 240M198 265L193 236M183 249L174 218M136 252L172 242M84 240L68 299M170 246L88 241M144 246L180 245M170 243L114 250M146 250L193 236M118 248L200 270M88 285L91 212M184 284L200 270M128 231L135 206M150 275L106 298M89 234L96 288M114 249L170 254M109 238L89 198M141 240L74 262M171 233L116 241M172 250L103 249M137 251L102 296M187 257L185 250M97 230L179 216M170 246L156 264M122 252L100 242M137 242L136 235M167 265L109 304M133 279L81 208M156 264L136 254M140 262L92 242M158 275L114 277M125 280L83 269M53 239L126 250M184 216L201 284M54 301L135 234M119 235L73 228M75 296L87 271M102 296L22 309M172 235L113 249M99 242L136 250M93 230L142 248M108 262L151 282M88 261L176 248M118 252L42 296M164 244L183 223M130 244L121 291M40 228L64 232M173 251L112 241M132 271L40 300M43 300L99 232M157 275L83 269M80 299L130 232M167 265L133 253M177 225L83 230M193 236L163 262M152 272L124 241M30 311L61 236M54 218L104 294M136 252L47 238M76 235L96 272M140 286L117 291M150 275L106 283M85 310L160 253M119 252L144 252M130 232L96 241M114 277L80 303M173 251L129 250M132 231L72 304M187 287L166 241M134 286L192 285M95 231L140 262M173 251L112 208M108 296L116 241M191 283L96 240M108 296L174 222M75 297L111 241M181 250L130 272M169 263L141 240M117 253L36 304M141 270L187 243M81 271L123 243M58 303L124 246M76 239L64 232M121 236L102 244M137 252L106 282M148 243L133 237M80 219L122 254M138 248L144 246M98 242L116 241M106 243L187 257M103 249L119 252M107 239L121 236M88 240L118 246M109 232L61 236M175 226L159 240M143 256L62 295M114 226L187 287M64 232L119 239M116 255L111 201M19 303L90 239M113 249L119 235M163 262L140 242M87 233L170 231M109 238L147 281M110 302L111 245M96 272L133 241M109 232L179 216M47 238L135 247M122 252L173 244M135 272L166 241M76 233L56 219M53 296L134 245M96 272L165 292M75 297L137 210M92 242L90 234M187 223L159 251M40 233L32 310M75 296L142 243M134 245L114 226M111 245L124 285M89 234L116 255M87 233L33 305M94 299L165 286M106 243L158 275M70 213L140 243M118 240L136 250M94 299L159 255M161 249L125 254M75 211L108 296M93 230L88 261M94 236L82 228M114 226L122 246M119 237L112 252M140 277L83 230M132 271L121 240M166 241L122 252M121 237L112 241M75 296L104 232M106 236L124 241M106 298L73 303M58 232L158 275M149 286L135 232M96 261L80 219M140 286L112 208M84 301L139 256M139 237L115 263M117 291L139 235M112 208L76 271M132 237L97 240M113 249L112 208M44 305L111 301M179 216L121 236M111 248L111 201M198 265L130 244M156 264L159 251M122 245L78 238M90 234L198 238M178 227L167 227M142 248L133 288M116 255L167 265M116 234L128 247M164 244L175 226M173 251L177 225M141 252L175 226M106 294L169 263M137 252L185 250M87 234L160 253M52 293L122 245M98 232L130 272M133 237L136 259M181 255L178 229M33 305L111 300M183 223L185 281M79 263L88 240M176 248L176 242M163 223L156 242M66 298L125 254M172 250L80 219M133 246L107 239M68 299L144 246M108 301L133 237M97 234L93 236M117 253L156 264M70 282L121 236M34 232L39 304M104 294L112 237M109 238L22 297M187 283L113 249M106 252L134 286M130 240L130 244M113 234L97 234M185 281L139 235M86 234L89 241M70 282L81 234M37 237L138 241M132 237L113 239M85 299L73 303M124 249L101 252M89 234L130 244M174 218L109 238M108 301L172 262M87 234L49 304M175 226L187 283M159 250L146 241M97 234L93 237M153 267L83 235M73 299L93 238M170 231L186 265M166 241L120 254M185 281L182 247M84 203L93 238M81 208L130 240M55 236L106 243M170 246L133 237M54 218L131 219M126 274L196 289M184 216L135 206M107 239L90 239M185 220L110 286M188 289L113 239M45 241L144 246M128 253L170 257M130 240L133 279M170 254L106 252M81 271L29 301M111 245L128 256M205 286L194 283M138 268L167 251M50 241L141 240M128 235L157 272M82 228L40 228M161 249L167 242M171 260L179 248M195 268L124 285M64 232L140 242M133 253L122 246M87 234L175 263M190 220L108 240M172 262L91 240M22 297L40 233M163 224L84 281M197 260L118 252M187 287L131 234M130 240L160 253M179 244L114 226M166 254L147 281M79 263L88 261M96 288L163 225M39 223L143 256M86 234L173 251M89 198L89 234M187 223L129 230M196 242L164 290M135 247L153 275M30 225L78 238M79 263L177 225M127 241L63 298M142 238L113 234M119 229L167 227M91 304L95 299M63 298L128 231M95 299L122 254M111 300L194 283M50 241L128 231M122 254L166 242M111 248L166 241M189 289L109 304M39 223L118 252M117 291L172 242M75 211L94 299M107 239L26 229M126 250L179 248M68 299L133 246M201 283L187 223M168 253L129 230M49 304L81 271M205 286L137 251M144 274L89 241M35 296L68 299M121 291L168 264M176 248L176 276M130 240L165 254M129 230L94 299M123 236L106 282M151 243L135 228M118 240L125 280M80 299L58 303M129 250L178 253M106 243L106 282M160 253L113 234M54 301L108 301M130 240L176 242M114 288L191 283M109 232L106 294M111 201L150 275M128 282L85 299M167 216L196 242M96 244L128 231M185 281L108 249M58 301L130 240M113 249L140 243M167 242L159 255M187 223L138 241M119 252L153 267M167 265L109 304M106 294L135 232M142 254L128 256M182 247L138 266M197 260L159 255M162 262L163 223M140 262L108 240M151 243L132 239M156 275L175 242M138 257L111 245M73 303L116 241M118 240L83 235M83 269L102 244M131 234L100 300M121 264L140 262M192 285L118 226M187 257L159 240M124 249L142 248M133 237L119 252M136 259L187 283M197 243L108 255M132 239L112 241M40 300L102 244M121 240L84 234M87 271L43 300M88 285L150 275M138 257L76 269M112 241L45 241M124 241L140 262M118 252L128 247M86 232L138 239M88 285L107 239M132 237L108 296M111 201L51 233M142 286L44 297M194 285L119 235M129 251L201 283M172 262L131 219M193 236L168 221M117 253L94 236M98 298L94 236M196 242L135 247M95 299L133 246M132 237L140 286M126 250L54 301M84 234L137 252M61 295L99 242M185 220L104 232M136 252L91 212M138 239L143 234M108 237L159 250M197 260L144 252M111 241L190 292M117 291L181 255M54 218L103 233M161 249L69 305M40 300L11 317M106 236L73 304M133 279L113 234M125 254L80 303M44 305L61 295M115 263L81 270M172 250L118 216M175 226L76 271M143 234L121 291M136 259L196 242M132 239L81 208M128 253L136 235M114 226L170 243M94 235L35 296M133 253L165 254M80 303L133 253M114 288L83 240M131 234L80 303M50 241L141 246M73 299L100 242M166 269L73 303M134 238L152 272M70 282L149 286M153 234L66 298M80 303L144 250M29 301L76 233M186 244L138 248M73 299L136 250M75 296L54 301M156 264L81 270M152 272L97 230M82 228L94 235M99 232L93 235M132 239L144 240M134 238L187 287M183 246L86 265M113 249L183 284M138 268L130 232M106 252L70 213M153 275L114 250M129 239L133 279M160 253L85 200M117 253L188 288M136 259L174 218M196 289L140 235M194 283L106 283M187 257L206 288M111 252L171 257M144 252L108 296M81 234L158 275M167 242L96 240M167 216L167 251M170 243L70 282M91 304L20 300M166 254L133 237M65 283L40 228M119 230L121 291M141 234L73 236M98 238L91 240M106 298L75 297M168 221L101 252M115 263L70 282M176 276L146 241M203 283L119 239M106 294L186 248M116 234L196 255M111 201L94 299M132 231L196 242M190 292L88 285M45 241L121 291M100 300L173 251M168 253L73 228M152 272L122 246M130 240L176 265M180 245L87 240M114 249L144 274M132 237L183 225M104 299L29 301M109 304L180 245M164 295L114 249M130 240L181 256M113 249L138 241M176 276L141 252M188 284L141 252M144 243L198 265M36 304L123 243M153 275L157 272M95 231L113 234M100 293L140 242M170 243L138 232M78 238L124 285M76 233L156 242M98 242L187 223M98 242L102 244M112 237L156 264M130 244L134 254M47 238L114 288M80 303L106 294M157 275L126 274M136 250L83 269M115 263L84 301M185 220L135 240M109 238L84 301M137 251L98 242M138 239L140 242M141 258L131 219M170 243L122 254M138 248L116 255M85 299L170 257M112 208L135 206M141 252L116 255M85 310L170 246M187 283L113 295M106 298L53 296M197 227L188 284M140 235L98 223M120 254L153 267M84 281L75 211M111 248L33 297M94 299L153 267M189 289L178 266M114 226L165 254M138 257L43 298M96 240L138 268M97 240L196 242M75 297L81 234M129 230L163 223M62 295L75 296M181 250L136 236M131 234L93 236M95 231L112 252M166 254L141 246M91 212L26 229M182 224L159 250M139 235L183 246M108 255L179 216M126 223L203 283M163 225L205 286M163 262L166 242M111 245L84 203M73 221L95 299M111 245L186 248M178 229L111 248M99 232L118 226M189 289L165 254M130 240L138 268M78 238L20 300M135 232L135 272M39 304L88 241M73 303L167 265M141 252L92 242M120 254L102 245M185 281L96 240M139 237L172 235M74 262L106 298M187 243L113 295M144 250L77 232M156 242L108 296M193 227L112 293M171 233L136 250M128 247L75 296M148 249L130 240M140 235L97 230M37 237L132 237M93 230L99 232M179 216L195 268M96 241L180 217M116 255L141 252M87 240L171 254M137 210L118 238M118 240L93 237M167 227L118 246M96 272L88 240M181 250L95 231M184 218L106 252M121 291L113 255M166 255L124 285M138 257L157 272M141 270L150 247M176 276L109 232M186 218L179 216M119 229L45 306M159 240L184 216M22 297L121 264M128 256L131 228M185 220L156 264M84 240L120 277M56 219L91 304M98 238L80 303M109 238L137 252M137 210L149 286M45 241L70 282M93 230L141 234M161 242L178 242M130 244L55 236M22 297L104 232M191 241L144 274M183 232L84 281M133 288L189 289M91 240L124 241M182 243L108 255M170 243L135 232M100 234L109 304M130 241L43 298M163 223L121 291M40 228L88 285M96 261L99 232M164 270L98 298M90 234L143 256M190 220L128 231M128 247L163 223M111 301L174 229M118 238L96 240M194 283L144 243M165 286L183 260M156 242L197 243M104 299L172 250M157 232L88 240M72 304L119 230M113 239L181 250M100 234L159 255M124 241L95 231M128 253L130 241M129 250L169 263M97 240L108 296M133 253L127 241M156 242L135 228M99 242L179 247M76 296L173 251M176 242L90 285M178 229L187 285M179 244L73 228M141 270L144 243M96 241L39 223M157 232L160 253M140 262L112 241M135 228L102 296M69 305L97 234M151 243L168 221M139 256L175 230M187 283L104 232M140 242L178 229M99 232L68 299M106 298L144 243M92 242L169 263M107 239L200 270M195 268L102 244M196 242L157 272M73 228L98 223M186 285L138 239M108 301L119 252M113 295L196 255M140 235L200 270M142 243L111 300M148 243L113 249M86 233L188 254M62 300L83 235M168 264L119 211M102 245L86 234M126 230L159 255M170 254L180 245M55 236L119 239M196 242L106 294M128 231L136 250M84 240L10 314M140 235L134 238M112 237L118 246M89 241L142 286M128 247L160 291M133 241L58 232M119 239L169 263M130 244L85 299M39 301L62 295M136 252L87 239M22 309L76 271M73 303L94 235M135 240L198 238M139 256L128 276M180 217L94 236M96 261L186 244M151 282L78 238M124 246L186 265M188 289L186 257M178 248L164 244M63 298L131 228M132 237L138 239M129 250L88 285M121 291L68 299M150 275L130 241M103 233L56 224M75 296L63 298M129 230L49 304M36 304L88 285M68 299L90 285M81 271L86 234M108 237L120 235M87 271L121 236M130 244L87 240M140 262L121 291M30 311L116 272M113 255L174 218M128 247L40 300M144 240L144 246M164 270L184 218M134 245L174 218M183 260L96 261M198 238L191 284M171 254L114 250M136 252L187 287M108 262L148 243M111 301L176 265M151 282L138 260M128 253L164 270M167 242L95 231M139 235L179 247M190 220L163 223M128 235L161 249M136 252L163 223M56 224L111 201M74 262L118 252M96 307L98 236M42 291L81 208M39 304L111 301M75 297L134 238M88 241L130 241M73 221L122 245M153 267L176 265M84 217L168 253M157 275L144 246M168 253L98 223M100 293L164 295M167 265L80 303M10 317L73 304M113 249L164 244M58 301L131 219M141 234L91 212M197 243L134 238M118 252L186 218M187 283L163 224M42 291L76 269M73 236L138 260M80 299L97 234M141 234L88 285M132 237L201 284M106 236L166 255M162 262L170 254M20 300L40 228M206 288L177 249M152 272L104 299M52 293L96 272M196 242L115 263M87 234L172 242M191 284L119 229M100 242L140 235M74 262L40 228M92 242L28 300M194 285L180 245M81 270L119 211M151 243L167 227M113 295L176 276M126 230L177 249M129 250L40 228M192 285L161 242M102 296L141 240M200 270L137 242M131 228L42 291M94 236L39 300M86 232L91 304M103 233L193 236M118 216L114 288M97 230L135 232M100 300L135 247M140 243L136 254M146 241L113 234M110 302L54 301M160 253L118 240M86 265L159 270M119 230L136 235M131 228L184 284M197 243L184 216M24 306L39 304M124 246L121 291M106 243L135 272M163 224L88 285M179 247L113 295M146 250L166 254M200 270L143 256M98 298L119 230M86 265L142 254M146 241L128 282M168 264L113 249M128 256L184 218M164 244L97 240M112 208L156 242M175 242L132 237M198 265L123 236M191 287L100 293M108 255L139 235M162 262L113 249M188 254L104 299M89 302L76 235M108 262L138 248M34 232L98 298M135 240L183 260M137 252L169 249M111 248L80 303M116 272L178 227M178 248L113 234M190 292L120 277M135 248L98 238M167 216L111 245M124 249L175 242M75 297L36 304M203 283L198 265M126 230L43 224M141 234L196 255M126 223L140 262M116 241L87 233M50 241L122 252M175 230L102 244M166 241L124 285M169 263L128 256M93 238L179 244M136 252L135 232M178 253L138 257M116 234L98 242M187 234L98 298M164 244L90 285M100 242L159 250M113 249L93 230M127 255L101 252M153 234L164 244M104 294L83 230M108 262L68 299M113 255L151 282M114 249L200 270M125 280L83 240M163 223L106 283M121 240L173 244M179 216L118 252M128 235L37 237M99 242L113 255M185 220L197 227M103 233L169 263M166 255L142 248M152 272L148 243M36 304L129 251M51 233L100 300M43 298L75 301M106 252L96 261M113 249L99 232M47 222L87 233M179 216L118 216M100 242L81 271M64 232L100 293M118 279L84 203M119 211L153 267M76 271L115 263M190 292L193 287M43 224L118 252M75 296L11 317M76 239L65 283M138 241L76 269M34 232L92 242M111 248L173 251M81 271L118 279M166 255L147 275M127 241L187 234M187 223L137 242M122 254L128 282M138 268L195 268M91 212L185 250M181 255L166 254M87 233L39 304M88 285L64 232M87 233L19 303M137 210L109 238M102 245L93 230M80 219L84 301M153 267L108 255M169 263L73 299M130 241L122 254M76 271L77 232M156 242L53 239M85 310L142 286M188 288L176 265M167 265L175 242M146 250L80 219M40 228L80 303M80 299L158 275M43 300L141 270M43 298L123 243M132 255L136 213M146 241L133 241M187 234L93 230M161 242L73 304M168 253L126 288M172 235L96 244M106 294L194 283M73 221L125 254M58 303L91 309M170 246L137 242M201 284L134 245M136 259L166 255M138 248L175 242M119 229L170 246M166 242L192 285M108 301L29 301M128 253L137 252M138 241L179 216M188 289L183 249M140 235L92 242M112 252L51 233M170 246L178 242M183 249L118 238M173 244L150 275M66 298L133 246M106 242L89 234M183 246L163 223M142 243L39 223M124 285L100 242M172 242L183 260M168 253L121 237M111 300L163 224M183 246L93 236M128 231L174 275M42 238L111 248M136 252L186 244M94 235L89 302M142 254L127 255M69 305L165 286M124 249L195 268M75 301L135 228M138 268L122 252M128 231L65 283M109 238L121 237M85 200L164 270M128 276L142 286M116 234L181 255M171 257L142 243M123 243L43 224M89 241L160 291M182 259L128 247M88 261L61 295M173 251L83 269M36 304L47 238M110 302L95 231M195 268L159 270M42 296L100 293M72 304L98 232M114 226L129 230M164 290L108 237M125 254L33 305M142 243L99 242M136 239L187 283M108 296L123 243M111 201L111 245M80 299L140 277M194 285L141 258M119 211L124 249M89 234L171 254M175 263L149 286M55 236L111 300M107 239L181 250M86 265L119 211M114 250L37 237M129 239L139 256M138 239L131 228M205 286L186 218M76 235L69 305M55 236L161 249M142 248L58 303M111 241L34 232M149 286L153 234M136 250L140 262M194 285L160 253M171 260L164 244M121 236L69 305M174 218L167 251M100 300L166 241M117 291L179 216M135 206L145 243M132 239L90 285M103 249L102 296M29 301L113 255M112 293L124 246M118 246L113 255M116 234L118 246M156 264L128 276M96 272L118 252M129 230L111 248M58 232L90 239M116 234L182 243M132 255L142 254M76 296L156 242M90 285L178 253M118 246L87 233M39 223L95 231M179 244L90 239M30 225L132 239M138 266L108 237M178 266L100 293M148 243L93 237M95 231L97 230M94 299L135 248M54 218L128 235M49 304L51 233M170 246L135 246M64 232L131 234M106 243L203 283M94 236L170 231M106 236L35 296M40 233L129 230M125 254L64 232M123 243L187 257M164 270L97 240M54 218L40 228M203 283L113 249M128 231L73 221M140 286L191 283M121 236L163 224M136 254L39 300M165 286L120 277M119 230L198 238M167 227L95 299M66 298L96 288M94 236L196 255M127 241L208 286M101 252L118 252M142 254L165 286M119 235L183 232M93 236L179 248M188 288L185 220M52 293L146 241M205 286L180 217M164 295L98 236M104 299L186 265M182 247L174 218M128 235L137 252M183 225L117 291M126 223L70 213M120 277L181 256M110 302L42 296M120 235L207 275M86 232L116 272M126 250L135 247M170 243L119 211M153 234L121 237M138 260L122 252M135 248L85 299M129 252L130 244M133 241L76 239M167 251L76 296M180 217L134 254M120 236L88 285M77 232L167 216M64 232L75 301M186 285L140 235M112 241L73 221M132 239L160 253M102 244L118 248M141 258L134 254M84 217L76 239M157 232L129 230M94 299L138 232M122 254L164 244M164 244L142 254M166 242L149 286M121 264L117 253M184 218L132 239M66 298L134 238M97 234L125 254M111 300L69 305M172 235L175 226M112 237L136 252M174 229L165 254M200 270L196 289M80 219L166 254M96 244L135 246M128 247L39 304M10 317L111 301M32 310L104 294M164 270L175 230M137 247L189 289M111 248L122 254M143 234L119 230M178 248L159 240M86 265L171 260M56 224L142 238M88 241L42 296M75 297L129 232M197 227L121 264M108 255L191 287M140 277L76 233M96 241L135 232M144 240L100 300M172 235L164 290M120 235L86 265M186 257L124 249M153 234L121 237M147 275L150 247M98 242L106 283M122 252L138 241M70 213L51 233M138 239L132 237M172 242L114 288M170 246L121 291M126 250L183 246M126 230L120 235M118 240L147 281M107 239L73 303M180 245L158 275M150 275L170 254M164 290L160 253M132 271L92 242M128 253L144 240M174 218L98 298M111 301L29 301M146 241L51 233M151 243L73 304M109 304L129 239M119 235L39 223M117 253L50 241M119 211L174 222M136 250L87 233M138 239L188 248M170 246L186 218M18 302L80 303M188 254L131 219M33 305L20 300M166 269L112 293M100 234L99 232M98 223L57 302M201 284L151 243M54 218L108 240M58 301L104 299M106 236L170 243M120 235L122 252M141 234L96 244M96 241L178 253M150 247L136 239M134 238L87 233M167 265L142 254M184 284L126 288M90 239L144 252M119 230L167 216M166 255L83 235M80 219L119 229M34 232L113 295M98 238L141 246M180 217L128 235M160 291L133 288M84 281L86 265M129 252L110 302M54 301L84 281M144 243L112 293M129 230L175 242M190 292L112 241M128 276L61 295M132 231L135 247M142 248L88 261M185 250L190 220M140 277L114 277M165 286L179 247M168 253L85 299M138 239L135 228M195 268L193 227M207 275L177 225M139 256L128 247M132 271L43 302M109 238L44 305M86 265L125 280M134 238L117 291M30 225L116 234M173 244L136 235M150 247L103 249M164 295L98 238M170 246L138 241M127 255L54 301M196 242L136 252M112 252L108 296M186 244L168 253M86 265L106 242M135 272L172 235M138 266L120 277M86 227L141 234M84 217L104 232M158 275L206 288M113 249L120 254M88 240L135 272M172 235L128 256M203 283L175 226M83 235L43 298M88 261L129 251M160 291L106 282M39 223L128 253M146 241L62 295M91 212L120 236M111 300L126 274M37 237L124 246M129 251L150 275M109 238L114 226M83 240L114 226M126 250L113 255M188 254L153 275M112 252L121 236M193 287L108 237M118 279L170 231M129 251L129 232M187 223L122 246M138 239L73 228M113 249L120 254M206 288L119 250M130 272L194 283M148 249L183 246M133 253L165 286M123 243L84 234M34 232L113 249M111 241L205 286M121 264L208 286M140 242L56 224M160 253L164 290M102 244L172 242M91 304L102 296M188 289L144 250M185 281L189 289M157 272L144 250M147 281L68 299M102 245L156 242M99 242L132 237M120 236L176 242M139 256L109 232M118 238L80 303M114 288L56 219M186 244L161 242M168 253L111 245M133 237L92 242M90 285L106 298M163 223L179 248M138 239L111 201M172 235L134 238M100 293L100 234M140 243L201 283M138 268L70 282M124 285L39 223M121 264L130 240M56 224L131 234M108 296L128 276M112 252L75 211M96 244L151 243M77 232L90 234M109 238L138 268M187 234L133 237M87 240L141 246M136 235L137 242M136 239L132 237M116 272L182 224M53 239L153 267M93 235L134 286M87 233L187 243M119 235L39 300M50 241L108 301M134 238L85 299M174 229L163 262M119 250L55 236M133 237L108 301M114 250L146 250M39 223L120 236M98 242L43 300M181 255L147 281M20 300L76 269M185 220L93 235M89 302L97 240M58 303L140 235M183 223L171 254M167 242L183 284M88 261L132 271M96 240L106 236M15 310L40 300M137 251L143 256M135 246L96 244M186 285L164 244M140 277L106 283M111 300L167 227M159 250L93 235M10 317L113 295M114 288L125 280M187 283L191 284M87 271L167 265M122 246L165 286M182 247L121 264M84 240L170 246M190 220L148 249M185 281L178 253M191 287L197 243M85 299L187 287M73 304L168 253M75 301L116 272M164 244L76 233M136 236L96 261M86 265L123 236M135 246L147 275M93 238L66 298M112 208L175 226M76 235L66 298M203 283L115 263M84 234L89 198M61 236L144 274M188 284L106 283M118 238L140 242M159 251L136 254M129 250L132 237M82 228L150 275M184 218L136 235M84 203L149 286M142 254L129 252M182 224L161 249M183 284L143 256M50 241L128 282M136 213L106 298M54 218L65 221M110 302L135 240M86 265L96 261M187 234L201 283M110 302L62 300M138 268L183 260M159 251L61 295M159 250L96 240M201 283L111 252M108 301L142 248M116 255L135 272M135 206L94 236M99 242L91 240M120 277L132 231M62 300L143 256M96 307L185 250M144 274L111 241M167 251L138 260M115 263L188 288M124 249L91 240M140 242L52 293M116 272L109 232M183 284L197 260M100 234L43 298M178 242L110 286M144 243L167 251M180 245L185 220M121 236L112 293M138 268L178 229M144 274L98 232M132 255L49 304M158 275L113 239M98 298L129 250M111 241L113 249M99 242L191 283M178 229L111 301M98 236L20 311M73 221L91 212M144 250L129 230M135 232L119 229M118 248L112 293M119 252L131 234M133 237L147 275M89 302L75 296M83 230L30 311M130 244L185 281M113 255L64 232M96 288L108 249M89 198L132 239M111 300L89 198M151 282L118 240M111 301L171 233M162 262L191 287M134 238L184 218M50 241L144 240M119 250L76 233M86 232L131 234M68 299L110 286M136 252L164 244M140 243L170 246M124 246L152 272M122 245L139 237M89 302L132 239M90 239L175 263M151 282L183 246M203 283L121 291M187 283L85 310M125 280L140 277M171 233L150 247M120 277L28 300M96 307L183 249M129 230L100 300M119 252L186 285M84 217L45 306M121 236L47 238M144 252L85 200M164 295L95 231M104 294L167 216M119 230L181 256M153 267L183 249M73 221L147 281M135 228L86 265M132 237L118 246M186 257L139 237M188 248L168 253M129 230L109 238M164 290L178 248M53 296L143 256M86 234L84 301M191 241L86 227M184 216L84 203M83 240L136 250M49 304L106 243M167 242L193 236M62 300L73 228M165 254L168 221M165 254L132 255M81 234L98 238M76 296L129 252M191 284L205 286M140 262L119 229M159 270L97 230M136 236L83 240M102 245L201 283M94 299L119 239M138 247L85 299M198 265L100 293M132 239L116 241M129 252L164 295M182 243L158 275M129 239L116 234M121 291L62 295M138 266L179 248M165 254L144 250M77 232L108 255M98 238L186 257M88 240L84 281M191 283L108 240M58 301L113 234M136 213L158 275M168 264L190 220M73 299L164 244M145 243L134 286M84 281L138 232M101 252L164 244M91 240L129 250M132 255L91 309M129 230L92 242M64 232L26 229M79 263L137 242M111 252L144 246M88 240L173 251M132 255L138 241M128 235L111 248M183 232L186 248M93 238L137 242M199 258L177 225M196 255L153 275M158 275L165 286M80 303L136 213M156 264L208 286M128 253L58 232M176 276L106 243M44 305L106 252M97 240L159 250M128 247L193 227M151 243L83 240M185 250L131 234M104 294L128 247M106 294L121 236M148 243L87 271M138 239L137 242M122 245L136 252M172 250L160 291M130 241L117 291M183 223L111 301M130 232L114 277M128 231L100 300M50 241L20 311M192 285L139 256M172 235L191 241M114 226L122 245M86 265L186 244M114 250L88 261M116 241L96 240M141 258L188 254M191 284L196 289M128 253L140 242M98 242L133 253M119 235L187 287M172 262L121 291M144 240L140 286M120 254L141 270M205 286L183 260M187 285L139 237M158 275L123 243M43 224L109 238M86 233L124 246M142 243L181 255" stroke="#bdbdbd" stroke-width="0.45" stroke-opacity="0.13" fill="none"/>
<g class="c1"><circle cx="89.3" cy="197.6"/><circle cx="85.3" cy="199.5"/><circle cx="83.7" cy="202.7"/><circle cx="81.4" cy="207.8"/><circle cx="75.0" cy="211.0"/><circle cx="70.2" cy="212.6"/><circle cx="64.7" cy="221.0"/><circle cx="57.5" cy="232.2"/><circle cx="55.1" cy="236.1"/><circle cx="52.7" cy="239.0"/><circle cx="103.6" cy="231.7"/><circle cx="99.7" cy="234.2"/><circle cx="96.5" cy="240.1"/><circle cx="119.0" cy="211.2"/><circle cx="70.2" cy="281.8"/><circle cx="87.7" cy="285.3"/><circle cx="96.2" cy="288.5"/><circle cx="100.5" cy="293.0"/><circle cx="104.4" cy="293.8"/><circle cx="103.6" cy="299.3"/><circle cx="117.8" cy="279.1"/><circle cx="123.7" cy="284.7"/><circle cx="128.0" cy="282.2"/><circle cx="133.9" cy="285.6"/><circle cx="139.8" cy="285.6"/><circle cx="142.3" cy="285.6"/><circle cx="149.0" cy="285.6"/><circle cx="163.5" cy="289.8"/><circle cx="165.2" cy="292.3"/><circle cx="88.0" cy="240.0"/><circle cx="93.0" cy="237.0"/></g>
<g class="c2"><circle cx="53.5" cy="217.8"/><circle cx="55.9" cy="219.0"/><circle cx="55.9" cy="224.2"/><circle cx="51.1" cy="232.6"/><circle cx="47.1" cy="237.7"/><circle cx="49.5" cy="240.9"/><circle cx="44.8" cy="240.9"/><circle cx="42.4" cy="237.7"/><circle cx="112.2" cy="207.8"/><circle cx="96.5" cy="271.5"/><circle cx="64.7" cy="283.1"/><circle cx="106.0" cy="283.1"/><circle cx="106.0" cy="282.2"/><circle cx="126.2" cy="288.1"/><circle cx="133.0" cy="287.6"/><circle cx="160.1" cy="290.6"/><circle cx="164.4" cy="295.0"/><circle cx="189.8" cy="292.3"/></g>
<g class="c11"><circle cx="111.0" cy="201.0"/><circle cx="25.7" cy="229.0"/><circle cx="29.6" cy="225.3"/><circle cx="39.2" cy="222.6"/><circle cx="43.2" cy="224.2"/><circle cx="47.1" cy="221.8"/><circle cx="40.0" cy="228.2"/><circle cx="33.6" cy="231.7"/><circle cx="40.0" cy="232.6"/><circle cx="36.8" cy="237.4"/></g>
<g class="c0"><circle cx="73.4" cy="221.0"/><circle cx="63.9" cy="231.7"/><circle cx="60.7" cy="236.1"/><circle cx="80.3" cy="219.1"/><circle cx="84.1" cy="217.4"/><circle cx="91.4" cy="212.3"/><circle cx="98.0" cy="223.4"/><circle cx="106.0" cy="236.1"/><circle cx="98.9" cy="242.5"/><circle cx="102.8" cy="248.9"/><circle cx="106.0" cy="242.5"/><circle cx="117.8" cy="215.7"/><circle cx="137.3" cy="209.5"/><circle cx="135.9" cy="212.9"/><circle cx="113.5" cy="226.4"/><circle cx="118.3" cy="225.9"/><circle cx="96.5" cy="261.0"/><circle cx="107.6" cy="262.0"/><circle cx="84.5" cy="281.0"/><circle cx="90.4" cy="285.3"/><circle cx="108.5" cy="261.9"/><circle cx="115.2" cy="262.7"/><circle cx="121.2" cy="264.4"/><circle cx="116.0" cy="272.0"/><circle cx="120.3" cy="277.1"/><circle cx="113.5" cy="277.1"/><circle cx="124.6" cy="279.6"/><circle cx="133.0" cy="278.8"/><circle cx="139.8" cy="277.1"/><circle cx="146.6" cy="281.3"/><circle cx="150.8" cy="282.2"/><circle cx="110.2" cy="285.6"/><circle cx="114.4" cy="288.1"/><circle cx="117.0" cy="290.6"/><circle cx="121.2" cy="290.6"/><circle cx="165.2" cy="285.6"/><circle cx="179.6" cy="289.8"/></g>
<g class="c3"><circle cx="86.9" cy="239.1"/><circle cx="86.4" cy="234.0"/><circle cx="98.3" cy="232.0"/><circle cx="83.2" cy="239.6"/><circle cx="102.7" cy="232.9"/><circle cx="84.2" cy="234.0"/><circle cx="76.4" cy="233.1"/><circle cx="96.6" cy="229.8"/><circle cx="85.7" cy="231.7"/><circle cx="89.2" cy="241.5"/><circle cx="73.0" cy="235.7"/><circle cx="75.6" cy="238.9"/><circle cx="92.7" cy="230.4"/><circle cx="77.1" cy="232.1"/><circle cx="99.6" cy="241.8"/><circle cx="82.8" cy="235.1"/><circle cx="76.0" cy="235.2"/><circle cx="82.8" cy="229.9"/><circle cx="98.6" cy="232.0"/><circle cx="86.1" cy="227.0"/><circle cx="93.2" cy="236.3"/><circle cx="97.0" cy="240.4"/><circle cx="95.0" cy="231.3"/><circle cx="77.8" cy="238.0"/><circle cx="94.2" cy="235.9"/><circle cx="81.6" cy="227.5"/><circle cx="88.4" cy="241.5"/><circle cx="73.1" cy="228.0"/><circle cx="93.0" cy="235.4"/><circle cx="96.7" cy="234.2"/></g>
<g class="c2"><circle cx="87.1" cy="239.5"/><circle cx="92.9" cy="238.3"/><circle cx="98.0" cy="241.9"/><circle cx="98.0" cy="235.5"/><circle cx="91.1" cy="239.6"/><circle cx="97.9" cy="238.3"/><circle cx="92.2" cy="242.4"/><circle cx="96.3" cy="240.7"/><circle cx="87.3" cy="234.3"/><circle cx="94.0" cy="235.1"/><circle cx="83.8" cy="239.6"/><circle cx="90.0" cy="238.5"/><circle cx="85.6" cy="233.3"/><circle cx="81.2" cy="234.1"/><circle cx="88.8" cy="234.3"/><circle cx="90.2" cy="234.3"/><circle cx="96.2" cy="244.3"/><circle cx="87.1" cy="233.0"/><circle cx="87.5" cy="261.0"/><circle cx="83.1" cy="269.1"/><circle cx="80.8" cy="270.7"/><circle cx="76.1" cy="268.6"/><circle cx="86.7" cy="270.8"/><circle cx="85.9" cy="265.2"/><circle cx="81.2" cy="270.2"/><circle cx="79.3" cy="263.1"/><circle cx="74.4" cy="262.4"/><circle cx="76.0" cy="271.2"/></g>
<g class="c11"><circle cx="18.2" cy="301.9"/><circle cx="20.1" cy="300.1"/><circle cx="39.3" cy="303.8"/><circle cx="40.1" cy="299.6"/><circle cx="9.6" cy="317.2"/><circle cx="10.5" cy="314.1"/><circle cx="27.6" cy="299.9"/><circle cx="35.5" cy="304.0"/><circle cx="20.4" cy="311.4"/><circle cx="32.0" cy="310.3"/><circle cx="33.1" cy="297.4"/><circle cx="36.0" cy="303.6"/><circle cx="22.1" cy="297.1"/><circle cx="22.1" cy="309.0"/><circle cx="29.9" cy="311.2"/><circle cx="35.1" cy="295.5"/><circle cx="29.2" cy="300.6"/><circle cx="38.9" cy="299.8"/><circle cx="24.0" cy="306.1"/><circle cx="39.0" cy="300.5"/><circle cx="15.3" cy="310.2"/><circle cx="11.9" cy="310.0"/><circle cx="19.5" cy="302.8"/><circle cx="32.7" cy="304.5"/><circle cx="10.6" cy="317.2"/></g>
<g class="c12"><circle cx="41.8" cy="291.1"/><circle cx="52.2" cy="292.5"/><circle cx="53.8" cy="301.4"/><circle cx="43.8" cy="305.4"/><circle cx="58.0" cy="300.8"/><circle cx="57.7" cy="303.4"/><circle cx="49.0" cy="303.8"/><circle cx="57.0" cy="301.5"/><circle cx="42.4" cy="295.7"/><circle cx="53.0" cy="295.6"/><circle cx="43.8" cy="297.2"/><circle cx="43.4" cy="297.5"/><circle cx="42.7" cy="302.1"/><circle cx="44.6" cy="305.8"/><circle cx="42.8" cy="300.4"/></g>
<g class="c3"><circle cx="75.8" cy="296.4"/><circle cx="75.4" cy="300.6"/><circle cx="75.2" cy="296.2"/><circle cx="72.0" cy="304.0"/><circle cx="75.2" cy="296.9"/><circle cx="68.7" cy="304.6"/><circle cx="62.2" cy="299.7"/><circle cx="72.8" cy="299.2"/><circle cx="61.1" cy="295.3"/><circle cx="80.4" cy="299.5"/><circle cx="67.7" cy="299.4"/><circle cx="62.2" cy="295.0"/><circle cx="80.1" cy="303.1"/><circle cx="65.5" cy="297.8"/><circle cx="62.8" cy="297.8"/><circle cx="73.0" cy="303.0"/><circle cx="72.6" cy="304.2"/><circle cx="84.0" cy="300.8"/></g>
<g class="c2"><circle cx="84.7" cy="298.7"/><circle cx="94.8" cy="298.7"/><circle cx="98.4" cy="297.7"/><circle cx="84.9" cy="309.9"/><circle cx="90.5" cy="304.2"/><circle cx="93.5" cy="298.5"/><circle cx="89.4" cy="301.8"/><circle cx="95.8" cy="307.2"/><circle cx="95.1" cy="299.4"/><circle cx="91.4" cy="308.9"/></g>
<g class="c1"><circle cx="102.4" cy="296.2"/><circle cx="108.6" cy="303.9"/><circle cx="100.4" cy="300.3"/><circle cx="106.5" cy="298.3"/><circle cx="111.8" cy="293.2"/><circle cx="108.4" cy="295.8"/><circle cx="110.6" cy="300.6"/><circle cx="105.8" cy="293.8"/><circle cx="110.7" cy="300.4"/><circle cx="107.9" cy="300.9"/><circle cx="113.3" cy="294.9"/><circle cx="109.7" cy="301.7"/></g>
<g class="c0"><circle cx="108.0" cy="255.0"/><circle cx="129.1" cy="251.2"/><circle cx="111.6" cy="241.2"/><circle cx="119.0" cy="252.0"/><circle cx="113.2" cy="254.9"/><circle cx="106.4" cy="243.1"/><circle cx="118.4" cy="246.2"/><circle cx="112.5" cy="251.7"/><circle cx="117.6" cy="248.2"/><circle cx="127.9" cy="231.2"/><circle cx="119.3" cy="238.7"/><circle cx="121.9" cy="254.0"/><circle cx="131.8" cy="239.4"/><circle cx="108.5" cy="237.2"/><circle cx="116.8" cy="253.2"/><circle cx="121.8" cy="245.4"/><circle cx="112.8" cy="238.8"/><circle cx="112.8" cy="249.2"/><circle cx="114.1" cy="249.1"/><circle cx="105.6" cy="252.2"/><circle cx="112.8" cy="234.0"/><circle cx="119.4" cy="228.7"/><circle cx="129.0" cy="250.3"/><circle cx="107.7" cy="239.5"/><circle cx="113.2" cy="249.0"/><circle cx="108.7" cy="238.0"/><circle cx="116.1" cy="234.4"/><circle cx="113.6" cy="250.2"/><circle cx="110.9" cy="244.7"/><circle cx="106.9" cy="239.0"/><circle cx="118.0" cy="238.3"/><circle cx="102.2" cy="244.2"/><circle cx="117.5" cy="239.7"/><circle cx="120.3" cy="254.4"/><circle cx="119.4" cy="250.4"/><circle cx="112.2" cy="237.0"/><circle cx="122.5" cy="244.6"/><circle cx="130.1" cy="232.0"/><circle cx="110.7" cy="248.4"/><circle cx="129.8" cy="241.5"/><circle cx="125.8" cy="230.4"/><circle cx="120.7" cy="237.2"/><circle cx="122.6" cy="236.2"/><circle cx="123.6" cy="249.1"/><circle cx="130.0" cy="239.8"/><circle cx="101.2" cy="252.1"/><circle cx="107.7" cy="249.3"/><circle cx="115.6" cy="240.8"/><circle cx="124.4" cy="241.3"/><circle cx="129.0" cy="252.0"/><circle cx="128.6" cy="231.6"/><circle cx="118.7" cy="235.4"/><circle cx="112.0" cy="241.4"/><circle cx="108.8" cy="232.3"/><circle cx="121.7" cy="246.4"/><circle cx="108.6" cy="238.3"/><circle cx="115.7" cy="255.0"/><circle cx="102.4" cy="244.8"/><circle cx="120.2" cy="235.0"/><circle cx="111.1" cy="240.8"/><circle cx="129.2" cy="251.1"/><circle cx="111.2" cy="252.3"/></g>
<g class="c13"><circle cx="129.3" cy="238.7"/><circle cx="134.6" cy="228.2"/><circle cx="134.8" cy="247.6"/><circle cx="120.9" cy="239.5"/><circle cx="140.3" cy="234.9"/><circle cx="131.8" cy="237.4"/><circle cx="132.4" cy="238.7"/><circle cx="126.9" cy="254.7"/><circle cx="126.7" cy="241.0"/><circle cx="127.5" cy="253.0"/><circle cx="127.5" cy="247.4"/><circle cx="122.6" cy="243.3"/><circle cx="125.0" cy="254.4"/><circle cx="127.5" cy="255.6"/><circle cx="132.7" cy="237.2"/><circle cx="132.3" cy="254.9"/><circle cx="136.0" cy="251.7"/><circle cx="132.7" cy="245.6"/><circle cx="121.6" cy="252.0"/><circle cx="134.6" cy="246.5"/><circle cx="125.9" cy="249.9"/><circle cx="131.7" cy="236.6"/><circle cx="143.8" cy="250.2"/><circle cx="135.6" cy="252.2"/><circle cx="136.1" cy="238.5"/><circle cx="135.5" cy="240.0"/><circle cx="131.0" cy="228.4"/><circle cx="141.1" cy="251.9"/><circle cx="133.5" cy="241.0"/><circle cx="128.4" cy="234.5"/><circle cx="133.8" cy="237.6"/><circle cx="133.8" cy="253.9"/><circle cx="128.7" cy="230.4"/><circle cx="118.3" cy="252.1"/><circle cx="130.2" cy="240.2"/><circle cx="118.8" cy="230.1"/><circle cx="119.2" cy="236.7"/><circle cx="130.3" cy="244.2"/><circle cx="123.8" cy="246.4"/><circle cx="120.4" cy="235.9"/><circle cx="120.7" cy="235.7"/><circle cx="139.0" cy="235.3"/><circle cx="137.4" cy="251.4"/><circle cx="133.3" cy="252.5"/><circle cx="134.4" cy="245.1"/></g>
<g class="c14"><circle cx="136.1" cy="249.9"/><circle cx="138.1" cy="239.1"/><circle cx="137.4" cy="241.8"/><circle cx="143.9" cy="246.0"/><circle cx="142.6" cy="234.0"/><circle cx="137.6" cy="246.7"/><circle cx="138.1" cy="238.6"/><circle cx="138.0" cy="247.6"/><circle cx="135.2" cy="247.1"/><circle cx="141.3" cy="240.4"/><circle cx="136.9" cy="247.4"/><circle cx="130.8" cy="233.8"/><circle cx="139.2" cy="236.5"/><circle cx="136.4" cy="235.6"/><circle cx="141.8" cy="248.0"/><circle cx="141.0" cy="234.1"/><circle cx="143.5" cy="246.1"/><circle cx="143.7" cy="242.7"/><circle cx="141.4" cy="246.3"/><circle cx="140.0" cy="242.8"/><circle cx="136.6" cy="252.1"/><circle cx="135.2" cy="234.2"/><circle cx="136.3" cy="234.6"/><circle cx="137.4" cy="242.3"/></g>
<g class="c10"><circle cx="132.0" cy="231.0"/><circle cx="135.0" cy="231.5"/><circle cx="137.5" cy="232.5"/><circle cx="140.0" cy="235.0"/><circle cx="142.5" cy="237.5"/><circle cx="144.0" cy="240.0"/><circle cx="138.0" cy="241.0"/><circle cx="140.5" cy="242.0"/><circle cx="142.5" cy="242.6"/><circle cx="145.4" cy="243.2"/><circle cx="148.0" cy="243.0"/><circle cx="150.7" cy="242.6"/><circle cx="146.0" cy="241.0"/><circle cx="150.0" cy="247.0"/><circle cx="148.0" cy="249.0"/><circle cx="146.0" cy="250.5"/><circle cx="144.0" cy="252.0"/><circle cx="141.6" cy="254.5"/><circle cx="139.0" cy="255.5"/><circle cx="136.0" cy="254.0"/><circle cx="138.0" cy="257.0"/><circle cx="137.6" cy="260.0"/><circle cx="140.0" cy="262.0"/><circle cx="141.2" cy="258.0"/><circle cx="143.0" cy="256.0"/><circle cx="135.5" cy="259.0"/><circle cx="137.5" cy="266.5"/><circle cx="138.5" cy="268.5"/><circle cx="140.8" cy="270.3"/><circle cx="147.2" cy="274.8"/><circle cx="149.8" cy="274.8"/><circle cx="152.8" cy="275.0"/><circle cx="155.5" cy="275.0"/><circle cx="144.5" cy="274.0"/></g>
<g class="c14"><circle cx="126.2" cy="273.7"/><circle cx="130.0" cy="271.8"/><circle cx="132.5" cy="271.0"/><circle cx="134.6" cy="272.3"/><circle cx="128.5" cy="275.5"/></g>
<g class="c10"><circle cx="135.2" cy="206.1"/><circle cx="131.3" cy="219.3"/></g>
<g class="c14"><circle cx="125.7" cy="223.0"/></g>
<g class="c10"><circle cx="191.5" cy="287.3"/><circle cx="187.8" cy="288.8"/><circle cx="186.7" cy="283.3"/><circle cx="203.4" cy="282.9"/><circle cx="200.6" cy="283.2"/><circle cx="192.0" cy="284.8"/><circle cx="187.7" cy="287.6"/><circle cx="206.4" cy="288.4"/><circle cx="185.3" cy="281.2"/><circle cx="192.9" cy="286.9"/><circle cx="195.8" cy="288.7"/><circle cx="207.7" cy="286.5"/><circle cx="188.1" cy="284.2"/><circle cx="182.8" cy="284.2"/><circle cx="201.3" cy="283.5"/><circle cx="186.0" cy="285.3"/><circle cx="205.2" cy="286.2"/><circle cx="184.0" cy="284.5"/><circle cx="187.2" cy="287.5"/><circle cx="192.3" cy="284.5"/></g>
<g class="c14"><circle cx="194.4" cy="282.7"/><circle cx="188.8" cy="288.8"/><circle cx="187.0" cy="284.9"/><circle cx="191.4" cy="283.0"/><circle cx="191.2" cy="283.8"/><circle cx="193.8" cy="285.0"/></g>
<g class="c12"><circle cx="177.6" cy="248.3"/><circle cx="176.5" cy="242.5"/><circle cx="155.6" cy="241.6"/><circle cx="179.2" cy="246.8"/><circle cx="168.2" cy="252.5"/><circle cx="152.5" cy="234.0"/><circle cx="183.0" cy="246.3"/><circle cx="186.7" cy="257.5"/><circle cx="165.5" cy="241.0"/><circle cx="166.5" cy="254.6"/><circle cx="167.5" cy="253.0"/><circle cx="187.7" cy="254.0"/><circle cx="169.5" cy="253.7"/><circle cx="168.8" cy="248.6"/><circle cx="187.5" cy="248.2"/><circle cx="171.2" cy="233.3"/><circle cx="171.5" cy="259.7"/><circle cx="159.2" cy="254.8"/><circle cx="159.7" cy="252.8"/><circle cx="160.7" cy="249.1"/><circle cx="181.9" cy="246.8"/><circle cx="159.3" cy="239.8"/><circle cx="171.1" cy="253.7"/><circle cx="156.8" cy="232.2"/><circle cx="158.8" cy="250.3"/><circle cx="165.3" cy="254.4"/><circle cx="177.6" cy="241.8"/><circle cx="172.4" cy="234.7"/><circle cx="173.2" cy="250.7"/><circle cx="159.0" cy="251.3"/></g>
<g class="c5"><circle cx="175.3" cy="262.9"/><circle cx="178.7" cy="243.8"/><circle cx="180.5" cy="254.6"/><circle cx="170.6" cy="256.7"/><circle cx="181.3" cy="256.4"/><circle cx="185.5" cy="249.7"/><circle cx="185.9" cy="264.8"/><circle cx="169.6" cy="243.2"/><circle cx="166.8" cy="251.2"/><circle cx="164.0" cy="244.4"/><circle cx="177.1" cy="249.0"/><circle cx="179.9" cy="245.0"/><circle cx="173.4" cy="243.7"/><circle cx="170.3" cy="246.0"/><circle cx="186.2" cy="248.0"/><circle cx="175.2" cy="241.8"/><circle cx="171.5" cy="261.6"/><circle cx="183.1" cy="260.1"/><circle cx="185.6" cy="244.2"/><circle cx="161.5" cy="241.5"/><circle cx="178.2" cy="252.7"/><circle cx="170.3" cy="257.2"/><circle cx="166.2" cy="254.4"/><circle cx="171.7" cy="241.8"/><circle cx="181.7" cy="243.0"/><circle cx="182.4" cy="258.6"/><circle cx="172.2" cy="250.2"/><circle cx="165.7" cy="241.8"/><circle cx="179.5" cy="248.0"/><circle cx="175.8" cy="247.9"/><circle cx="167.5" cy="242.4"/><circle cx="181.3" cy="249.7"/><circle cx="164.3" cy="244.2"/><circle cx="185.9" cy="257.0"/><circle cx="183.3" cy="249.4"/><circle cx="196.5" cy="255.0"/><circle cx="197.0" cy="260.0"/><circle cx="198.0" cy="265.0"/><circle cx="200.0" cy="270.0"/><circle cx="206.7" cy="275.4"/><circle cx="207.5" cy="280.0"/><circle cx="199.0" cy="258.0"/><circle cx="195.0" cy="268.0"/></g>
<g class="c12"><circle cx="163.0" cy="261.6"/><circle cx="157.4" cy="274.8"/><circle cx="158.1" cy="275.3"/><circle cx="175.7" cy="275.7"/><circle cx="153.5" cy="267.2"/><circle cx="175.7" cy="265.3"/><circle cx="166.1" cy="269.4"/><circle cx="155.8" cy="264.4"/><circle cx="169.3" cy="262.9"/><circle cx="174.2" cy="274.8"/><circle cx="162.4" cy="262.2"/><circle cx="167.3" cy="265.0"/><circle cx="152.4" cy="272.1"/><circle cx="166.9" cy="264.6"/><circle cx="156.9" cy="272.3"/><circle cx="178.3" cy="266.0"/><circle cx="167.7" cy="263.8"/><circle cx="163.9" cy="269.9"/><circle cx="158.8" cy="270.3"/><circle cx="152.8" cy="267.0"/></g>
<g class="c6"><circle cx="163.0" cy="224.0"/><circle cx="175.0" cy="225.8"/><circle cx="182.9" cy="225.4"/><circle cx="182.6" cy="232.5"/><circle cx="175.0" cy="230.2"/><circle cx="173.9" cy="221.6"/><circle cx="163.3" cy="222.6"/><circle cx="178.3" cy="229.5"/><circle cx="183.1" cy="223.4"/><circle cx="184.5" cy="220.2"/><circle cx="173.6" cy="229.0"/><circle cx="178.5" cy="216.2"/><circle cx="182.0" cy="224.5"/><circle cx="162.7" cy="223.5"/><circle cx="179.9" cy="216.9"/><circle cx="163.0" cy="225.1"/><circle cx="177.3" cy="225.2"/><circle cx="183.9" cy="216.4"/><circle cx="168.5" cy="220.7"/><circle cx="169.7" cy="231.4"/><circle cx="166.7" cy="227.2"/><circle cx="174.3" cy="218.3"/><circle cx="183.6" cy="217.6"/><circle cx="167.1" cy="216.2"/><circle cx="177.9" cy="227.2"/></g>
<g class="c7"><circle cx="190.4" cy="220.4"/><circle cx="193.1" cy="226.8"/><circle cx="192.6" cy="236.0"/><circle cx="186.0" cy="218.3"/><circle cx="195.8" cy="242.2"/><circle cx="187.0" cy="223.5"/><circle cx="191.1" cy="241.2"/><circle cx="187.1" cy="243.3"/><circle cx="186.7" cy="234.5"/><circle cx="197.7" cy="237.9"/><circle cx="197.0" cy="227.2"/><circle cx="197.5" cy="243.2"/></g>
<path d="M277.0 238.0L300.0 230.0L345.0 222.0L385.0 245.0L395.0 262.0L380.0 275.0L350.0 288.0L320.0 282.0L285.0 275.0L270.0 258.0Z" fill="#e0e0e0" fill-opacity="0.9" filter="url(#b2)"/>
<path d="M322 230L361 275M317 250L329 242M384 262L319 272M352 273L372 266M331 224L352 265M303 236L280 266M344 273L297 276M326 256L329 242M316 263L297 276M277 238L344 256M367 257L322 230M371 261L352 273M370 288L354 281M350 257L369 241M329 242L384 262M364 270L350 257M323 283L374 259M344 256L303 236M315 273L336 277M331 234L393 268M350 257L385 284M336 277L375 255M377 263L377 256M319 272L374 291M374 291L368 240M372 266L277 238M329 242L371 261M374 291L344 256M379 249L323 225M336 256L322 230M269 272L304 265M357 278L380 258M319 272L364 255M379 249L352 265M329 242L352 273M393 268L365 264M372 266L365 281M303 236L323 225M274 258L352 265M316 263L377 263M368 265L365 264M277 238L336 277M336 256L367 257M344 256L377 263M352 273L379 250M377 263L336 277M297 276L325 273M377 256L372 266M352 273L331 234M287 243L274 258M354 281L377 263M325 273L377 263M331 224L349 283M371 261L375 256M316 263L334 262M274 258L368 240M304 265L323 283M389 264L329 242M269 272L352 265M380 258L382 279M360 258L342 239M349 226L393 268M382 279L376 256M336 256L369 241M385 284L377 263M342 239L369 241M344 256L274 258M374 259L360 258M367 257L364 270M331 234L360 258M317 250L379 250M347 248L305 245M308 255L375 255M392 258L276 261M374 291L336 277M377 263L274 258M376 256L287 237M336 256L365 264M308 255L270 289M280 266L320 259M331 224L303 236M304 265L389 264M379 250L352 265M352 265L321 250M287 237L325 273M319 272L382 279M365 281L368 265M354 281L361 234M320 259L287 243M387 262L364 270M326 256L368 240M374 259L274 258M314 253L280 266M393 268L360 258M364 255L276 261M308 255L314 253M344 248L367 249M350 257L385 284M387 262L375 256M382 279L394 255M342 239L361 234M308 255L317 250M361 275L331 224M375 255L367 249M277 238L377 263M349 226L378 266M377 263L350 257M392 258L380 258M379 249L349 283M392 258L384 262M342 239L374 259M387 262L378 266M364 270L287 237M392 258L349 226M385 284L269 272M379 266L337 281M379 266L316 263M344 256L380 258M287 237L331 224M384 262L331 224M304 265L308 255M392 258L347 248M376 256L357 278M317 250L375 255M393 268L361 275M320 259L304 265M282 255L392 258M370 288L344 273M325 273L314 253M287 243L379 250M336 277L315 273M305 245L376 256M376 256L379 250M365 281L369 241M367 257L341 276M354 281L379 266M269 272L387 267M371 261L342 239M269 272L375 255M361 234L376 246M367 249L379 266M376 246L280 266M375 255L350 257M394 255L393 268M287 243L368 240M320 259L342 239M352 273L282 255M280 266L347 248M374 259L347 248M352 273L379 249M379 266L375 255M337 281L315 273M322 230L349 283M367 257L380 258M282 255L371 261M375 255L304 265M364 270L277 238M282 255L372 266M314 253L349 283M341 276L344 273M372 266L367 257M379 250L323 225M336 277L269 272M378 253L344 256M276 261L376 256M389 261L354 281M322 230L315 273M352 265L376 256M277 238L317 250M331 234L303 236M361 234L365 281M316 263L389 264M354 281L375 256M361 234L349 226M269 272L396 281M384 262L287 237M329 242L371 261M387 262L319 272M357 278L370 288M331 234L352 265M389 261L368 240M375 255L304 265M354 281L349 226M364 270L368 240M337 281L277 238M308 255L372 266M304 265L380 258M290 277L369 241M375 255L280 266M364 270L368 240M305 245L308 255M321 250L364 255M287 243L282 255M392 258L367 257M387 262L325 273M378 253L336 277M374 259L344 273M331 224L379 266M352 265L325 273M336 256L370 288M342 239L315 273M352 273L317 250M357 278L369 241M270 289L280 266M270 289L319 272M287 243L323 283M323 225L352 273M319 272L331 224M361 275L393 268M314 253L303 236M282 255L326 256M282 255L280 266M379 266L316 263M337 281L336 256M376 256L303 236M368 265L375 255M364 270L376 246M331 224L396 281M367 257L378 266M394 255L354 281M276 261L344 248M304 265L276 261M377 256L331 234M321 250L374 291M378 253L367 257M377 256L375 255M389 261L274 258M371 261L375 256M316 263L323 283M384 262L367 249M392 258L305 245M376 256L360 258M367 249L361 234M336 277L334 262M361 275L389 261M375 255L274 258M375 255L336 277M378 253L370 288M349 283L387 267M290 277L280 266M375 255L342 239M396 281L280 266M389 264L394 255M365 264L274 258M334 262L349 283M352 273L379 250M308 255L370 288M321 250L269 272M347 248L394 255M326 256L320 259M364 255L365 281M287 237L364 255M316 263L385 284M331 224L323 283M376 246L274 258M379 266L336 277M303 236L379 249M380 258L347 248M374 291L357 278M314 253L274 258M378 253L325 273M394 255L352 265M316 263L350 257M336 277L378 253M274 258L336 277M393 268L304 265M344 248L379 250M376 246L287 243M282 255L354 281M365 281L314 253M380 258L393 268M365 281L367 257M392 258L365 264M389 264L349 283M326 256L382 279M374 259L322 230M270 289L378 266M352 265L378 253M360 258L368 265M380 258L280 266M323 225L303 236M317 250L389 261M377 256L369 241M377 256L389 261M277 238L367 249M394 255L336 256M344 256L323 283M297 276L377 263M334 262L377 256M374 291L394 255M380 258L314 253M308 255L344 248M331 234L277 238M336 277L367 249M317 250L360 258M334 262L347 248M376 256L336 277M393 268L387 267M317 250L287 237M375 255L394 255M347 248L378 253M365 281L323 225M334 262L282 255M331 224L367 257M385 284L394 255M347 248L314 253M323 225L336 277M352 265L380 258M282 255L325 273M303 236L385 284M377 263L384 262M290 277L305 245M379 266L303 236M305 245L378 266M325 273L282 255M337 281L349 226M322 230L387 267M352 265L382 279M342 239L270 289M334 262L280 266M344 256L344 273M372 266L379 250M319 272L315 273M287 237L370 288M382 279L317 250M365 264L297 276M314 253L317 250M305 245L379 266M297 276L377 256M364 270L389 264M344 273L349 226M277 238L304 265M379 266L350 257M274 258L378 266M344 248L315 273M379 250L344 273M276 261L347 248M389 264L317 250M308 255L349 283M341 276L349 283M365 264L368 265M270 289L331 234M349 226L382 279M303 236L305 245M329 242L380 258M322 230L376 246M305 245L392 258M349 226L379 250M379 266L379 249M392 258L396 281M361 275L308 255M287 237L369 241M376 256L352 273M354 281L269 272M304 265L387 262M315 273L375 255M365 281L396 281M387 262L314 253M282 255L392 258M305 245L375 255M331 224L382 279M376 246L377 256M365 281L352 265M377 256L392 258M316 263L319 272M367 257L280 266M387 262L379 266M329 242L393 268M323 225L387 262M379 249L269 272M387 267L372 266M315 273L322 230M375 255L378 266M349 226L331 234M382 279L387 267M290 277L375 256M372 266L326 256M344 248L379 250M269 272L349 283M336 277L378 266M308 255L344 273M347 248L325 273M360 258L341 276M323 283L375 255M357 278L336 256M368 240L342 239M369 241L337 281M378 266L319 272M304 265L375 255M352 265L377 256M380 258L325 273M325 273L389 261M389 261L378 266M376 256L336 256M316 263L387 262M374 259L384 262M380 258L297 276M371 261L303 236M304 265L317 250M387 262L325 273M274 258L392 258M375 255L379 250M369 241L376 246M308 255L367 257M308 255L315 273M369 241L287 237M379 250L314 253M277 238L368 265M277 238L287 243M303 236L354 281M315 273L308 255M375 256L322 230M314 253L368 240M317 250L352 265M282 255L337 281M352 265L344 256M393 268L379 249M326 256L375 256M314 253L270 289M323 225L303 236M370 288L354 281M393 268L337 281M367 249L344 256M396 281L375 255M344 256L303 236M378 266L287 237M276 261L323 225M364 255L326 256M375 255L361 275M369 241L354 281M369 241L377 263M344 248L276 261M369 241L380 258M385 284L361 234M379 249L389 264M387 267L326 256M314 253L377 263M393 268L368 265M364 255L280 266M370 288L347 248M369 241L379 250M374 259L305 245M361 275L392 258M389 264L319 272M287 237L375 255M380 258L270 289M290 277L334 262M371 261L372 266M387 262L385 284M374 291L367 249M370 288L322 230M394 255L387 267M315 273L321 250M305 245L365 264M342 239L344 256M394 255L380 258M378 266L314 253M380 258L376 256M375 255L365 264M277 238L376 246M305 245L367 249M287 237L365 264M349 283L375 255M315 273L323 283M375 255L368 240M374 291L380 258M380 258L334 262M352 273L341 276M290 277L365 264M349 283L344 248M387 267L316 263M329 242L357 278M382 279L331 224M282 255L277 238M368 265L277 238M274 258L389 264M297 276L290 277M341 276L297 276M376 256L380 258M379 266L393 268M375 255L331 234M377 263L389 264M375 255L360 258M287 237L329 242M389 264L372 266M365 264L336 256M308 255L377 256M396 281L282 255M316 263L352 273M344 273L389 261M350 257L320 259M304 265L375 255M276 261L378 253M315 273L280 266M334 262L305 245M341 276L361 234M319 272L344 256M376 246L344 256M352 265L290 277M344 273L376 256" stroke="#bdbdbd" stroke-width="0.45" stroke-opacity="0.12" fill="none"/>
<path d="M277 238L287 237M342 294L287 237M277 238L287 243M342 294L287 243M277 238L303 236M342 294L303 236M277 238L323 225M342 294L323 225M277 238L331 224M342 294L331 224M277 238L322 230M342 294L322 230M277 238L331 234M342 294L331 234M277 238L349 226M342 294L349 226M277 238L344 248M342 294L344 248M277 238L347 248M342 294L347 248M277 238L361 234M342 294L361 234M277 238L368 240M342 294L368 240M277 238L379 249M342 294L379 249M277 238L364 255M342 294L364 255M277 238L365 281M342 294L365 281M277 238L384 262M342 294L384 262M277 238L387 262M342 294L387 262M277 238L393 268M342 294L393 268M277 238L379 266M342 294L379 266M277 238L387 267M342 294L387 267M277 238L371 261M342 294L371 261M277 238L374 259M342 294L374 259M277 238L377 256M342 294L377 256M277 238L380 258M342 294L380 258M277 238L270 289M342 294L270 289M277 238L274 258M342 294L274 258M277 238L276 261M342 294L276 261M277 238L280 266M342 294L280 266M277 238L282 255M342 294L282 255M277 238L305 245M342 294L305 245M277 238L342 239M342 294L342 239M277 238L304 265M342 294L304 265M277 238L323 283M342 294L323 283M277 238L369 241M342 294L369 241M277 238L360 258M342 294L360 258M277 238L367 257M342 294L367 257M277 238L368 265M342 294L368 265M277 238L364 270M342 294L364 270M277 238L357 278M342 294L357 278M277 238L277 238M342 294L277 238M277 238L378 253M342 294L378 253M277 238L375 255M342 294L375 255M277 238L365 264M342 294L365 264M277 238L376 256M342 294L376 256M277 238L372 266M342 294L372 266M277 238L379 250M342 294L379 250M277 238L375 255M342 294L375 255M277 238L394 255M342 294L394 255M277 238L375 256M342 294L375 256M277 238L392 258M342 294L392 258M277 238L389 264M342 294L389 264M277 238L377 263M342 294L377 263M277 238L389 261M342 294L389 261M277 238L378 266M342 294L378 266M277 238L329 242M342 294L329 242M277 238L317 250M342 294L317 250M277 238L314 253M342 294L314 253M277 238L321 250M342 294L321 250M277 238L326 256M342 294L326 256M277 238L320 259M342 294L320 259M277 238L316 263M342 294L316 263M277 238L290 277M342 294L290 277M277 238L297 276M342 294L297 276M277 238L319 272M342 294L319 272M277 238L325 273M342 294L325 273M277 238L315 273M342 294L315 273M277 238L336 256M342 294L336 256M277 238L344 256M342 294L344 256M277 238L350 257M342 294L350 257M277 238L352 265M342 294L352 265M277 238L352 273M342 294L352 273M277 238L344 273M342 294L344 273M277 238L341 276M342 294L341 276M277 238L336 277M342 294L336 277M277 238L337 281M342 294L337 281M277 238L349 283M342 294L349 283M277 238L354 281M342 294L354 281M277 238L367 249M342 294L367 249M277 238L376 246M342 294L376 246M277 238L361 275M342 294L361 275M277 238L334 262M342 294L334 262M277 238L308 255M342 294L308 255M277 238L269 272M342 294L269 272M277 238L382 279M342 294L382 279M277 238L396 281M342 294L396 281M277 238L370 288M342 294L370 288M277 238L385 284M342 294L385 284M277 238L374 291M342 294L374 291" stroke="#bdbdbd" stroke-width="0.5" stroke-opacity="0.35" fill="none"/>
<path d="M342 294L315 273M257 275L290 277M342 294L396 281M257 283L270 289M366 302L379 249M342 294L336 256M342 294L372 266M366 302L370 288M432 246L379 250M349 300L360 258M342 294L387 267M268 251L308 255M342 294L360 258M342 294L372 266M262 292L269 272M349 300L360 258M342 294L387 267M260 258L305 245M257 275L297 276M349 300L367 257M366 302L374 291M366 302L376 246M245 288L270 289M349 300L375 255M342 294L347 248M349 300L389 264M227 274L276 261M342 294L350 257M366 302L387 262M354 197L376 246M366 302L341 276M366 302L361 275M342 294L319 272M227 274L274 258M432 246L379 250M349 300L321 250M227 274L269 272M342 294L336 256M268 251L303 236M366 302L374 291M342 294L385 284M432 246L375 255M432 246L393 268M245 288L297 276M342 294L372 266M342 294L308 255M342 294L382 279M349 300L382 279M349 300L364 255M262 292L282 255M349 300L379 266M342 294L349 283M349 300L304 265M260 258L287 237M366 302L344 273M245 288L297 276M257 275L282 255M432 246L376 256M268 251L305 245M257 275L277 238" stroke="#bdbdbd" stroke-width="0.45" stroke-opacity="0.3" fill="none"/>
<path d="M353 197L301 236M227 274L277 238M245 288L277 238M262 292L277 238M432 246L385 255M432 246L370 241M432 246L380 258M349 300L340 270M343 294L316 263" stroke="#c8c8c8" stroke-width="0.5" stroke-opacity="0.6" fill="none"/>
<g class="c0"><circle cx="353.5" cy="197.3"/><circle cx="226.8" cy="273.9"/><circle cx="244.8" cy="288.5"/><circle cx="261.6" cy="292.3"/><circle cx="256.8" cy="282.8"/><circle cx="286.9" cy="236.9"/><circle cx="286.9" cy="243.2"/><circle cx="302.8" cy="236.2"/><circle cx="322.7" cy="225.1"/><circle cx="331.3" cy="223.6"/><circle cx="321.8" cy="230.5"/><circle cx="331.3" cy="233.7"/><circle cx="349.3" cy="225.8"/><circle cx="344.0" cy="248.0"/><circle cx="347.1" cy="248.0"/><circle cx="342.4" cy="293.9"/><circle cx="348.7" cy="299.6"/><circle cx="361.4" cy="234.3"/><circle cx="367.7" cy="240.0"/><circle cx="378.8" cy="248.9"/><circle cx="364.5" cy="255.2"/><circle cx="365.2" cy="280.6"/><circle cx="383.5" cy="262.2"/><circle cx="386.7" cy="262.2"/><circle cx="393.0" cy="268.5"/><circle cx="378.8" cy="266.0"/><circle cx="386.7" cy="267.0"/><circle cx="370.9" cy="260.6"/><circle cx="374.0" cy="259.0"/><circle cx="377.2" cy="255.9"/><circle cx="380.4" cy="258.4"/></g>
<g class="c12"><circle cx="269.5" cy="289.1"/><circle cx="256.8" cy="274.9"/><circle cx="260.0" cy="258.4"/><circle cx="274.3" cy="258.4"/><circle cx="275.8" cy="260.6"/><circle cx="279.7" cy="266.0"/><circle cx="282.2" cy="254.9"/><circle cx="305.0" cy="244.8"/><circle cx="342.4" cy="239.0"/><circle cx="304.4" cy="265.4"/><circle cx="322.7" cy="282.8"/><circle cx="369.3" cy="241.0"/><circle cx="359.8" cy="258.4"/><circle cx="367.0" cy="257.4"/><circle cx="367.7" cy="265.4"/><circle cx="363.9" cy="270.1"/><circle cx="356.6" cy="278.0"/><circle cx="431.7" cy="245.7"/><circle cx="277.4" cy="238.4"/></g>
<g class="c11"><circle cx="378.3" cy="252.6"/><circle cx="375.1" cy="254.8"/><circle cx="365.2" cy="263.7"/><circle cx="376.3" cy="256.4"/><circle cx="371.6" cy="265.6"/><circle cx="379.2" cy="249.8"/><circle cx="374.7" cy="255.0"/><circle cx="393.9" cy="255.1"/><circle cx="374.9" cy="255.5"/><circle cx="391.9" cy="258.3"/><circle cx="388.6" cy="264.4"/><circle cx="377.4" cy="262.9"/><circle cx="389.4" cy="260.6"/><circle cx="378.5" cy="265.9"/></g>
<g class="c5"><circle cx="329.1" cy="242.2"/><circle cx="317.0" cy="249.5"/><circle cx="313.9" cy="253.3"/><circle cx="320.8" cy="250.2"/><circle cx="326.5" cy="255.9"/><circle cx="320.2" cy="259.0"/><circle cx="316.4" cy="262.8"/><circle cx="289.5" cy="277.4"/><circle cx="297.4" cy="275.5"/><circle cx="318.6" cy="272.3"/><circle cx="324.9" cy="273.3"/><circle cx="315.4" cy="273.3"/><circle cx="336.0" cy="255.9"/><circle cx="344.0" cy="255.9"/><circle cx="350.3" cy="257.4"/><circle cx="352.5" cy="264.7"/><circle cx="351.9" cy="273.3"/><circle cx="344.0" cy="273.3"/><circle cx="340.8" cy="275.5"/><circle cx="336.0" cy="277.4"/><circle cx="336.7" cy="281.2"/><circle cx="348.7" cy="282.8"/><circle cx="353.5" cy="281.2"/><circle cx="367.0" cy="248.9"/><circle cx="375.6" cy="245.7"/><circle cx="361.4" cy="274.9"/><circle cx="334.0" cy="262.0"/><circle cx="308.0" cy="255.0"/></g>
<g class="c1"><circle cx="268.9" cy="271.7"/><circle cx="382.0" cy="278.7"/><circle cx="396.2" cy="280.6"/><circle cx="370.2" cy="288.5"/></g>
<g class="c2"><circle cx="267.9" cy="251.1"/><circle cx="385.1" cy="283.7"/><circle cx="374.0" cy="291.3"/><circle cx="366.1" cy="301.8"/></g>
<path d="M528.0 222.0L545.0 206.0L590.0 196.0L592.0 204.0L570.0 222.0L545.0 228.0Z" fill="#f0f0f0" fill-opacity="0.9" filter="url(#b2)"/>
<path d="M487.0 228.0L528.0 181.0L568.0 173.0L566.0 180.0L540.0 190.0L500.0 230.0L492.0 232.0Z" fill="#e8e8e8" fill-opacity="0.9" filter="url(#b1)"/>
<path d="M482.0 245.0L494.0 286.0L496.0 302.0L522.0 307.0L531.0 297.0L512.0 272.0L500.0 268.0Z" fill="#ececec" fill-opacity="0.9" filter="url(#b2)"/>
<path d="M497 217L490 230M497 217L510 200M508 202L510 200M540 185L500 219M551 183L555 181M532 186L551 183M548 182L538 185M499 226L532 186M544 183L497 217M491 220L508 202M510 200L551 183M492 225L500 219M529 192L546 186M566 181L552 184M511 204L510 200M545 186L552 184M564 181L540 185M540 185L569 174M499 226L508 202M566 181L511 197M538 185L544 183M543 184L548 182M540 185L536 186M552 184L536 186M558 178L532 186M536 186L511 204M511 204L500 219M536 186L532 186M532 186L544 183M544 183L511 197M497 217L510 200M497 217L536 186M508 202L552 184M499 226L536 186M564 181L545 186M551 183L536 186M569 174L546 186M510 200L551 183M544 183L497 217M529 192L545 186M529 192L558 178M497 217L492 225M555 181L536 186M510 200L545 186M551 183L565 176M510 200L492 225M490 230L511 197M500 219L511 204M555 181L546 186M529 192L566 181M546 186L497 217M548 182L532 186M544 183L564 181M511 197L564 181M543 184L494 218M565 176L548 182M546 186L558 178M499 226L536 186M510 200L564 181M491 220L511 204M490 230L494 218M551 183L532 186M536 186L555 181M511 204L558 178M494 218L499 226M566 181L544 183M546 186L565 176M499 226L536 186M551 183L565 176M544 183L497 217M497 217L491 220M494 228L510 200M560 180L538 185M548 182L555 181M569 174L565 176M546 186L510 200M529 192L500 219M511 197L555 181M494 218L511 204M546 186L532 186M492 225L494 228M565 176L532 186M543 184L552 184M544 183L569 174M497 217L511 204M545 186L536 186M569 174L546 186M565 176L536 186M511 204L511 197M494 218L540 185M536 186L566 181M511 204L491 220M532 186L544 183M555 181L540 185M532 186L555 181M551 183L565 176M508 202L548 182M508 202L555 181M540 185L546 186M511 197L511 204M558 178L551 183M510 200L546 186M558 178L551 183M545 186L510 200M558 178L548 182M555 181L546 186M569 174L538 185M564 181L558 178M558 178L560 180M491 220L494 218M555 181L529 192M566 181L510 200M566 181L511 204M548 182L558 178M497 217L492 225M508 202L494 228M540 185L508 202M499 226L494 228M511 197L558 178M552 184L543 184" stroke="#bdbdbd" stroke-width="0.45" stroke-opacity="0.15" fill="none"/>
<path d="M547 207L535 217M538 226L570 211M564 219L580 209M538 214L528 222M554 225L535 217M547 207L580 202M579 213L548 223M564 219L575 215M561 208L558 210M538 214L575 215M538 226L528 222M569 207L567 220M554 225L581 211M575 215L579 213M567 220L589 202M576 208L580 202M580 209L580 202M569 207L579 213M560 218L569 207M563 223L580 202M528 222L560 218M560 218L540 219M589 202L561 208M579 213L545 215M570 211L554 225M558 210L552 216M551 218L576 208M547 207L580 202M560 218L538 214M552 216L561 208M569 207L567 220M564 210L554 225M548 216L567 220M564 219L560 218M560 218L561 208M528 222L561 208M571 207L575 215M547 207L580 202M564 210L567 220M560 218L580 209M545 215L552 216M569 207L538 226M540 219L551 218M564 219L580 209M563 223L569 207M558 210L547 207M570 211L580 209M535 217L567 220M538 226L528 222M580 209L589 202M589 202L581 211M567 220L581 211M563 223L538 226M564 210L548 223M560 218L564 219M540 219L569 207M551 218L548 216M571 207L589 202M580 209L561 208M571 207L580 202M554 225L580 202M570 211L547 207M540 219L554 225M567 220L571 207M580 209L581 211M548 216L575 215M576 208L571 207M545 215L528 222M548 216L538 214M587 200L564 210M548 223L537 221M538 214L571 207M535 217L560 218M589 202L581 211M580 202L587 200M540 219L537 221M535 217L540 219M564 210L576 208M564 210L589 202M579 213L558 210" stroke="#bdbdbd" stroke-width="0.45" stroke-opacity="0.12" fill="none"/>
<path d="M490 257L508 288M514 298L500 283M497 301L497 285M514 298L497 293M509 282L517 298M503 288L494 288M497 293L490 257M524 294L514 296M498 280L508 280M521 300L505 276M497 293L500 277M500 277L521 300M500 283L497 301M508 280L497 301M503 278L500 283M508 288L514 296M502 274L497 293M494 288L513 292M490 257L511 284M508 288L505 276M508 280L497 293M521 306L513 292M509 282L529 297M511 284L521 300M490 257L505 279M519 294L502 274M500 277L490 257M521 300L506 286M500 283L514 296M521 300L517 298M497 297L524 302M513 292L494 288M521 306L529 297M509 282L524 302M524 294L498 280M497 285L503 288M497 297L505 276M506 286L497 301M519 294L512 279M498 280L524 302M519 294L503 278M497 293L498 298M512 279L514 298M500 283L505 276M524 302L529 297M502 274L505 276M510 290L498 280M497 285L491 260M517 298L529 297M510 290L512 279M509 282L514 298M491 260L505 276M512 279L505 279M498 298L509 282M497 285L508 280M521 306L497 285M494 288L497 293M503 288L497 293M524 294L497 301M529 297L498 298M494 288L505 276M503 288L497 293M512 279L510 290M482 245L503 278M521 306L498 280M512 279L497 301M508 280L521 300M509 282L521 306M506 284L514 298M503 288L497 297M521 306L503 278M491 260L508 288M521 306L511 284M494 288L500 277M497 297L519 294M508 280L511 284M524 302L498 298M494 288L524 302M502 274L503 288M502 274L524 294M497 301L498 298M510 290L498 298M517 298L505 276M524 302L498 298M521 306L502 274M506 286L509 282M497 285L505 279M524 302L503 278M521 300L517 298M500 277L482 245M511 284L513 292M502 274L514 298M511 284L513 292M506 286L509 282M517 298L494 288M514 296L502 274M511 284L500 283M521 300L510 290M513 292L506 286M517 298L524 294M497 301L521 300M513 292L511 284M498 298L510 290M497 293L498 280M503 288L513 292M529 297L521 300M503 278L490 257M514 296L508 280M512 279L511 284M510 290L508 288M517 298L506 286M494 288L506 284M521 300L529 297M514 298L498 298M497 293L506 284M505 279L521 300M511 284L517 298M519 294L498 280M505 276L511 284M505 276L508 280" stroke="#bdbdbd" stroke-width="0.45" stroke-opacity="0.15" fill="none"/>
<g class="c2"><circle cx="529.4" cy="192.0"/><circle cx="511.3" cy="204.1"/><circle cx="500.1" cy="219.1"/></g>
<g class="c10"><circle cx="532.0" cy="185.6"/><circle cx="511.3" cy="197.1"/><circle cx="509.6" cy="200.0"/><circle cx="492.1" cy="225.0"/></g>
<g class="c1"><circle cx="499.1" cy="226.1"/></g>
<g class="c0"><circle cx="507.8" cy="202.4"/><circle cx="493.8" cy="218.1"/><circle cx="497.3" cy="217.0"/><circle cx="491.0" cy="220.5"/><circle cx="493.8" cy="228.5"/></g>
<g class="c14"><circle cx="489.7" cy="230.3"/></g>
<g class="c7"><circle cx="528.2" cy="221.8"/><circle cx="537.5" cy="213.6"/><circle cx="535.0" cy="217.1"/><circle cx="539.9" cy="219.4"/><circle cx="537.3" cy="221.2"/><circle cx="538.5" cy="226.5"/><circle cx="547.4" cy="207.2"/><circle cx="545.1" cy="214.8"/><circle cx="548.0" cy="216.0"/><circle cx="552.1" cy="216.5"/><circle cx="550.6" cy="218.3"/><circle cx="547.8" cy="222.6"/><circle cx="554.5" cy="225.3"/><circle cx="559.7" cy="217.5"/></g>
<g class="c6"><circle cx="558.5" cy="209.5"/><circle cx="560.9" cy="207.8"/><circle cx="564.4" cy="209.5"/><circle cx="563.8" cy="218.9"/><circle cx="566.7" cy="219.8"/><circle cx="562.6" cy="223.0"/><circle cx="569.0" cy="207.2"/><circle cx="571.4" cy="206.6"/><circle cx="570.2" cy="210.7"/><circle cx="576.0" cy="208.4"/><circle cx="579.6" cy="209.0"/><circle cx="580.7" cy="210.7"/><circle cx="574.9" cy="214.8"/><circle cx="579.0" cy="213.0"/><circle cx="579.6" cy="202.0"/><circle cx="587.2" cy="200.2"/><circle cx="588.9" cy="202.3"/></g>
<g class="c12"><circle cx="482.3" cy="245.0"/></g>
<g class="c5"><circle cx="490.2" cy="256.6"/><circle cx="491.3" cy="260.4"/></g>
<g class="c12"><circle cx="498.0" cy="280.0"/><circle cx="497.0" cy="284.6"/><circle cx="500.0" cy="277.0"/><circle cx="503.0" cy="288.0"/><circle cx="506.0" cy="286.0"/><circle cx="500.5" cy="283.0"/><circle cx="511.0" cy="284.0"/><circle cx="512.0" cy="279.0"/><circle cx="508.0" cy="288.0"/><circle cx="510.5" cy="290.5"/><circle cx="513.3" cy="292.4"/><circle cx="514.0" cy="296.0"/><circle cx="514.0" cy="298.5"/></g>
<g class="c5"><circle cx="501.9" cy="274.0"/><circle cx="502.6" cy="278.4"/><circle cx="504.8" cy="279.0"/><circle cx="507.6" cy="280.2"/><circle cx="509.0" cy="282.0"/><circle cx="505.0" cy="276.0"/><circle cx="506.5" cy="283.5"/></g>
<g class="c11"><circle cx="494.0" cy="288.0"/><circle cx="496.6" cy="293.0"/><circle cx="497.0" cy="296.6"/><circle cx="498.0" cy="298.5"/><circle cx="497.4" cy="301.0"/><circle cx="519.4" cy="294.0"/><circle cx="523.6" cy="293.7"/><circle cx="528.8" cy="297.3"/><circle cx="521.4" cy="299.6"/><circle cx="524.0" cy="302.0"/><circle cx="521.0" cy="305.5"/><circle cx="517.0" cy="298.0"/></g>
<path d="M85.0 372.0L128.0 362.0L155.0 366.0L200.0 392.0L200.0 420.0L185.0 460.0L150.0 485.0L120.0 462.0L80.0 440.0L75.0 420.0L90.0 390.0Z" fill="#f3f3f3" fill-opacity="0.8" filter="url(#b3)"/>
<path d="M149 398L123 438M190 438L138 397M138 397L151 385M119 407L89 426M142 405L159 399M147 482L151 385M194 404L190 438M137 379L132 475M143 427L182 447M180 459L148 408M144 482L168 444M148 408L144 395M196 416L139 479M137 379L174 421M128 363L151 459M108 444L165 411M164 438L120 460M141 440L95 448M149 463L138 397M196 416L146 466M120 460L196 416M92 426L152 367M119 407L144 395M132 435L190 438M182 447L132 475M165 399L85 441M170 382L130 387M119 407L83 374M132 435L89 426M86 375L128 409M129 429L193 407M164 438L140 394M152 367L91 438M128 409L128 363M142 405L108 434M148 408L130 387M86 375L193 419M165 399L89 426M130 387L141 485M132 475L164 438M170 382L182 447M137 379L167 457M132 475L144 482M144 395L141 440M200 419L104 443M167 457L192 392M108 430L150 399M120 460L119 407M119 431L144 395M102 453L108 434M104 443L164 438M133 470L119 431M139 396L130 387M152 367L128 409M136 403L119 407M132 435L150 399M168 444L77 426M104 443L193 407M196 416L91 438M170 382L140 394M108 430L141 485M194 404L102 453M112 431L140 470M129 429L141 485M142 405L189 436M139 396L149 463M143 394L112 431M144 395L127 470M170 382L89 374M130 472L112 459M130 472L89 426M140 470L105 454M137 379L174 399M142 405L196 416M108 434L108 430M190 438L83 374M139 396L129 397M167 451L120 460M144 404L137 379M148 408L105 454M200 419L141 440M143 427L85 441M170 382L141 485M89 374L91 438M164 438L120 460M151 385L190 438M144 395L129 429M196 399L128 409M144 404L102 453M108 434L144 482M132 475L193 419M190 438L141 403M165 411L127 470M144 482L140 394M193 419L141 485M159 399L174 399M140 394L104 443M159 399L151 385M168 444L95 448M174 421L151 459M167 451L112 411M200 419L128 409M196 416L129 397M141 440L130 387M151 385L192 392M182 447L144 482M189 436L119 407M196 416L137 469M170 382L130 387M89 426L152 367M105 454L123 438M165 399L141 403M89 426L108 434M136 403L112 459M165 399L134 417M196 399L139 479M85 441L105 454M200 419L152 367M142 405L168 435M95 448L167 451M112 431L164 438M108 430L138 397M108 430L119 407M159 399L108 444M174 399L150 399M137 379L150 399M174 421L146 466M112 411L149 463M142 405L123 438M108 430L105 454M200 419L132 475M152 367L149 463M143 427L180 459M175 408L164 438M138 397L143 427M165 411L89 426M139 479L164 438M139 396L136 403M89 374L148 408M142 405L129 429M89 374L159 399M190 438L89 426M129 429L152 367M130 472L200 419M143 427L95 448M112 411L95 448M150 401L182 447M128 363L150 399M174 421L146 466M150 399L165 411M200 419L189 436M143 394L150 399M192 392L144 482M105 454L128 409M112 459L99 395M77 426L127 470M150 401L108 444M164 438L128 363M151 459L180 459M148 408L89 426M149 463L83 374M129 397L137 469M143 427L192 392M77 426L144 482M120 460L159 399M133 470L182 447M151 385L134 417M95 448L128 409M165 399L167 457M174 421L180 459M180 459L182 447M148 408L108 430M130 387L129 397M119 407L200 419M112 411L134 417M189 436L151 385M91 438L149 398M149 463L89 374M137 469L147 482M140 470L146 466M151 385L140 470M180 459L129 429M120 460L144 395M182 447L83 374M139 396L146 466M167 457L108 430M134 417L128 363M167 457L146 466M146 466L180 459M149 398L120 460M150 401L149 398M102 453L95 448M139 479L129 397M92 426L182 447M174 421L168 444M174 399L137 379M133 470L142 405M149 398L133 470M105 454L148 408M149 463L138 397M196 399L108 444M151 385L136 403M129 397L153 375M140 470L140 394M77 426L112 459M89 426L137 469M165 411L182 447M108 444L120 460M153 375L127 470M83 374L142 405M92 426L194 404M139 479L133 470M152 367L133 470M89 426L144 404M196 416L104 443M108 430L133 470M92 426L83 374M139 396L141 440M99 395L142 405M170 382L192 392M140 470L128 363M152 367L174 399M85 441L150 401M141 440L120 460M152 367L104 443M83 374L119 407M189 436L196 399M146 466L99 395M180 459L175 408M86 375L130 387M112 431L139 396M168 435L130 387M128 409L153 375M151 385L146 466M133 470L164 438M137 379L165 399M130 472L123 438M149 398L151 459M151 459L99 395M147 482L194 404M193 419L147 482M138 397L175 408M85 441L134 417M91 438L142 405M196 416L137 379M182 447L196 399M167 457L91 438M137 469L132 475M91 438L147 482M120 460L137 379M129 429L167 457M167 451L192 392M134 417L151 459M150 401L86 375M99 395L142 405M149 463L136 403M139 396L108 434M143 394L192 392M123 438L193 419M83 374L77 426M148 408L83 374M108 444L150 401M108 444L133 470M147 482L137 469M112 411L108 434M119 431L170 382M123 438L108 430M143 394L196 416M108 444L149 463M149 398L129 397M123 438L174 399M148 408L151 385M108 434L174 399M149 463L89 374M112 411L89 374M89 374L189 436M77 426L148 408M108 444L150 401M108 444L139 479M190 438L104 443M130 387L182 447M137 379L136 403M128 409L119 431M108 434L148 408M152 367L86 375M130 387L153 375M139 479L108 430M105 454L180 459M130 387L141 485M141 440L143 427M192 392L141 440M128 409L150 401M105 454L192 392M150 399L112 411M150 401L89 426M120 460L142 405M139 479L129 429M130 472L139 479M133 470L150 401M193 407L190 438M140 470L137 379M83 374L200 419M148 408L159 399M136 403L133 470M150 401L194 404M108 444L89 374M190 438L123 438M134 417L139 396M165 399L196 399M77 426L89 426M129 429L164 438M127 470L192 392M151 385L139 396M83 374L89 374M147 482L92 426M168 435L134 417M139 479L167 457M150 401L151 459M196 399L149 398M102 453L174 421M139 396L132 475M102 453L174 399M130 387L108 444M144 395L165 411M91 438L85 441M167 451L141 403M168 444L139 479M128 409L104 443M123 438L139 396M143 427L193 407M170 382L132 435M83 374L150 401M144 404L132 435M132 435L194 404M128 409L112 459M108 444L144 482M140 394L196 416M86 375L142 405M167 457L149 398M141 485L86 375M132 435L108 444M105 454L141 403M104 443L128 409M193 407L151 459M130 387L143 427M120 460L167 451M190 438L147 482M174 399L91 438M99 395L168 435M104 443L83 374M139 396L144 395M142 405L151 385M123 438L142 405M86 375L165 411M168 435L147 482M136 403L112 411M83 374L149 463M140 470L167 451M165 399L144 482M143 427L112 411M112 431L149 463M89 426L134 417M142 405L164 438M99 395L119 431M189 436L142 405M196 399L129 397M141 485L129 429M141 485L119 407M167 457L119 407M102 453L168 435M112 431L142 405M151 385L127 470M194 404L151 385M139 479L89 374M77 426L112 411M151 459L165 411M165 399L91 438M137 379L174 421M146 466L130 472M138 397L193 419M174 399L83 374M134 417L200 419M104 443L189 436M144 482L105 454M150 401L129 397M123 438L168 444M151 459L120 460M89 374L142 405M150 399L143 394M149 463L123 438M77 426L141 485M91 438L196 416M150 401L167 451M147 482L136 403M174 399L151 459M129 397L85 441M119 407L108 430M150 401L151 459M180 459L108 434M86 375L165 399M141 440L149 398M175 408L174 399M190 438L165 411M144 482L134 417M130 387L165 411M193 407L175 408M139 396L130 387M91 438L143 427M144 482L143 394M150 399L165 399M151 385L138 397M140 470L170 382M140 394L119 407M152 367L92 426M149 463L104 443M95 448L141 485M141 403L139 479M167 451L170 382M144 404L147 482M165 411L174 399M133 470L167 457M147 482L141 403M148 408L95 448M200 419L83 374M132 475L196 416M144 482L165 411M112 431L140 394M137 469L149 398M138 397L91 438M132 435L175 408M86 375L192 392M130 472L189 436M153 375L85 441M165 411L167 457M167 457L86 375M170 382L119 407M102 453L143 427M129 429L167 451M151 385L174 421M85 441L138 397M85 441L164 438M123 438L200 419M137 469L95 448M165 411L141 440M134 417L112 431M141 403L92 426M170 382L102 453M83 374L132 435M174 421L108 430M200 419L142 405M89 374L190 438M182 447L119 407M182 447L180 459M134 417L112 459M77 426L193 407M165 399L104 443M168 444L149 398M189 436L99 395M167 457L167 451M129 397L95 448M85 441L196 399M193 407L170 382M149 398L134 417M108 444L143 427M143 427L86 375M144 482L144 395M150 401L182 447M108 444L108 430M147 482L132 435M150 401L152 367M192 392L132 435M143 427L128 409M89 426L141 440M104 443L130 472M91 438L112 431M112 431L175 408M95 448L192 392M95 448L134 417M102 453L137 469M132 435L108 434M170 382L141 485M182 447L89 374M150 401L137 469M139 479L105 454M144 482L194 404M132 435L139 396M138 397L144 395M77 426L152 367M128 363L180 459M174 399L143 394M85 441L141 440M153 375L141 403M128 363L165 411M190 438L139 479M128 409L123 438M108 434L193 407M150 401L146 466M139 396L182 447M151 385L108 434M168 444L133 470" stroke="#bdbdbd" stroke-width="0.45" stroke-opacity="0.1" fill="none"/>
<path d="M13.5 428.5L43.6 434.1" stroke="#ccc" stroke-width="0.6"/>
<g class="c0"><circle cx="127.8" cy="363.2"/><circle cx="151.7" cy="367.3"/><circle cx="153.0" cy="375.2"/><circle cx="137.2" cy="378.9"/><circle cx="150.8" cy="385.2"/><circle cx="169.7" cy="382.1"/><circle cx="158.7" cy="399.4"/><circle cx="165.0" cy="398.8"/><circle cx="173.8" cy="398.8"/><circle cx="191.8" cy="392.5"/><circle cx="195.9" cy="398.8"/><circle cx="194.0" cy="403.5"/><circle cx="193.4" cy="406.7"/><circle cx="196.5" cy="416.1"/><circle cx="192.7" cy="419.3"/><circle cx="199.7" cy="418.7"/><circle cx="175.0" cy="407.6"/><circle cx="147.6" cy="408.3"/><circle cx="168.1" cy="435.1"/><circle cx="164.4" cy="437.6"/><circle cx="167.2" cy="450.8"/><circle cx="180.1" cy="458.7"/><circle cx="182.3" cy="447.0"/><circle cx="188.9" cy="435.7"/><circle cx="190.2" cy="437.6"/><circle cx="173.8" cy="420.9"/></g>
<g class="c12"><circle cx="143.8" cy="404.1"/><circle cx="142.3" cy="404.8"/><circle cx="137.7" cy="397.2"/><circle cx="138.6" cy="396.0"/><circle cx="149.5" cy="399.1"/><circle cx="141.3" cy="403.4"/><circle cx="139.5" cy="394.2"/><circle cx="149.6" cy="400.8"/><circle cx="142.7" cy="394.4"/><circle cx="136.2" cy="402.5"/><circle cx="148.6" cy="398.3"/><circle cx="144.5" cy="395.0"/><circle cx="83.0" cy="373.6"/><circle cx="86.1" cy="375.2"/><circle cx="89.3" cy="373.6"/><circle cx="130.3" cy="386.8"/><circle cx="128.7" cy="397.2"/><circle cx="165.0" cy="411.4"/><circle cx="127.8" cy="409.2"/><circle cx="112.0" cy="411.4"/><circle cx="142.9" cy="427.2"/><circle cx="128.7" cy="428.8"/><circle cx="131.9" cy="435.1"/><circle cx="123.4" cy="438.2"/><circle cx="119.3" cy="431.3"/><circle cx="112.3" cy="431.3"/><circle cx="107.6" cy="430.3"/><circle cx="108.2" cy="433.5"/><circle cx="92.5" cy="426.2"/><circle cx="88.7" cy="425.6"/><circle cx="141.3" cy="439.8"/><circle cx="168.1" cy="444.5"/><circle cx="166.9" cy="457.1"/><circle cx="146.1" cy="466.0"/><circle cx="132.8" cy="469.8"/></g>
<g class="c5"><circle cx="99.4" cy="394.7"/><circle cx="119.3" cy="407.3"/><circle cx="134.1" cy="416.8"/><circle cx="76.7" cy="425.6"/><circle cx="84.6" cy="440.7"/><circle cx="90.9" cy="438.2"/><circle cx="104.4" cy="443.0"/><circle cx="108.2" cy="444.5"/><circle cx="95.0" cy="448.3"/><circle cx="102.5" cy="453.4"/><circle cx="105.1" cy="454.0"/><circle cx="112.0" cy="458.7"/><circle cx="120.2" cy="459.7"/><circle cx="151.1" cy="458.7"/><circle cx="148.6" cy="462.8"/><circle cx="127.1" cy="469.8"/><circle cx="130.3" cy="472.3"/><circle cx="136.6" cy="469.1"/><circle cx="139.8" cy="469.8"/><circle cx="131.9" cy="475.4"/><circle cx="139.1" cy="478.6"/><circle cx="144.5" cy="481.7"/><circle cx="141.3" cy="484.9"/><circle cx="146.7" cy="482.4"/></g>
<g class="c1"><circle cx="13.0" cy="428.1"/></g>
<g class="c2"><circle cx="14.6" cy="428.8"/></g>
<g class="c0"><circle cx="43.6" cy="434.1"/></g>
<path d="M232.0 472.0L245.0 448.0L262.0 430.0L290.0 414.0L316.0 404.0L318.0 410.0L292.0 424.0L262.0 445.0L240.0 476.0Z" fill="#eeeeee" fill-opacity="0.9" filter="url(#b2)"/>
<path d="M225.8 434.6L274.3 420.6" stroke="#c8c8c8" stroke-width="0.5" stroke-opacity="0.35"/>
<path d="M225.8 434.6L281.5 417.2" stroke="#c8c8c8" stroke-width="0.5" stroke-opacity="0.35"/>
<path d="M225.8 434.6L285.4 414" stroke="#c8c8c8" stroke-width="0.5" stroke-opacity="0.35"/>
<path d="M225.8 434.6L316 406.5" stroke="#c8c8c8" stroke-width="0.5" stroke-opacity="0.35"/>
<path d="M232.1 435.5L274.3 420.6" stroke="#c8c8c8" stroke-width="0.5" stroke-opacity="0.35"/>
<path d="M232.1 435.5L281.5 417.2" stroke="#c8c8c8" stroke-width="0.5" stroke-opacity="0.35"/>
<path d="M232.1 435.5L285.4 414" stroke="#c8c8c8" stroke-width="0.5" stroke-opacity="0.35"/>
<path d="M232.1 435.5L316 406.5" stroke="#c8c8c8" stroke-width="0.5" stroke-opacity="0.35"/>
<path d="M239.4 438.7L274.3 420.6" stroke="#c8c8c8" stroke-width="0.5" stroke-opacity="0.35"/>
<path d="M239.4 438.7L281.5 417.2" stroke="#c8c8c8" stroke-width="0.5" stroke-opacity="0.35"/>
<path d="M239.4 438.7L285.4 414" stroke="#c8c8c8" stroke-width="0.5" stroke-opacity="0.35"/>
<path d="M239.4 438.7L316 406.5" stroke="#c8c8c8" stroke-width="0.5" stroke-opacity="0.35"/>
<path d="M236.3 443.4L274.3 420.6" stroke="#c8c8c8" stroke-width="0.5" stroke-opacity="0.35"/>
<path d="M236.3 443.4L281.5 417.2" stroke="#c8c8c8" stroke-width="0.5" stroke-opacity="0.35"/>
<path d="M236.3 443.4L285.4 414" stroke="#c8c8c8" stroke-width="0.5" stroke-opacity="0.35"/>
<path d="M236.3 443.4L316 406.5" stroke="#c8c8c8" stroke-width="0.5" stroke-opacity="0.35"/>
<path d="M234.7 447.6L274.3 420.6" stroke="#c8c8c8" stroke-width="0.5" stroke-opacity="0.35"/>
<path d="M234.7 447.6L281.5 417.2" stroke="#c8c8c8" stroke-width="0.5" stroke-opacity="0.35"/>
<path d="M234.7 447.6L285.4 414" stroke="#c8c8c8" stroke-width="0.5" stroke-opacity="0.35"/>
<path d="M234.7 447.6L316 406.5" stroke="#c8c8c8" stroke-width="0.5" stroke-opacity="0.35"/>
<path d="M237.2 452.3L274.3 420.6" stroke="#c8c8c8" stroke-width="0.5" stroke-opacity="0.35"/>
<path d="M237.2 452.3L281.5 417.2" stroke="#c8c8c8" stroke-width="0.5" stroke-opacity="0.35"/>
<path d="M237.2 452.3L285.4 414" stroke="#c8c8c8" stroke-width="0.5" stroke-opacity="0.35"/>
<path d="M237.2 452.3L316 406.5" stroke="#c8c8c8" stroke-width="0.5" stroke-opacity="0.35"/>
<path d="M234 469.7L274.3 420.6" stroke="#c8c8c8" stroke-width="0.5" stroke-opacity="0.35"/>
<path d="M234 469.7L281.5 417.2" stroke="#c8c8c8" stroke-width="0.5" stroke-opacity="0.35"/>
<path d="M234 469.7L285.4 414" stroke="#c8c8c8" stroke-width="0.5" stroke-opacity="0.35"/>
<path d="M234 469.7L316 406.5" stroke="#c8c8c8" stroke-width="0.5" stroke-opacity="0.35"/>
<path d="M233.1 472.9L274.3 420.6" stroke="#c8c8c8" stroke-width="0.5" stroke-opacity="0.35"/>
<path d="M233.1 472.9L281.5 417.2" stroke="#c8c8c8" stroke-width="0.5" stroke-opacity="0.35"/>
<path d="M233.1 472.9L285.4 414" stroke="#c8c8c8" stroke-width="0.5" stroke-opacity="0.35"/>
<path d="M233.1 472.9L316 406.5" stroke="#c8c8c8" stroke-width="0.5" stroke-opacity="0.35"/>
<path d="M251.1 442.5L274.3 420.6" stroke="#c8c8c8" stroke-width="0.5" stroke-opacity="0.35"/>
<path d="M251.1 442.5L281.5 417.2" stroke="#c8c8c8" stroke-width="0.5" stroke-opacity="0.35"/>
<path d="M251.1 442.5L285.4 414" stroke="#c8c8c8" stroke-width="0.5" stroke-opacity="0.35"/>
<path d="M251.1 442.5L316 406.5" stroke="#c8c8c8" stroke-width="0.5" stroke-opacity="0.35"/>
<path d="M255.3 432.4L274.3 420.6" stroke="#c8c8c8" stroke-width="0.5" stroke-opacity="0.35"/>
<path d="M255.3 432.4L281.5 417.2" stroke="#c8c8c8" stroke-width="0.5" stroke-opacity="0.35"/>
<path d="M255.3 432.4L285.4 414" stroke="#c8c8c8" stroke-width="0.5" stroke-opacity="0.35"/>
<path d="M255.3 432.4L316 406.5" stroke="#c8c8c8" stroke-width="0.5" stroke-opacity="0.35"/>
<path d="M316 406.5L364.5 402.3" stroke="#c8c8c8" stroke-width="0.5" stroke-opacity="0.5"/>
<path d="M285.4 414L316 406.5" stroke="#c8c8c8" stroke-width="0.5" stroke-opacity="0.5"/>
<path d="M378 396L405 379" stroke="#c8c8c8" stroke-width="0.5" stroke-opacity="0.5"/>
<path d="M383 386L405 379" stroke="#c8c8c8" stroke-width="0.5" stroke-opacity="0.5"/>
<path d="M405 379L427.3 386.4" stroke="#c8c8c8" stroke-width="0.5" stroke-opacity="0.5"/>
<path d="M405 379L416.2 374.7" stroke="#c8c8c8" stroke-width="0.5" stroke-opacity="0.5"/>
<path d="M378 396L427.3 386.4" stroke="#c8c8c8" stroke-width="0.5" stroke-opacity="0.5"/>
<path d="M234 470L316 406.5" stroke="#c8c8c8" stroke-width="0.5" stroke-opacity="0.5"/>
<path d="M236 473L285 414" stroke="#c8c8c8" stroke-width="0.5" stroke-opacity="0.5"/>
<g class="c11"><circle cx="225.8" cy="434.6"/><circle cx="232.1" cy="435.5"/><circle cx="239.4" cy="438.7"/><circle cx="236.3" cy="443.4"/><circle cx="234.7" cy="447.6"/><circle cx="237.2" cy="452.3"/><circle cx="234.0" cy="469.7"/><circle cx="233.1" cy="472.9"/><circle cx="416.2" cy="374.7"/><circle cx="427.3" cy="386.4"/><circle cx="405.1" cy="378.5"/></g>
<g class="c12"><circle cx="236.3" cy="473.5"/><circle cx="255.3" cy="432.4"/><circle cx="274.3" cy="420.6"/><circle cx="281.5" cy="417.2"/><circle cx="285.4" cy="414.0"/><circle cx="364.5" cy="402.3"/><circle cx="316.0" cy="405.6"/></g>
<g class="c5"><circle cx="251.1" cy="442.5"/><circle cx="280.6" cy="421.9"/><circle cx="313.9" cy="407.5"/><circle cx="317.7" cy="406.0"/><circle cx="315.5" cy="408.6"/></g>
<g class="c1"><circle cx="377.2" cy="398.2"/><circle cx="378.2" cy="394.4"/><circle cx="378.8" cy="396.5"/></g>
<g class="c2"><circle cx="380.4" cy="386.4"/><circle cx="383.5" cy="386.4"/><circle cx="386.7" cy="385.5"/><circle cx="406.4" cy="380.1"/></g>
<path d="M448 473L455 450M448 473L455 448M448 473L489 405M448 473L491 405M448 473L504 411M457 468L457 464M457 468L455 448M457 468L482 426M457 468L513 451M457 464L472 412M457 464L489 405M457 464L491 405M457 464L504 411M457 464L476 429M455 450L455 448M455 450L472 412M455 450L489 405M455 450L504 411M455 450L513 451M455 448L491 405M455 448L504 411M455 448L510 397M455 448L472 434M455 448L505 443M455 448L513 451M465 441L472 412M465 441L504 411M465 441L472 434M465 441L482 426M472 412L504 411M472 412L510 397M472 412L472 434M472 412L476 429M472 412L482 426M472 412L505 443M489 405L482 426M491 405L472 434M491 405L476 429M491 405L482 426M491 405L505 443M491 405L513 451M504 411L476 429M504 411L505 443M510 397L472 434M510 397L476 429M510 397L482 426M472 434L476 429M472 434L505 443M476 429L505 443M482 426L505 443M510 397L585 394M504 411L564 404M491 405L564 404M564 404L601 398M564 404L626 394M564 404L645 391M564 404L663 390M585 394L676 370M585 394L660 369M601 398L674 374M626 394L674 381M645 391L674 374M564 427L602 424M602 424L620 428M602 424L639 416M639 416L667 400M619 431L639 416M510 397L564 404M585 394L656 374M510 397L656 374M663 390L674 374M667 390L676 370M620 428L667 400" stroke="#c8c8c8" stroke-width="0.5" stroke-opacity="0.45" fill="none"/>
<g class="c0"><circle cx="448.5" cy="473.4"/><circle cx="457.2" cy="467.8"/><circle cx="457.2" cy="463.6"/><circle cx="454.8" cy="450.3"/><circle cx="454.8" cy="447.9"/><circle cx="464.9" cy="441.3"/><circle cx="472.2" cy="412.0"/><circle cx="488.6" cy="405.3"/><circle cx="491.4" cy="405.3"/><circle cx="503.6" cy="410.9"/><circle cx="509.5" cy="397.3"/><circle cx="564.3" cy="427.0"/><circle cx="673.5" cy="373.6"/><circle cx="676.0" cy="370.1"/></g>
<g class="c12"><circle cx="472.2" cy="433.6"/><circle cx="475.7" cy="428.7"/><circle cx="482.0" cy="426.3"/><circle cx="505.0" cy="442.7"/><circle cx="564.3" cy="404.3"/><circle cx="584.6" cy="393.8"/><circle cx="666.6" cy="399.7"/><circle cx="673.5" cy="380.9"/><circle cx="656.1" cy="373.9"/><circle cx="662.0" cy="376.4"/><circle cx="660.3" cy="368.7"/></g>
<g class="c5"><circle cx="513.0" cy="451.0"/><circle cx="601.0" cy="398.0"/><circle cx="625.7" cy="394.5"/><circle cx="644.6" cy="391.4"/><circle cx="663.1" cy="389.6"/><circle cx="667.3" cy="389.6"/></g>
<g class="c1"><circle cx="618.8" cy="431.1"/><circle cx="638.7" cy="415.8"/></g>
<g class="c2"><circle cx="601.7" cy="423.5"/><circle cx="620.5" cy="428.0"/></g>
<path d="M105 608L139.8 530" stroke="#e2e2e2" stroke-width="0.5"/>
<path d="M105 608L139 550" stroke="#e2e2e2" stroke-width="0.5"/>
<path d="M104.4 564L105 608" stroke="#e2e2e2" stroke-width="0.5"/>
<path d="M105 608L85.8 639.5" stroke="#e2e2e2" stroke-width="0.5"/>
<g class="c15"><circle cx="139.8" cy="529.8"/><circle cx="139.0" cy="550.0"/><circle cx="104.4" cy="564.0"/><circle cx="72.3" cy="596.0"/><circle cx="104.5" cy="608.6"/><circle cx="105.8" cy="608.0"/><circle cx="85.8" cy="639.5"/></g>
<path d="M228.3 561.5L271 602M271 560L317 557.4M317 557.4L350.9 563.5M406.7 561L419.3 569.5M419.3 569.5L427 564" stroke="#e6e6e6" stroke-width="0.5"/>
<g class="c14"><circle cx="228.3" cy="561.5"/></g>
<g class="c5"><circle cx="271.0" cy="560.0"/></g>
<g class="c3"><circle cx="317.0" cy="557.4"/></g>
<g class="c11"><circle cx="350.9" cy="563.5"/></g>
<g class="c6"><circle cx="406.7" cy="561.0"/></g>
<g class="c7"><circle cx="419.3" cy="569.5"/></g>
<g class="c6"><circle cx="425.5" cy="565.0"/><circle cx="428.0" cy="564.0"/></g>
<g class="c10"><circle cx="271.0" cy="602.0"/></g>
<g class="c0"><circle cx="595.7" cy="538.6"/></g>
<g class="c5"><circle cx="526.3" cy="582.0"/></g>
<g class="c6"><circle cx="490.0" cy="631.0"/><circle cx="488.0" cy="632.5"/></g>
<rect x="1.5" y="7.5" width="215" height="152" fill="none" stroke="#b9b9b9" stroke-width="1"/>
<rect x="222.5" y="7.5" width="216" height="152" fill="none" stroke="#b9b9b9" stroke-width="1"/>
<rect x="445.5" y="7.5" width="238" height="152" fill="none" stroke="#b9b9b9" stroke-width="1"/>
<rect x="1.5" y="164.5" width="215" height="160" fill="none" stroke="#b9b9b9" stroke-width="1"/>
<rect x="222.5" y="164.5" width="216" height="160" fill="none" stroke="#b9b9b9" stroke-width="1"/>
<rect x="445.5" y="164.5" width="238" height="160" fill="none" stroke="#b9b9b9" stroke-width="1"/>
<rect x="1.5" y="331.5" width="215" height="164" fill="none" stroke="#b9b9b9" stroke-width="1"/>
<rect x="222.5" y="331.5" width="216" height="164" fill="none" stroke="#b9b9b9" stroke-width="1"/>
<rect x="445.5" y="331.5" width="238" height="164" fill="none" stroke="#b9b9b9" stroke-width="1"/>
<rect x="1.5" y="502.5" width="215" height="148" fill="none" stroke="#b9b9b9" stroke-width="1"/>
<rect x="222.5" y="502.5" width="216" height="148" fill="none" stroke="#b9b9b9" stroke-width="1"/>
<rect x="445.5" y="502.5" width="238" height="148" fill="none" stroke="#b9b9b9" stroke-width="1"/>
<g opacity="1.0"><rect x="93.00" y="17.50" width="24.30" height="6" fill="#f9efcc"/><rect x="117.00" y="17.50" width="24.30" height="6" fill="#f4c496"/><rect x="141.00" y="17.50" width="24.30" height="6" fill="#f0a96a"/><rect x="165.00" y="17.50" width="24.30" height="6" fill="#ec8f46"/><rect x="189.00" y="17.50" width="24.30" height="6" fill="#e77a23"/></g>
<rect x="93.00" y="22.70" width="120" height="0.8" fill="#666" opacity="0.7"/>
<text x="93.50" y="22.90" font-size="7" fill="#3a2a20" opacity="0.85">871</text>
<text x="212.50" y="22.90" font-size="7" fill="#3a2a20" text-anchor="end" opacity="0.85">13756</text>
<g opacity="1.0"><rect x="93.00" y="26.50" width="24.30" height="6" fill="#fbefe2"/><rect x="117.00" y="26.50" width="24.30" height="6" fill="#e9a896"/><rect x="141.00" y="26.50" width="24.30" height="6" fill="#dc6f66"/><rect x="165.00" y="26.50" width="24.30" height="6" fill="#d03a3c"/><rect x="189.00" y="26.50" width="24.30" height="6" fill="#c0161c"/></g>
<rect x="93.00" y="31.70" width="120" height="0.8" fill="#666" opacity="0.7"/>
<text x="93.50" y="31.90" font-size="7" fill="#3a2a20" opacity="0.85">14164</text>
<text x="212.50" y="31.90" font-size="7" fill="#3a2a20" text-anchor="end" opacity="0.85">20013</text>
<text x="212.5" y="15.4" font-size="7.2" fill="#222" text-anchor="end">Degree</text>
<g opacity="0.92"><rect x="308.00" y="17.50" width="25.30" height="6" fill="#f2f8c8"/><rect x="333.00" y="17.50" width="47.30" height="6" fill="#ecf6a2"/><rect x="380.00" y="17.50" width="24.30" height="6" fill="#e4ec90"/><rect x="404.00" y="17.50" width="24.30" height="6" fill="#ecd88e"/></g>
<rect x="308.00" y="22.70" width="120" height="0.8" fill="#666" opacity="0.7"/>
<text x="308.50" y="22.90" font-size="7" fill="#3a2a20" opacity="0.85">71</text>
<text x="427.50" y="22.90" font-size="7" fill="#3a2a20" text-anchor="end" opacity="0.85">2379</text>
<g opacity="0.92"><rect x="308.00" y="26.50" width="25.30" height="6" fill="#e8d8ec"/><rect x="333.00" y="26.50" width="47.30" height="6" fill="#bcc0ec"/><rect x="380.00" y="26.50" width="24.30" height="6" fill="#b4b8dc"/><rect x="404.00" y="26.50" width="24.30" height="6" fill="#acb4cc"/></g>
<rect x="308.00" y="31.70" width="120" height="0.8" fill="#666" opacity="0.7"/>
<text x="308.50" y="31.90" font-size="7" fill="#3a2a20" opacity="0.85">2389</text>
<text x="427.50" y="31.90" font-size="7" fill="#3a2a20" text-anchor="end" opacity="0.85">4515</text>
<text x="428" y="15.4" font-size="7.2" fill="#222" text-anchor="end">Degree</text>
<g opacity="0.92"><rect x="558.00" y="17.50" width="24.30" height="6" fill="#f7efd5"/><rect x="582.00" y="17.50" width="24.30" height="6" fill="#f2c2a0"/><rect x="606.00" y="17.50" width="24.30" height="6" fill="#f0b890"/><rect x="630.00" y="17.50" width="24.30" height="6" fill="#eea880"/><rect x="654.00" y="17.50" width="24.30" height="6" fill="#eca078"/></g>
<rect x="558.00" y="22.70" width="120" height="0.8" fill="#666" opacity="0.7"/>
<text x="558.50" y="22.90" font-size="7" fill="#3a2a20" opacity="0.85">445</text>
<text x="677.50" y="22.90" font-size="7" fill="#3a2a20" text-anchor="end" opacity="0.85">1138</text>
<g opacity="0.92"><rect x="558.00" y="26.50" width="24.30" height="6" fill="#f7eadf"/><rect x="582.00" y="26.50" width="24.30" height="6" fill="#ebb8a8"/><rect x="606.00" y="26.50" width="24.30" height="6" fill="#e08888"/><rect x="630.00" y="26.50" width="24.30" height="6" fill="#d87080"/><rect x="654.00" y="26.50" width="24.30" height="6" fill="#c86070"/></g>
<rect x="558.00" y="31.70" width="120" height="0.8" fill="#666" opacity="0.7"/>
<text x="558.50" y="31.90" font-size="7" fill="#3a2a20" opacity="0.85">22</text>
<text x="677.50" y="31.90" font-size="7" fill="#3a2a20" text-anchor="end" opacity="0.85">402</text>
<text x="678" y="15.4" font-size="7.2" fill="#222" text-anchor="end">Degree</text>
<g opacity="1.0"><rect x="47.80" y="175.00" width="13.60" height="6" fill="#f2dcb8"/><rect x="61.10" y="175.00" width="7.20" height="6" fill="#f4c898"/><rect x="68.00" y="175.00" width="10.20" height="6" fill="#eeaa68"/><rect x="77.90" y="175.00" width="7.10" height="6" fill="#e88a3a"/><rect x="84.70" y="175.00" width="13.70" height="6" fill="#e07a20"/></g>
<rect x="47.80" y="180.20" width="50.3" height="0.8" fill="#666" opacity="0.7"/>
<text x="48.30" y="180.40" font-size="7" fill="#3a2a20" opacity="0.85">1484</text>
<text x="97.60" y="180.40" font-size="7" fill="#3a2a20" text-anchor="end" opacity="0.85">2500</text>
<g opacity="1.0"><rect x="100.70" y="175.00" width="10.70" height="6" fill="#f6ece2"/><rect x="111.10" y="175.00" width="10.90" height="6" fill="#e8b4a4"/><rect x="121.70" y="175.00" width="10.90" height="6" fill="#dc7468"/><rect x="132.30" y="175.00" width="21.70" height="6" fill="#cc2a30"/></g>
<rect x="100.70" y="180.20" width="53" height="0.8" fill="#666" opacity="0.7"/>
<text x="101.20" y="180.40" font-size="7" fill="#3a2a20" opacity="0.85">69</text>
<text x="153.20" y="180.40" font-size="7" fill="#3a2a20" text-anchor="end" opacity="0.85">523</text>
<g opacity="1.0"><rect x="155.00" y="175.00" width="23.40" height="6" fill="#eef8a8"/><rect x="178.10" y="175.00" width="11.80" height="6" fill="#eef870"/><rect x="189.60" y="175.00" width="14.70" height="6" fill="#dede44"/></g>
<rect x="155.00" y="180.20" width="49" height="0.8" fill="#666" opacity="0.7"/>
<text x="155.50" y="180.40" font-size="7" fill="#3a2a20" opacity="0.85">2665</text>
<text x="203.50" y="180.40" font-size="7" fill="#3a2a20" text-anchor="end" opacity="0.85">3822</text>
<g opacity="1.0"><rect x="100.70" y="184.30" width="10.70" height="6" fill="#f8f4f2"/><rect x="111.10" y="184.30" width="10.90" height="6" fill="#ecc0b8"/><rect x="121.70" y="184.30" width="10.90" height="6" fill="#eca0ac"/><rect x="132.30" y="184.30" width="21.70" height="6" fill="#e88890"/></g>
<rect x="100.70" y="189.50" width="53" height="0.8" fill="#666" opacity="0.7"/>
<text x="101.20" y="189.70" font-size="7" fill="#3a2a20" opacity="0.85">533</text>
<text x="153.20" y="189.70" font-size="7" fill="#3a2a20" text-anchor="end" opacity="0.85">1100</text>
<g opacity="1.0"><rect x="155.00" y="184.30" width="12.00" height="6" fill="#dcd0f0"/><rect x="166.70" y="184.30" width="11.70" height="6" fill="#a8a8f0"/><rect x="178.10" y="184.30" width="10.90" height="6" fill="#5c64d4"/><rect x="188.70" y="184.30" width="15.60" height="6" fill="#2a3a98"/></g>
<rect x="155.00" y="189.50" width="49" height="0.8" fill="#666" opacity="0.7"/>
<text x="155.50" y="189.70" font-size="7" fill="#3a2a20" opacity="0.85">1107</text>
<text x="203.50" y="189.70" font-size="7" fill="#3a2a20" text-anchor="end" opacity="0.85">1372</text>
<text x="212.6" y="171.7" font-size="7.2" fill="#222" text-anchor="end">Degree</text>
<g opacity="1.0"><rect x="304.00" y="174.50" width="24.96" height="6" fill="#f9efcc"/><rect x="328.66" y="174.50" width="24.96" height="6" fill="#f4c496"/><rect x="353.32" y="174.50" width="24.96" height="6" fill="#f0a96a"/><rect x="377.98" y="174.50" width="24.96" height="6" fill="#ec8f46"/><rect x="402.64" y="174.50" width="24.96" height="6" fill="#e77a23"/></g>
<rect x="304.00" y="179.70" width="123.3" height="0.8" fill="#666" opacity="0.7"/>
<text x="304.50" y="179.90" font-size="7" fill="#3a2a20" opacity="0.85">214</text>
<text x="426.80" y="179.90" font-size="7" fill="#3a2a20" text-anchor="end" opacity="0.85">274</text>
<g opacity="1.0"><rect x="304.00" y="183.60" width="24.96" height="6" fill="#fbefe2"/><rect x="328.66" y="183.60" width="24.96" height="6" fill="#e9a896"/><rect x="353.32" y="183.60" width="24.96" height="6" fill="#dc6f66"/><rect x="377.98" y="183.60" width="24.96" height="6" fill="#d03a3c"/><rect x="402.64" y="183.60" width="24.96" height="6" fill="#c0161c"/></g>
<rect x="304.00" y="188.80" width="123.3" height="0.8" fill="#666" opacity="0.7"/>
<text x="304.50" y="189.00" font-size="7" fill="#3a2a20" opacity="0.85">84</text>
<text x="426.80" y="189.00" font-size="7" fill="#3a2a20" text-anchor="end" opacity="0.85">210</text>
<text x="427.3" y="171" font-size="7.2" fill="#222" text-anchor="end">Degree</text>
<g opacity="1.0"><rect x="456.70" y="175.00" width="18.60" height="6" fill="#eef8b0"/><rect x="475.00" y="175.00" width="16.30" height="6" fill="#eaf55a"/><rect x="491.00" y="175.00" width="23.30" height="6" fill="#d8d83c"/></g>
<rect x="456.70" y="180.20" width="57.3" height="0.8" fill="#666" opacity="0.7"/>
<text x="457.20" y="180.40" font-size="7" fill="#3a2a20" opacity="0.85">19323</text>
<text x="513.50" y="180.40" font-size="7" fill="#3a2a20" text-anchor="end" opacity="0.85">19973</text>
<g opacity="1.0"><rect x="514.80" y="175.00" width="22.30" height="6" fill="#f6dcc8"/><rect x="536.80" y="175.00" width="11.30" height="6" fill="#f0bc98"/><rect x="547.80" y="175.00" width="10.30" height="6" fill="#e8a080"/><rect x="557.80" y="175.00" width="11.30" height="6" fill="#e08a68"/></g>
<rect x="514.80" y="180.20" width="54" height="0.8" fill="#666" opacity="0.7"/>
<text x="515.30" y="180.40" font-size="7" fill="#3a2a20" opacity="0.85">1073</text>
<text x="568.30" y="180.40" font-size="7" fill="#3a2a20" text-anchor="end" opacity="0.85">4819</text>
<g opacity="1.0"><rect x="569.00" y="175.00" width="20.60" height="6" fill="#f3dcd5"/><rect x="589.30" y="175.00" width="11.60" height="6" fill="#dea0a0"/><rect x="600.60" y="175.00" width="20.40" height="6" fill="#c87478"/></g>
<rect x="569.00" y="180.20" width="51.7" height="0.8" fill="#666" opacity="0.7"/>
<text x="569.50" y="180.40" font-size="7" fill="#3a2a20" opacity="0.85">11902</text>
<text x="620.20" y="180.40" font-size="7" fill="#3a2a20" text-anchor="end" opacity="0.85">16639</text>
<g opacity="1.0"><rect x="622.00" y="175.00" width="12.80" height="6" fill="#dcd0f0"/><rect x="634.50" y="175.00" width="11.60" height="6" fill="#a8a8f0"/><rect x="645.80" y="175.00" width="11.50" height="6" fill="#5c64d4"/><rect x="657.00" y="175.00" width="23.00" height="6" fill="#2a3a98"/></g>
<rect x="622.00" y="180.20" width="57.7" height="0.8" fill="#666" opacity="0.7"/>
<text x="622.50" y="180.40" font-size="7" fill="#3a2a20" opacity="0.85">7587</text>
<text x="679.20" y="180.40" font-size="7" fill="#3a2a20" text-anchor="end" opacity="0.85">11130</text>
<text x="678.9" y="173.6" font-size="7.2" fill="#222" text-anchor="end">Degree</text>
<g opacity="1.0"><rect x="90.80" y="343.60" width="24.58" height="6" fill="#f9efcc"/><rect x="115.08" y="343.60" width="24.58" height="6" fill="#f4c496"/><rect x="139.36" y="343.60" width="24.58" height="6" fill="#f0a96a"/><rect x="163.64" y="343.60" width="24.58" height="6" fill="#ec8f46"/><rect x="187.92" y="343.60" width="24.58" height="6" fill="#e77a23"/></g>
<rect x="90.80" y="348.80" width="121.4" height="0.8" fill="#666" opacity="0.7"/>
<text x="91.30" y="349.00" font-size="7" fill="#3a2a20" opacity="0.85">296</text>
<text x="211.70" y="349.00" font-size="7" fill="#3a2a20" text-anchor="end" opacity="0.85">2018</text>
<g opacity="1.0"><rect x="90.80" y="352.60" width="24.58" height="6" fill="#fbefe2"/><rect x="115.08" y="352.60" width="24.58" height="6" fill="#e9a896"/><rect x="139.36" y="352.60" width="24.58" height="6" fill="#dc6f66"/><rect x="163.64" y="352.60" width="24.58" height="6" fill="#d03a3c"/><rect x="187.92" y="352.60" width="24.58" height="6" fill="#c0161c"/></g>
<rect x="90.80" y="357.80" width="121.4" height="0.8" fill="#666" opacity="0.7"/>
<text x="91.30" y="358.00" font-size="7" fill="#3a2a20" opacity="0.85">4048</text>
<text x="211.70" y="358.00" font-size="7" fill="#3a2a20" text-anchor="end" opacity="0.85">4803</text>
<text x="212.2" y="341.1" font-size="7.2" fill="#222" text-anchor="end">Degree</text>
<g opacity="1.0"><rect x="307.00" y="343.20" width="24.60" height="6" fill="#f9efcc"/><rect x="331.30" y="343.20" width="24.60" height="6" fill="#f4c496"/><rect x="355.60" y="343.20" width="24.60" height="6" fill="#f0a96a"/><rect x="379.90" y="343.20" width="24.60" height="6" fill="#ec8f46"/><rect x="404.20" y="343.20" width="24.60" height="6" fill="#e77a23"/></g>
<rect x="307.00" y="348.40" width="121.5" height="0.8" fill="#666" opacity="0.7"/>
<text x="307.50" y="348.60" font-size="7" fill="#3a2a20" opacity="0.85">3379</text>
<text x="428.00" y="348.60" font-size="7" fill="#3a2a20" text-anchor="end" opacity="0.85">5838</text>
<g opacity="1.0"><rect x="307.00" y="352.40" width="24.60" height="6" fill="#fbefe2"/><rect x="331.30" y="352.40" width="24.60" height="6" fill="#e9a896"/><rect x="355.60" y="352.40" width="24.60" height="6" fill="#dc6f66"/><rect x="379.90" y="352.40" width="24.60" height="6" fill="#d03a3c"/><rect x="404.20" y="352.40" width="24.60" height="6" fill="#c0161c"/></g>
<rect x="307.00" y="357.60" width="121.5" height="0.8" fill="#666" opacity="0.7"/>
<text x="307.50" y="357.80" font-size="7" fill="#3a2a20" opacity="0.85">736</text>
<text x="428.00" y="357.80" font-size="7" fill="#3a2a20" text-anchor="end" opacity="0.85">2145</text>
<text x="428" y="340" font-size="7.2" fill="#222" text-anchor="end">Degree</text>
<g opacity="1.0"><rect x="555.60" y="343.60" width="24.56" height="6" fill="#f9efcc"/><rect x="579.86" y="343.60" width="24.56" height="6" fill="#f4c496"/><rect x="604.12" y="343.60" width="24.56" height="6" fill="#f0a96a"/><rect x="628.38" y="343.60" width="24.56" height="6" fill="#ec8f46"/><rect x="652.64" y="343.60" width="24.56" height="6" fill="#e77a23"/></g>
<rect x="555.60" y="348.80" width="121.3" height="0.8" fill="#666" opacity="0.7"/>
<text x="556.10" y="349.00" font-size="7" fill="#3a2a20" opacity="0.85">13</text>
<text x="676.40" y="349.00" font-size="7" fill="#3a2a20" text-anchor="end" opacity="0.85">30</text>
<g opacity="1.0"><rect x="555.60" y="352.70" width="24.56" height="6" fill="#fbefe2"/><rect x="579.86" y="352.70" width="24.56" height="6" fill="#e9a896"/><rect x="604.12" y="352.70" width="24.56" height="6" fill="#dc6f66"/><rect x="628.38" y="352.70" width="24.56" height="6" fill="#d03a3c"/><rect x="652.64" y="352.70" width="24.56" height="6" fill="#c0161c"/></g>
<rect x="555.60" y="357.90" width="121.3" height="0.8" fill="#666" opacity="0.7"/>
<text x="556.10" y="358.10" font-size="7" fill="#3a2a20" opacity="0.85">36</text>
<text x="676.40" y="358.10" font-size="7" fill="#3a2a20" text-anchor="end" opacity="0.85">51</text>
<text x="677.9" y="341.5" font-size="7.2" fill="#222" text-anchor="end">Degree</text>
<g opacity="1.0"><rect x="62.60" y="514.00" width="9.42" height="6" fill="#f8ecd8"/><rect x="71.72" y="514.00" width="9.42" height="6" fill="#f0c8a0"/><rect x="80.84" y="514.00" width="9.42" height="6" fill="#eaa882"/><rect x="89.96" y="514.00" width="9.42" height="6" fill="#e48a68"/><rect x="99.08" y="514.00" width="9.42" height="6" fill="#e07050"/></g>
<rect x="62.60" y="519.20" width="45.6" height="0.8" fill="#666" opacity="0.7"/>
<text x="63.10" y="519.40" font-size="7" fill="#3a2a20" opacity="0.85">17</text>
<g opacity="1.0"><rect x="109.90" y="514.00" width="10.12" height="6" fill="#f8fce0"/><rect x="119.72" y="514.00" width="10.12" height="6" fill="#eef890"/><rect x="129.54" y="514.00" width="10.12" height="6" fill="#e8f070"/><rect x="139.36" y="514.00" width="10.12" height="6" fill="#e0e050"/><rect x="149.18" y="514.00" width="10.12" height="6" fill="#d8d030"/></g>
<rect x="109.90" y="519.20" width="49.1" height="0.8" fill="#666" opacity="0.7"/>
<text x="110.40" y="519.40" font-size="7" fill="#3a2a20" opacity="0.85">17</text>
<g opacity="1.0"><rect x="160.20" y="514.00" width="10.72" height="6" fill="#e0d4f4"/><rect x="170.62" y="514.00" width="10.72" height="6" fill="#a0a0f0"/><rect x="181.04" y="514.00" width="10.72" height="6" fill="#6068d8"/><rect x="191.46" y="514.00" width="10.72" height="6" fill="#3848b0"/><rect x="201.88" y="514.00" width="10.72" height="6" fill="#203080"/></g>
<rect x="160.20" y="519.20" width="52.1" height="0.8" fill="#666" opacity="0.7"/>
<text x="160.70" y="519.40" font-size="7" fill="#3a2a20" opacity="0.85">17</text>
<text x="212.3" y="509.9" font-size="7.2" fill="#222" text-anchor="end">Degree</text>
<g opacity="1.0"><rect x="228.90" y="514.20" width="10.30" height="6" fill="#f2e0d8"/><rect x="238.90" y="514.20" width="9.40" height="6" fill="#e8b0a0"/><rect x="248.00" y="514.20" width="9.30" height="6" fill="#d86a64"/><rect x="257.00" y="514.20" width="18.30" height="6" fill="#c8262e"/></g>
<rect x="228.90" y="519.40" width="46.1" height="0.8" fill="#666" opacity="0.7"/>
<text x="229.40" y="519.60" font-size="7" fill="#3a2a20" opacity="0.85">409</text>
<text x="274.50" y="519.60" font-size="7" fill="#3a2a20" text-anchor="end" opacity="0.85">415</text>
<g opacity="1.0"><rect x="277.50" y="514.20" width="11.00" height="6" fill="#f6e6d6"/><rect x="288.20" y="514.20" width="7.90" height="6" fill="#f4cca8"/><rect x="295.80" y="514.20" width="9.50" height="6" fill="#efb68a"/><rect x="305.00" y="514.20" width="18.80" height="6" fill="#e9a07a"/></g>
<rect x="277.50" y="519.40" width="46" height="0.8" fill="#666" opacity="0.7"/>
<text x="278.00" y="519.60" font-size="7" fill="#3a2a20" opacity="0.85">482</text>
<text x="323.00" y="519.60" font-size="7" fill="#3a2a20" text-anchor="end" opacity="0.85">550</text>
<g opacity="1.0"><rect x="324.50" y="514.20" width="12.20" height="6" fill="#f6fad8"/><rect x="336.40" y="514.20" width="18.80" height="6" fill="#eef890"/><rect x="354.90" y="514.20" width="19.40" height="6" fill="#dcdc40"/></g>
<rect x="324.50" y="519.40" width="49.5" height="0.8" fill="#666" opacity="0.7"/>
<text x="325.00" y="519.60" font-size="7" fill="#3a2a20" opacity="0.85">350</text>
<text x="373.50" y="519.60" font-size="7" fill="#3a2a20" text-anchor="end" opacity="0.85">365</text>
<g opacity="1.0"><rect x="375.60" y="514.20" width="10.90" height="6" fill="#e0d0f0"/><rect x="386.20" y="514.20" width="10.70" height="6" fill="#a8a8f0"/><rect x="396.60" y="514.20" width="10.00" height="6" fill="#5c64d4"/><rect x="406.30" y="514.20" width="10.70" height="6" fill="#3848b0"/><rect x="416.70" y="514.20" width="11.20" height="6" fill="#1f2f78"/></g>
<rect x="375.60" y="519.40" width="52" height="0.8" fill="#666" opacity="0.7"/>
<text x="376.10" y="519.60" font-size="7" fill="#3a2a20" opacity="0.85">643</text>
<text x="427.10" y="519.60" font-size="7" fill="#3a2a20" text-anchor="end" opacity="0.85">663</text>
<text x="427.6" y="509.7" font-size="7.2" fill="#222" text-anchor="end">Degree</text>
<g opacity="1.0"><rect x="470.80" y="514.40" width="11.50" height="6" fill="#f2dcd4"/><rect x="482.00" y="514.40" width="10.50" height="6" fill="#e8a898"/><rect x="492.20" y="514.40" width="10.10" height="6" fill="#d86a64"/><rect x="502.00" y="514.40" width="10.80" height="6" fill="#cc3036"/><rect x="512.50" y="514.40" width="10.30" height="6" fill="#c01818"/></g>
<rect x="470.80" y="519.60" width="51.7" height="0.8" fill="#666" opacity="0.7"/>
<text x="471.30" y="519.80" font-size="7" fill="#3a2a20" opacity="0.85">800</text>
<g opacity="1.0"><rect x="526.40" y="514.40" width="17.70" height="6" fill="#f6e6d2"/><rect x="543.80" y="514.40" width="9.70" height="6" fill="#f4c8a0"/><rect x="553.20" y="514.40" width="8.90" height="6" fill="#f0b080"/><rect x="561.80" y="514.40" width="9.60" height="6" fill="#e89a70"/></g>
<rect x="526.40" y="519.60" width="44.7" height="0.8" fill="#666" opacity="0.7"/>
<text x="526.90" y="519.80" font-size="7" fill="#3a2a20" opacity="0.85">989</text>
<g opacity="1.0"><rect x="572.10" y="514.40" width="17.80" height="6" fill="#f4fad8"/><rect x="589.60" y="514.40" width="13.40" height="6" fill="#ecf488"/><rect x="602.70" y="514.40" width="19.90" height="6" fill="#dcdc44"/></g>
<rect x="572.10" y="519.60" width="50.2" height="0.8" fill="#666" opacity="0.7"/>
<text x="572.60" y="519.80" font-size="7" fill="#3a2a20" opacity="0.85">1188</text>
<text x="621.80" y="519.80" font-size="7" fill="#3a2a20" text-anchor="end" opacity="0.85">1196</text>
<g opacity="1.0"><rect x="623.20" y="514.40" width="11.70" height="6" fill="#e0d0f0"/><rect x="634.60" y="514.40" width="10.10" height="6" fill="#a8a8f0"/><rect x="644.40" y="514.40" width="10.90" height="6" fill="#5c64d4"/><rect x="655.00" y="514.40" width="20.70" height="6" fill="#283a98"/></g>
<rect x="623.20" y="519.60" width="52.2" height="0.8" fill="#666" opacity="0.7"/>
<text x="623.70" y="519.80" font-size="7" fill="#3a2a20" opacity="0.85">1077</text>
<text x="674.90" y="519.80" font-size="7" fill="#3a2a20" text-anchor="end" opacity="0.85">1098</text>
<text x="676" y="509.9" font-size="7.2" fill="#222" text-anchor="end">Degree</text>
<text x="206.6" y="143.5" font-size="11.75" fill="#333" text-anchor="end">N=02</text>
<text x="206.6" y="154.3" font-size="11.75" fill="#333" text-anchor="end">Community 01</text>
<text x="434.8" y="143.5" font-size="11.75" fill="#333" text-anchor="end">N=02</text>
<text x="434.8" y="154.3" font-size="11.75" fill="#333" text-anchor="end">Community 02</text>
<text x="674.7" y="143.5" font-size="11.75" fill="#333" text-anchor="end">N=02</text>
<text x="674.7" y="154.3" font-size="11.75" fill="#333" text-anchor="end">Community 03</text>
<text x="206.5" y="310" font-size="11.75" fill="#333" text-anchor="end">N=05</text>
<text x="206.5" y="320.5" font-size="11.75" fill="#333" text-anchor="end">Community 04</text>
<text x="434.9" y="310" font-size="11.75" fill="#333" text-anchor="end">N=02</text>
<text x="434.9" y="320.5" font-size="11.75" fill="#333" text-anchor="end">Community 05</text>
<text x="674.7" y="310" font-size="11.75" fill="#333" text-anchor="end">N=04</text>
<text x="674.7" y="320.5" font-size="11.75" fill="#333" text-anchor="end">Community 06</text>
<text x="206.5" y="481.7" font-size="11.75" fill="#333" text-anchor="end">N=02</text>
<text x="206.5" y="492.2" font-size="11.75" fill="#333" text-anchor="end">Community 07</text>
<text x="434.9" y="481.7" font-size="11.75" fill="#333" text-anchor="end">N=02</text>
<text x="434.9" y="492.2" font-size="11.75" fill="#333" text-anchor="end">Community 08</text>
<text x="674.7" y="481.7" font-size="11.75" fill="#333" text-anchor="end">N=02</text>
<text x="674.7" y="492.2" font-size="11.75" fill="#333" text-anchor="end">Community 09</text>
<text x="206.5" y="633.1" font-size="11.75" fill="#333" text-anchor="end">N=03</text>
<text x="206.5" y="643.6" font-size="11.75" fill="#333" text-anchor="end">Community 10</text>
<text x="434.9" y="633.1" font-size="11.75" fill="#333" text-anchor="end">N=04</text>
<text x="434.9" y="643.6" font-size="11.75" fill="#333" text-anchor="end">Community 11</text>
<text x="675.2" y="633.1" font-size="11.75" fill="#333" text-anchor="end">N=04</text>
<text x="675.2" y="643.6" font-size="11.75" fill="#333" text-anchor="end">Community 12</text>
<text x="3.0" y="28.5" font-size="26.8" fill="#4a4a4a" textLength="50.6" lengthAdjust="spacingAndGlyphs">2023</text>
<text x="1.5" y="660.5" font-size="11.8" fill="#333">Edge risk weight</text>
<line x1="1.5" y1="668" x2="20.2" y2="668" stroke="#aaa" stroke-width="0.6"/>
<text x="20.5" y="671.6" font-size="9.4" fill="#333">0-26082.9274</text>
<line x1="74" y1="668" x2="95.6" y2="668" stroke="#aaa" stroke-width="0.6"/>
<text x="95.89999999999999" y="671.6" font-size="9.4" fill="#333">26082.9274-30243.2565</text>
<line x1="195.5" y1="668" x2="215.4" y2="668" stroke="#aaa" stroke-width="0.6"/>
<text x="215.70000000000002" y="671.6" font-size="9.4" fill="#333">30243.2565-35558.3229</text>
<line x1="315.6" y1="668" x2="336.2" y2="668" stroke="#aaa" stroke-width="0.6"/>
<text x="336.5" y="671.6" font-size="9.4" fill="#333">35558.3229-40045.6184</text>
<line x1="436" y1="668" x2="456.2" y2="668" stroke="#aaa" stroke-width="0.6"/>
<text x="456.5" y="671.6" font-size="9.4" fill="#333">40045.6184-47849.1106</text>
<line x1="557.5" y1="668" x2="578.6" y2="668" stroke="#aaa" stroke-width="0.6"/>
<text x="578.9" y="671.6" font-size="9.4" fill="#333">&gt;47849.1106</text>
<line x1="362" y1="668.3" x2="385" y2="668.3" stroke="#777" stroke-width="0.7"/>
<g class="c0"><circle cx="653.0" cy="170.0"/><circle cx="656.0" cy="174.0"/><circle cx="659.0" cy="175.0"/><circle cx="662.0" cy="170.0"/><circle cx="536.5" cy="186.0"/><circle cx="540.0" cy="185.0"/><circle cx="543.0" cy="184.5"/><circle cx="546.0" cy="185.5"/><circle cx="551.0" cy="183.0"/><circle cx="565.0" cy="176.0"/><circle cx="569.2" cy="173.9"/></g>
<g class="c2"><circle cx="538.5" cy="185.0"/><circle cx="544.5" cy="183.0"/><circle cx="548.0" cy="182.5"/><circle cx="557.8" cy="178.5"/></g>
<g class="c1"><circle cx="545.0" cy="186.5"/><circle cx="552.0" cy="183.5"/><circle cx="555.2" cy="181.4"/><circle cx="560.0" cy="180.0"/><circle cx="563.5" cy="180.7"/><circle cx="566.0" cy="181.4"/></g>
<g class="c0"><circle cx="637.0" cy="517.5"/></g>
</svg></body></html>
